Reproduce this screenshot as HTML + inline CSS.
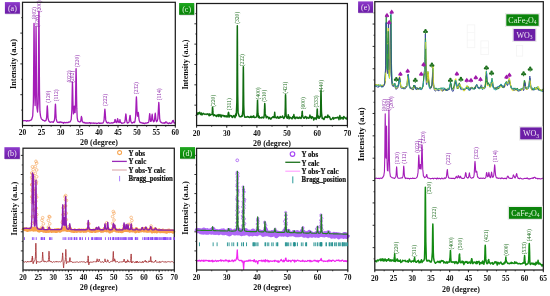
<!DOCTYPE html>
<html><head><meta charset="utf-8"><style>
html,body{margin:0;padding:0;background:#fff;width:550px;height:296px;overflow:hidden}
svg{display:block;filter:blur(0.3px)}
text{font-family:"Liberation Serif", serif}
</style></head><body>
<svg width="550" height="296" viewBox="0 0 550 296">
<defs>
<linearGradient id="gp" x1="0" y1="0" x2="0" y2="1"><stop offset="0" stop-color="#8e3ccc"/><stop offset="0.5" stop-color="#7a26b6"/><stop offset="1" stop-color="#6c1ea8"/></linearGradient>
<linearGradient id="gg" x1="0" y1="0" x2="0" y2="1"><stop offset="0" stop-color="#22a822"/><stop offset="0.5" stop-color="#0e920e"/><stop offset="1" stop-color="#0a820a"/></linearGradient>
</defs>
<rect width="550" height="296" fill="#fff"/>

<path d="M22.5 120.75 23.1 120.87 23.7 120.73 24.3 120.58 24.91 120.73 25.51 120.59 26.11 120.92 26.71 121.31 27.31 120.75 27.91 120.69 28.52 120.98 29.12 120.87 29.72 120.67 30.32 120.17 30.92 120.12 31.52 119.78 32.13 118.09 32.73 115.79 33.33 102.94 33.46 93.76 33.65 71.23 33.85 41.15 33.93 29.27 34.04 23.38 34.23 40.47 34.42 70.05 34.53 83.38 34.61 91.28 35.13 105.6 35.49 92.16 35.68 71.29 35.73 63.75 35.87 43.12 36.06 26.73 36.25 44.1 36.34 56.48 36.44 72.52 36.63 93.72 36.94 107.68 37.54 111.99 38.14 103.67 38.35 89.72 38.54 64.67 38.73 31.19 38.74 30.28 38.93 11.08 39.12 31.7 39.31 65.64 39.34 71.1 39.5 91.2 39.95 111.68 40.55 116.15 41.15 118.27 41.75 119.29 42.35 119.61 42.95 120.27 43.56 120.35 44.16 120.8 44.76 121.19 45.36 120.58 45.96 120.54 46.56 118.01 46.64 117.34 46.87 113.25 47.1 108.36 47.16 107.2 47.33 105.88 47.56 108.97 47.77 112.93 47.79 113.55 48.02 117.77 48.37 119.61 48.97 121.21 49.57 121.69 50.17 122.28 50.77 122.21 51.38 121.96 51.98 121.96 52.58 121.96 53.18 122.37 53.78 121.47 54.38 120.35 54.74 117.61 54.97 113.23 54.99 112.86 55.2 107.14 55.43 104.11 55.59 105.74 55.66 107.84 55.89 113.5 56.12 117.55 56.19 118.66 56.79 121.27 57.39 122.28 57.99 122.21 58.59 122.52 59.2 122.04 59.8 122.58 60.4 122.01 61 121.94 61.6 122.48 62.2 122.32 62.81 122.65 63.41 123.28 64.01 122.36 64.61 122.42 65.21 122.67 65.81 122.74 66.41 122.52 67.02 122.48 67.62 122.7 68.22 122.57 68.82 121.99 69.42 122.08 70.02 121.79 70.63 120.8 71.23 119.49 71.78 111.26 71.83 110.15 72.01 102.27 72.24 89.51 72.43 82.05 72.47 81.96 72.69 88.43 72.92 100.87 73.03 105.96 73.15 109.04 73.46 113.81 73.63 112.47 73.73 112.36 73.99 108.17 74.24 106.29 74.26 106.06 74.53 107.75 74.8 112.03 74.84 112.46 75.06 112.65 75.41 106.29 75.44 105.11 75.64 94.36 75.87 78.45 76.04 68.99 76.09 68.53 76.32 78.29 76.55 95.37 76.64 100.74 76.78 108.39 77.24 117.78 77.84 120.85 78.45 121.5 79.05 121.72 79.65 121.99 80.25 121.77 80.72 121 80.85 120.27 80.98 119.53 81.25 117.3 81.45 116.45 81.52 117.12 81.79 117.58 82.05 119.43 82.06 119.87 82.32 121.62 82.66 121.66 83.26 122.53 83.86 122.57 84.46 122.33 85.06 123.14 85.67 122.95 86.27 123.02 86.87 122.79 87.47 123.18 88.07 122.9 88.67 123.03 89.27 122.76 89.88 122.74 90.48 123.52 91.08 122.97 91.68 123.22 92.28 123.13 92.88 123.02 93.49 123 94.09 123.35 94.69 123.08 95.29 123.13 95.89 123.18 96.49 123.53 97.1 123.38 97.7 123.29 98.3 123 98.9 122.75 99.5 123.44 100.1 123.43 100.7 123.07 101.31 123.23 101.91 123.22 102.51 123.1 103.11 122.82 103.71 121.47 104.1 119.84 104.31 116.4 104.36 116.3 104.63 111.62 104.9 109.09 104.92 109.4 105.16 111.92 105.43 115.71 105.52 116.79 105.7 119.64 106.12 121.42 106.72 122.59 107.32 123.13 107.92 122.52 108.53 122.46 109.13 123.22 109.73 123.18 110.33 123.11 110.93 123.2 111.53 122.93 112.13 122.72 112.74 123.09 113.34 122.78 113.94 122.35 114.33 122.45 114.54 121.7 114.6 121.63 114.87 120.12 115.14 119.58 115.14 119.47 115.4 120.1 115.67 121.47 115.74 121.42 115.94 122.24 116.35 122.6 116.82 122.59 116.95 121.18 117.08 121.35 117.35 119.79 117.55 119.14 117.62 118.65 117.89 119.68 118.15 121.3 118.15 121.06 118.42 122 118.75 122.34 119.11 122.63 119.35 121.83 119.38 121.12 119.64 120.82 119.91 120 119.96 119.64 120.18 120.92 120.44 122.3 120.56 122.2 120.71 122.14 121.16 122.64 121.76 123.4 122.36 123.13 122.96 123.07 123.56 122.95 124.17 122.75 124.77 122.17 125.03 120.99 125.3 118.8 125.37 117.68 125.56 116.03 125.83 114.01 125.97 115.05 126.1 115.48 126.37 118.66 126.57 120.39 126.63 120.37 127.17 122.87 127.78 123.1 128.38 122.47 128.98 122.18 129.23 121.15 129.5 118.45 129.58 118.58 129.77 116.74 130.03 115.35 130.18 115.5 130.3 116.68 130.57 119.18 130.78 121.12 130.84 121.14 131.39 122.44 131.99 123.2 132.59 122.63 133.19 122.62 133.79 122 134.39 122.61 134.99 121.4 135.6 116.61 135.61 116.3 135.88 110.1 136.15 101.87 136.2 100.21 136.41 96.88 136.68 101.48 136.8 105.49 136.95 109.38 137.21 114.35 137.33 115.29 137.4 115.66 137.63 116.22 137.94 113.86 138 113.28 138.25 112.34 138.55 114.2 138.6 115.08 138.86 118.07 139.16 120.07 139.21 120.36 139.81 122.11 140.41 122.69 141.01 122.41 141.61 122.94 142.21 122.83 142.81 123.4 143.42 122.94 144.02 123.36 144.62 123.65 145.22 123.09 145.82 122.99 146.42 123.19 147.03 123.05 147.63 122.62 148.23 122.72 148.83 121.76 148.9 120.68 149.17 118.59 149.43 115.51 149.44 115.86 149.71 113.69 149.97 115.32 150.03 116.67 150.24 118.15 150.51 120.72 150.64 121.4 151.24 121.16 151.39 120.68 151.65 119.29 151.84 116.9 151.92 115.97 152.19 114.26 152.44 116.04 152.46 116.62 152.72 119.06 152.99 120.35 153.04 120.62 153.64 121.82 154.24 121.3 154.44 120.23 154.71 118.15 154.85 116.66 154.98 114.96 155.25 113.25 155.45 114.41 155.51 114.99 155.78 118.17 156.05 120.75 156.05 120.38 156.65 121.75 157.25 120.9 157.85 118.62 157.94 116.98 158.22 112.38 158.46 107.78 158.51 106.47 158.8 102.42 159.06 105.21 159.08 106.2 159.37 112.7 159.66 117.91 159.66 118.42 160.26 121.64 160.86 122.22 161.46 122.45 162.07 122.96 162.67 123.03 163.27 122.79 163.87 123.17 164.47 122.71 164.8 123.24 165.07 123.01 165.18 122.91 165.56 121.99 165.67 122.17 165.94 121.84 166.28 121.98 166.32 122.05 166.71 122.23 166.88 122.36 167.09 123.2 167.48 123.09 168.08 123.32 168.68 123.59 169.28 122.78 169.89 123.05 170.49 123.3 171.09 123.27 171.69 122.71 171.86 122.93 172.24 122.01 172.29 121.48 172.63 120.74 172.89 120.78 173.01 120.62 173.39 120.46 173.5 121.69 173.77 122.14 174.1 122.97 174.15 122.53 174.7 123.01 175.3 122.93" fill="none" stroke="#a41cb8" stroke-width="1.3" stroke-linejoin="round" />
<text transform="translate(34,13.2) rotate(-90)" font-size="5.6" fill="#8a22a8" font-weight="normal" text-anchor="middle" dominant-baseline="central" >(002)</text>
<text transform="translate(36.9,21.3) rotate(-90)" font-size="5.6" fill="#8a22a8" font-weight="normal" text-anchor="middle" dominant-baseline="central" >(020)</text>
<text transform="translate(39.1,6.4) rotate(-90)" font-size="5.6" fill="#8a22a8" font-weight="normal" text-anchor="middle" dominant-baseline="central" >(200)</text>
<text transform="translate(47.6,96.7) rotate(-90)" font-size="5.6" fill="#8a22a8" font-weight="normal" text-anchor="middle" dominant-baseline="central" >(120)</text>
<text transform="translate(56,95.3) rotate(-90)" font-size="5.6" fill="#8a22a8" font-weight="normal" text-anchor="middle" dominant-baseline="central" >(112)</text>
<text transform="translate(69.2,76.5) rotate(-90)" font-size="5.6" fill="#8a22a8" font-weight="normal" text-anchor="middle" dominant-baseline="central" >(022)</text>
<text transform="translate(72.4,76.8) rotate(-90)" font-size="5.6" fill="#8a22a8" font-weight="normal" text-anchor="middle" dominant-baseline="central" >(202)</text>
<text transform="translate(76.5,61) rotate(-90)" font-size="5.6" fill="#8a22a8" font-weight="normal" text-anchor="middle" dominant-baseline="central" >(220)</text>
<text transform="translate(104.9,99.9) rotate(-90)" font-size="5.6" fill="#8a22a8" font-weight="normal" text-anchor="middle" dominant-baseline="central" >(222)</text>
<text transform="translate(136.4,88.2) rotate(-90)" font-size="5.6" fill="#8a22a8" font-weight="normal" text-anchor="middle" dominant-baseline="central" >(232)</text>
<text transform="translate(158.8,94.3) rotate(-90)" font-size="5.6" fill="#8a22a8" font-weight="normal" text-anchor="middle" dominant-baseline="central" >(114)</text>
<rect x="22.5" y="2.3" width="152.8" height="123.2" fill="none" stroke="#1c1c1c" stroke-width="1.25"/>
<line x1="22.5" y1="125.5" x2="22.5" y2="127.7" stroke="#1a1a1a" stroke-width="1.0" />
<text x="22.5" y="135.3" font-size="7.5" fill="#111" font-weight="bold" text-anchor="middle" >20</text>
<line x1="32.05" y1="125.5" x2="32.05" y2="126.8" stroke="#1a1a1a" stroke-width="0.8" />
<line x1="41.6" y1="125.5" x2="41.6" y2="127.7" stroke="#1a1a1a" stroke-width="1.0" />
<text x="41.6" y="135.3" font-size="7.5" fill="#111" font-weight="bold" text-anchor="middle" >25</text>
<line x1="51.15" y1="125.5" x2="51.15" y2="126.8" stroke="#1a1a1a" stroke-width="0.8" />
<line x1="60.7" y1="125.5" x2="60.7" y2="127.7" stroke="#1a1a1a" stroke-width="1.0" />
<text x="60.7" y="135.3" font-size="7.5" fill="#111" font-weight="bold" text-anchor="middle" >30</text>
<line x1="70.25" y1="125.5" x2="70.25" y2="126.8" stroke="#1a1a1a" stroke-width="0.8" />
<line x1="79.8" y1="125.5" x2="79.8" y2="127.7" stroke="#1a1a1a" stroke-width="1.0" />
<text x="79.8" y="135.3" font-size="7.5" fill="#111" font-weight="bold" text-anchor="middle" >35</text>
<line x1="89.35" y1="125.5" x2="89.35" y2="126.8" stroke="#1a1a1a" stroke-width="0.8" />
<line x1="98.9" y1="125.5" x2="98.9" y2="127.7" stroke="#1a1a1a" stroke-width="1.0" />
<text x="98.9" y="135.3" font-size="7.5" fill="#111" font-weight="bold" text-anchor="middle" >40</text>
<line x1="108.45" y1="125.5" x2="108.45" y2="126.8" stroke="#1a1a1a" stroke-width="0.8" />
<line x1="118" y1="125.5" x2="118" y2="127.7" stroke="#1a1a1a" stroke-width="1.0" />
<text x="118" y="135.3" font-size="7.5" fill="#111" font-weight="bold" text-anchor="middle" >45</text>
<line x1="127.55" y1="125.5" x2="127.55" y2="126.8" stroke="#1a1a1a" stroke-width="0.8" />
<line x1="137.1" y1="125.5" x2="137.1" y2="127.7" stroke="#1a1a1a" stroke-width="1.0" />
<text x="137.1" y="135.3" font-size="7.5" fill="#111" font-weight="bold" text-anchor="middle" >50</text>
<line x1="146.65" y1="125.5" x2="146.65" y2="126.8" stroke="#1a1a1a" stroke-width="0.8" />
<line x1="156.2" y1="125.5" x2="156.2" y2="127.7" stroke="#1a1a1a" stroke-width="1.0" />
<text x="156.2" y="135.3" font-size="7.5" fill="#111" font-weight="bold" text-anchor="middle" >55</text>
<line x1="165.75" y1="125.5" x2="165.75" y2="126.8" stroke="#1a1a1a" stroke-width="0.8" />
<line x1="175.3" y1="125.5" x2="175.3" y2="127.7" stroke="#1a1a1a" stroke-width="1.0" />
<text x="175.3" y="135.3" font-size="7.5" fill="#111" font-weight="bold" text-anchor="middle" >60</text>
<line x1="21.2" y1="110.1" x2="22.5" y2="110.1" stroke="#1a1a1a" stroke-width="0.8" />
<line x1="20.3" y1="94.7" x2="22.5" y2="94.7" stroke="#1a1a1a" stroke-width="0.9" />
<line x1="21.2" y1="79.3" x2="22.5" y2="79.3" stroke="#1a1a1a" stroke-width="0.8" />
<line x1="20.3" y1="63.9" x2="22.5" y2="63.9" stroke="#1a1a1a" stroke-width="0.9" />
<line x1="21.2" y1="48.5" x2="22.5" y2="48.5" stroke="#1a1a1a" stroke-width="0.8" />
<line x1="20.3" y1="33.1" x2="22.5" y2="33.1" stroke="#1a1a1a" stroke-width="0.9" />
<line x1="21.2" y1="17.7" x2="22.5" y2="17.7" stroke="#1a1a1a" stroke-width="0.8" />
<text x="98.9" y="145.4" font-size="8" fill="#111" font-weight="bold" text-anchor="middle" >2&#952; (degree)</text>
<text transform="translate(13.3,64) rotate(-90)" font-size="8.35" fill="#111" font-weight="bold" text-anchor="middle" dominant-baseline="central" >Intensity (a.u)</text>
<rect x="5.5" y="2.9" width="15" height="11.6" fill="#c8c0cc" opacity="0.55"/>
<rect x="4.9" y="2.1" width="15" height="11.6" fill="url(#gp)"/>
<text x="12.4" y="10.6" font-size="8" fill="#f0e8f4" text-anchor="middle">(a)</text>
<path d="M196.6 115.03 197.2 112.98 197.8 114.51 198.4 112.84 199 113.6 199.6 112.24 200.2 113.38 200.81 114.58 201.41 112.9 202.01 114.86 202.61 114.37 203.21 113.36 203.81 113.88 204.41 114.01 205.01 114.42 205.61 114.12 206.21 113.97 206.81 114.47 207.41 113.97 208.02 113.84 208.62 114.9 209.22 115.72 209.82 113.85 210.42 115.13 211.02 114.64 211.62 114.31 212.18 113.98 212.22 112.31 212.31 112.34 212.45 107.76 212.58 107.23 212.72 108.23 212.82 109.89 212.86 111.67 212.99 113.26 213.42 115.7 214.02 115.42 214.62 114.7 215.22 115.57 215.83 115.76 216.43 116.55 217.03 115.11 217.63 115.86 218.23 114.57 218.83 116.52 219.43 115.18 220.03 114.65 220.63 116.09 221.23 117.07 221.83 115.01 222.43 115.4 223.04 115.71 223.64 115.44 224.24 116.69 224.84 115.77 225.44 115.87 226.04 116.95 226.64 115.89 227.24 116.84 227.84 115.54 228.12 114.55 228.27 112.92 228.42 114.43 228.44 112.48 228.57 112.37 228.72 112.93 228.87 114.55 229.02 115.61 229.04 117.21 229.64 115.74 230.24 115.41 230.85 115.9 231.45 115.67 232.05 117.35 232.65 117.42 233.25 115.99 233.85 115.63 234.45 116.4 235.05 117.68 235.65 114 236.25 115.7 236.85 102.64 236.93 95.87 237.06 71.18 237.19 42.44 237.32 25.87 237.44 41.9 237.45 45.94 237.57 72.72 237.7 94.74 238.05 112.79 238.66 114.44 239.26 116.22 239.86 116.73 240.46 116.77 241.06 116.77 241.66 115.82 242.26 116.18 242.86 110.69 242.96 106.03 243.09 93.73 243.22 75.82 243.35 66.67 243.46 74.29 243.48 75.46 243.6 91.66 243.73 104.99 244.06 114.28 244.66 117.12 245.26 116.91 245.87 117.34 246.47 117.07 247.07 116.69 247.67 116.55 248.27 117.15 248.87 116.93 249.47 117.57 250.07 117.4 250.67 116.33 251.27 117.49 251.87 116.38 252.47 116.97 253.07 117.24 253.68 115.82 254.28 117.55 254.88 117.59 255.48 117.32 256.08 117.02 256.68 116.71 257.12 112.76 257.25 109.12 257.28 107.77 257.39 104.03 257.52 100.14 257.66 104.15 257.79 109.46 257.88 112.16 257.93 113.21 258.48 117.61 259.08 116.1 259.68 117.89 260.28 117.75 260.89 117.81 261.49 117.89 262.09 117.06 262.69 117.36 263.29 118 263.89 117.55 264.35 114.18 264.49 108.98 264.49 110.62 264.63 106.23 264.76 103.51 264.9 105.49 265.03 108.95 265.09 112.81 265.17 113.91 265.69 115.26 266.29 117.85 266.89 116.44 267.49 116.63 268.09 117.18 268.7 118.73 269.3 117.42 269.9 117.95 270.5 119.13 271.1 119.02 271.7 117.66 272.3 117.55 272.9 116.72 273.5 117.12 274.1 117.6 274.26 116.88 274.41 115.38 274.56 114.46 274.7 112.19 274.71 112.76 274.87 114.25 275.02 115.77 275.17 117.43 275.3 117.52 275.91 117.45 276.51 118.04 277.11 116.98 277.71 116.48 278.31 118.26 278.91 117.76 279.51 118.05 280.11 116.45 280.71 117.52 281.31 117.33 281.91 117.11 282.51 115.98 283.11 117.48 283.72 118.4 284.32 117.79 284.92 115.9 285.16 112.11 285.3 106.72 285.44 96.24 285.52 95 285.57 94.81 285.71 98.99 285.84 107.47 285.98 113.02 286.12 115.56 286.72 117.64 287.32 118.22 287.83 116.62 287.92 116.64 287.98 117.05 288.14 116.95 288.29 114.76 288.44 115.36 288.52 116.1 288.59 117.43 288.74 117.09 289.12 118.88 289.72 117.03 290.32 117.69 290.93 117.69 291.53 118.49 292.13 118.69 292.73 116.63 293.33 116.97 293.56 117.55 293.72 116.12 293.87 114.62 293.93 116.4 294.02 115.81 294.17 116.24 294.32 116.27 294.47 118.11 294.53 117.26 295.13 118.72 295.73 117.15 296.33 117.2 296.93 118.06 297.53 117.34 298.13 118.44 298.74 118.1 299.34 117.15 299.94 117.94 300.54 117.56 301.14 118.47 301.74 115.61 301.75 115.62 301.89 114.9 302.02 113.11 302.16 111.54 302.3 111.37 302.34 112.34 302.43 115.16 302.57 115.87 302.94 116.83 303.54 117.92 304.14 118.24 304.74 117.24 305.34 116.59 305.95 116.76 306.55 118.45 307.15 117.31 307.75 117.79 308.35 118.06 308.95 118.29 309.32 117.18 309.55 117.34 309.55 116.23 309.78 116.01 310 115.13 310.15 117.02 310.23 116.28 310.45 116.35 310.68 117.17 310.75 117.38 311.35 118.42 311.95 116.62 312.55 117.08 313.15 117.61 313.76 119.94 314.36 118.67 314.96 117.8 315.56 118.42 316.16 119.38 316.76 116.23 316.83 115.32 316.97 114.16 317.1 110.5 317.24 109 317.36 109.38 317.38 111.64 317.51 114.55 317.65 116.04 317.96 117.98 318.56 116.09 319.16 118.21 319.76 117.34 320.36 116.52 320.6 111.9 320.74 104.18 320.87 94.3 320.96 91.85 321.01 90.38 321.15 95.39 321.28 103.98 321.42 111.09 321.57 113.33 322.17 118.44 322.77 117.94 323.37 118.72 323.97 119.46 324.57 117.92 325.17 116.47 325.77 117.2 326.37 116.94 326.97 117.44 327.42 117.54 327.57 115.55 327.65 117.24 327.87 115.11 328.1 116.22 328.17 115.94 328.32 116.07 328.55 116.91 328.78 117.05 328.78 116.99 329.38 116.54 329.98 117.91 330.58 119.42 331.18 119.54 331.78 119.02 332.38 118.53 332.98 117.43 333.58 119.12 334.18 117.93 334.78 117.92 335.38 117.74 335.98 118.04 336.59 117.62 337.19 117.9 337.79 117.09 338.39 117.64 338.99 119.62 339.18 117.56 339.41 117.04 339.59 117.26 339.63 117.31 339.86 115.6 340.09 116.58 340.19 117.7 340.31 117.45 340.54 117.72 340.79 119.07 341.39 117.4 341.99 118.03 342.59 117.55 343.19 119.17 343.8 116.42 344.4 117.44 345 117.56 345.6 118.51 346.2 118.47 346.8 119.1 347.4 116.73" fill="none" stroke="#0f6c0f" stroke-width="1.5" stroke-linejoin="round" />
<text transform="translate(212.6,100.8) rotate(-90)" font-size="5.6" fill="#1a6a1a" font-weight="normal" text-anchor="middle" dominant-baseline="central" >(220)</text>
<text transform="translate(228.7,104.2) rotate(-90)" font-size="5.6" fill="#1a6a1a" font-weight="normal" text-anchor="middle" dominant-baseline="central" >(311)</text>
<text transform="translate(236.6,17.8) rotate(-90)" font-size="5.6" fill="#1a6a1a" font-weight="normal" text-anchor="middle" dominant-baseline="central" >(320)</text>
<text transform="translate(242.4,60.2) rotate(-90)" font-size="5.6" fill="#1a6a1a" font-weight="normal" text-anchor="middle" dominant-baseline="central" >(222)</text>
<text transform="translate(257.5,93.4) rotate(-90)" font-size="5.6" fill="#1a6a1a" font-weight="normal" text-anchor="middle" dominant-baseline="central" >(400)</text>
<text transform="translate(263.8,95.8) rotate(-90)" font-size="5.6" fill="#1a6a1a" font-weight="normal" text-anchor="middle" dominant-baseline="central" >(510)</text>
<text transform="translate(285.3,87.6) rotate(-90)" font-size="5.6" fill="#1a6a1a" font-weight="normal" text-anchor="middle" dominant-baseline="central" >(421)</text>
<text transform="translate(302.6,103.3) rotate(-90)" font-size="5.6" fill="#1a6a1a" font-weight="normal" text-anchor="middle" dominant-baseline="central" >(600)</text>
<text transform="translate(316.3,101.5) rotate(-90)" font-size="5.6" fill="#1a6a1a" font-weight="normal" text-anchor="middle" dominant-baseline="central" >(533)</text>
<text transform="translate(321.3,86) rotate(-90)" font-size="5.6" fill="#1a6a1a" font-weight="normal" text-anchor="middle" dominant-baseline="central" >(440)</text>
<rect x="196.6" y="3.5" width="150.8" height="122" fill="none" stroke="#1c1c1c" stroke-width="1.25"/>
<line x1="196.6" y1="125.5" x2="196.6" y2="127.7" stroke="#1a1a1a" stroke-width="1.0" />
<text x="196.6" y="135.5" font-size="7.5" fill="#111" font-weight="bold" text-anchor="middle" >20</text>
<line x1="211.68" y1="125.5" x2="211.68" y2="126.8" stroke="#1a1a1a" stroke-width="0.8" />
<line x1="226.76" y1="125.5" x2="226.76" y2="127.7" stroke="#1a1a1a" stroke-width="1.0" />
<text x="226.76" y="135.5" font-size="7.5" fill="#111" font-weight="bold" text-anchor="middle" >30</text>
<line x1="241.84" y1="125.5" x2="241.84" y2="126.8" stroke="#1a1a1a" stroke-width="0.8" />
<line x1="256.92" y1="125.5" x2="256.92" y2="127.7" stroke="#1a1a1a" stroke-width="1.0" />
<text x="256.92" y="135.5" font-size="7.5" fill="#111" font-weight="bold" text-anchor="middle" >40</text>
<line x1="272" y1="125.5" x2="272" y2="126.8" stroke="#1a1a1a" stroke-width="0.8" />
<line x1="287.08" y1="125.5" x2="287.08" y2="127.7" stroke="#1a1a1a" stroke-width="1.0" />
<text x="287.08" y="135.5" font-size="7.5" fill="#111" font-weight="bold" text-anchor="middle" >50</text>
<line x1="302.16" y1="125.5" x2="302.16" y2="126.8" stroke="#1a1a1a" stroke-width="0.8" />
<line x1="317.24" y1="125.5" x2="317.24" y2="127.7" stroke="#1a1a1a" stroke-width="1.0" />
<text x="317.24" y="135.5" font-size="7.5" fill="#111" font-weight="bold" text-anchor="middle" >60</text>
<line x1="332.32" y1="125.5" x2="332.32" y2="126.8" stroke="#1a1a1a" stroke-width="0.8" />
<line x1="347.4" y1="125.5" x2="347.4" y2="127.7" stroke="#1a1a1a" stroke-width="1.0" />
<text x="347.4" y="135.5" font-size="7.5" fill="#111" font-weight="bold" text-anchor="middle" >70</text>
<line x1="195.3" y1="115.33" x2="196.6" y2="115.33" stroke="#1a1a1a" stroke-width="0.8" />
<line x1="194.4" y1="105.16" x2="196.6" y2="105.16" stroke="#1a1a1a" stroke-width="0.9" />
<line x1="195.3" y1="94.99" x2="196.6" y2="94.99" stroke="#1a1a1a" stroke-width="0.8" />
<line x1="194.4" y1="84.82" x2="196.6" y2="84.82" stroke="#1a1a1a" stroke-width="0.9" />
<line x1="195.3" y1="74.65" x2="196.6" y2="74.65" stroke="#1a1a1a" stroke-width="0.8" />
<line x1="194.4" y1="64.48" x2="196.6" y2="64.48" stroke="#1a1a1a" stroke-width="0.9" />
<line x1="195.3" y1="54.31" x2="196.6" y2="54.31" stroke="#1a1a1a" stroke-width="0.8" />
<line x1="194.4" y1="44.14" x2="196.6" y2="44.14" stroke="#1a1a1a" stroke-width="0.9" />
<line x1="195.3" y1="33.97" x2="196.6" y2="33.97" stroke="#1a1a1a" stroke-width="0.8" />
<line x1="194.4" y1="23.8" x2="196.6" y2="23.8" stroke="#1a1a1a" stroke-width="0.9" />
<line x1="195.3" y1="13.63" x2="196.6" y2="13.63" stroke="#1a1a1a" stroke-width="0.8" />
<text x="272" y="145.9" font-size="8" fill="#111" font-weight="bold" text-anchor="middle" >2&#952; (degree)</text>
<text transform="translate(185,64.5) rotate(-90)" font-size="8" fill="#111" font-weight="bold" text-anchor="middle" dominant-baseline="central" >Intensity (a.u.)</text>
<rect x="179.7" y="3.8" width="15.1" height="11.8" fill="#c8c0cc" opacity="0.55"/>
<rect x="179.1" y="3" width="15.1" height="11.8" fill="url(#gg)"/>
<text x="186.65" y="11.6" font-size="8" fill="#e4f4e0" text-anchor="middle">(c)</text>
<path d="M23 230.49 23.6 229.19 24.21 229.14 24.81 229.35 25.41 229.16 26.01 229.66 26.62 229.26 27.22 230.11 27.82 230.08 28.43 229.84 29.03 229.42 29.63 229.81 30.23 229.76 30.84 228.59 31.44 228.98 31.9 229.19 31.94 229 32.04 229.55 32.08 229.41 32.11 228.6 32.26 229 32.27 228.62 32.44 229.2 32.61 228.64 32.62 229.36 32.64 229.14 32.77 229.39 32.8 228.95 32.94 228.43 32.99 229.73 33.11 228.96 33.25 229.59 33.27 229.21 33.44 229.32 33.61 229.79 33.77 229.21 33.85 229.63 33.94 228.48 34.45 229.45 35.06 229.02 35.41 229.07 35.45 229.13 35.59 229.27 35.62 229.79 35.66 228.39 35.77 229.15 35.78 228.84 35.95 229.6 36.12 228.97 36.13 229.32 36.26 228.98 36.28 229.4 36.31 229.54 36.45 228.98 36.5 229.16 36.86 228.57 37.47 229.72 38.07 230.42 38.67 230.08 39.28 230.87 39.88 229.66 40.48 229.79 41.08 229.99 41.69 230.31 42.03 230.24 42.12 230.01 42.25 229.65 42.29 229.81 42.31 229.26 42.46 228.66 42.49 228.67 42.67 230.01 42.85 228.22 42.88 229.1 42.89 229.75 43.03 229.66 43.09 229.37 43.21 230.07 43.3 230.61 43.49 230.96 44.1 230.27 44.7 230.97 45.3 230.78 45.91 231.13 46.51 231.25 47.11 230.55 47.71 230.08 48.32 230.64 48.45 231.03 48.54 230.4 48.66 229.84 48.72 230.47 48.87 228.77 48.9 229.55 48.92 228.96 49.08 229.21 49.27 229.22 49.3 229.79 49.45 229.14 49.51 229.54 49.52 229.17 49.63 230.32 49.72 230.14 50.13 230.8 50.73 230.27 51.33 230.58 51.93 231.15 52.54 230.67 53.14 230.99 53.74 230.96 54.35 230.6 54.95 230.12 55.55 231.14 56.15 230.81 56.76 231.13 57.36 229.92 57.96 230.05 58.56 229.84 59.17 230.31 59.77 231.03 60.37 230.76 60.98 230.36 61.58 230 62.18 229.53 62.29 229.11 62.46 229.39 62.63 229.29 62.78 228.36 62.79 229.08 62.96 229.78 63.12 229.07 63.29 229.18 63.39 228.99 63.61 229.04 63.79 229.68 63.97 229.13 63.99 228.83 64.15 227.99 64.34 229.01 64.52 228.45 64.59 228.51 64.7 229.56 64.94 229.52 65.17 228.47 65.18 229.58 65.2 229.42 65.33 228.93 65.42 229.53 65.5 228.59 65.67 228.76 65.8 228.67 65.83 228.8 65.91 229.59 66 228.71 66.15 228.78 66.17 228.86 66.39 229.32 66.4 229.11 67 230.25 67.61 230.02 68.21 229.91 68.81 230.1 69.21 229.27 69.39 228.88 69.41 229.36 69.57 229.98 69.75 229.02 69.93 229.27 70.02 229.79 70.11 228.99 70.3 228.94 70.62 229.9 71.22 230.8 71.83 230.92 72.43 230.69 73.03 230.79 73.63 231.3 74.24 231.15 74.84 230.25 75.44 230.82 76.05 230.87 76.65 231.12 77.25 230.74 77.85 230.58 78.46 230.66 79.06 230.13 79.66 230.84 80.26 230.61 80.87 231.04 81.47 230.44 82.07 230.68 82.68 230.46 83.28 230.42 83.88 231.12 84.48 230.65 85.09 231 85.69 230.35 86.29 230.79 86.9 229.96 87.5 229.76 87.73 229.1 87.91 229.53 88.09 229.37 88.1 229.23 88.27 229.63 88.45 229.38 88.63 229.52 88.7 229.61 88.82 229.27 89.31 230.33 89.91 230.84 90.51 230.62 91.12 230.98 91.72 231.29 92.32 231.19 92.92 230.7 93.53 230.34 94.13 230.83 94.73 230.78 95.33 231.2 95.9 230.11 95.94 230.09 96.11 229.95 96.32 229.13 96.53 229.26 96.54 230.01 96.74 229.92 96.96 229.87 97.14 230.26 97.17 229.82 97.75 230.73 98.01 230.12 98.23 229.47 98.35 229.12 98.44 229.33 98.65 229.26 98.86 229.46 98.95 229.9 99.07 229.55 99.29 229.49 99.55 230.21 100.16 230.17 100.76 230.53 101.36 231.08 101.97 231.02 102.57 230.61 103.17 230.91 103.77 230.4 104.38 229.28 104.46 228.85 104.64 229.01 104.82 229.92 104.98 228.82 105 229.85 105.19 229.88 105.37 229.28 105.55 229.35 105.58 229.31 106.18 230.56 106.79 230.67 107.18 229.36 107.36 229.76 107.39 229.83 107.55 229.5 107.73 229.49 107.91 229.34 107.99 229.5 108.09 228.92 108.27 229.52 108.6 230.45 109.2 230.39 109.8 231.67 110.4 230.44 111.01 230.47 111.61 230.88 112.21 229.81 112.51 229.89 112.74 228.77 112.78 228.99 112.82 229.32 112.93 229.5 113.05 229.82 113.13 229.7 113.33 229.85 113.42 229.61 113.52 229.19 113.6 229.82 113.72 229.18 113.87 229.13 113.92 229.99 114.02 229.69 114.05 229.47 114.14 229.68 114.26 229.73 114.48 228.84 114.62 229.34 114.69 228.91 114.9 229.43 115.11 229.11 115.23 229.93 115.32 229.88 115.83 230.32 116.43 230.81 117.04 230.39 117.64 230.92 118.24 231.14 118.84 231.03 119.45 230.16 120.05 230.8 120.65 231.13 121.25 231.03 121.86 231.35 122.46 230.3 123.06 230.81 123.52 229.15 123.67 229.49 123.71 229.57 123.89 229.69 124.07 229.18 124.25 229.49 124.27 228.94 124.43 228.85 124.61 229.63 124.87 230.18 125.47 229.47 125.64 229.14 125.82 229.42 126.01 230.04 126.08 229.84 126.19 229.74 126.37 228.7 126.55 229.38 126.68 229.61 126.73 229.61 127.28 230.25 127.46 229.36 127.64 230.13 127.82 230.01 127.89 229.39 128 229.03 128.18 230.25 128.37 229.2 128.49 229.9 128.55 230.32 129.09 230.29 129.69 230.84 130.3 230.3 130.41 230.41 130.59 229.6 130.67 230.21 130.79 229.67 130.9 229.43 130.92 229.88 130.98 229.32 131.18 229.29 131.38 230.33 131.44 229.11 131.5 229.24 131.57 229.45 131.69 229.01 131.77 228.66 131.95 230.67 132.1 230.23 132.71 230.62 133.31 230.76 133.91 230.54 134.52 230.5 135.12 230.93 135.57 231.6 135.72 230.77 135.87 230.57 136.17 229.2 136.32 229.61 136.47 229.08 136.78 230.12 136.93 229.95 137.08 230.3 137.38 230.61 137.53 230.52 138.13 230.33 138.74 231.19 139.34 230.41 139.94 230.48 140.54 230.78 141.15 230.34 141.32 230.52 141.62 230.2 141.75 229.57 141.92 229.55 142.22 229.48 142.35 229.81 142.53 228.73 142.83 229.93 142.95 229.69 143.13 229.89 143.56 230.76 144.16 230.67 144.76 230.77 144.95 230.71 145.25 228.61 145.37 229.45 145.55 230.26 145.86 229.83 145.97 230.06 146.16 229.52 146.46 228.98 146.57 229.42 146.76 230.58 147.17 231.13 147.78 230.61 148.38 230.81 148.98 230.97 149.59 229.83 149.79 230.05 150.09 230.14 150.19 230.37 150.39 229.45 150.7 230.23 150.79 229.29 151 229.18 151.3 228.61 151.39 230.02 151.61 230.05 152 231.66 152.6 231.06 153.2 231.04 153.81 230.23 154.41 231.38 154.63 230.43 154.93 230.02 155.01 229.05 155.24 229.88 155.54 229.91 155.61 229.27 155.84 229.55 156.14 230.26 156.22 230.63 156.45 230.64 156.82 231.59 157.42 230.93 158.02 230.82 158.63 230.89 159.23 230.08 159.83 230.78 160.44 231.51 161.04 231.22 161.64 230.79 162.24 231.26 162.85 230.32 163.45 231.02 164.05 231.34 164.66 231.41 165.26 230.83 165.86 231.51 166.46 231.89 167.07 230.98 167.67 231.45 168.27 230.53 168.87 230.37 169.48 231.4 170.08 231.18 170.68 231.24 171.29 230.93 171.89 231.05 172.49 231.49 173.09 231.86 173.7 231.09 174.3 230.51" fill="none" stroke="#f7a24c" stroke-width="3.6" stroke-linejoin="round" />
<circle cx="31.74" cy="172.97" r="1.35" fill="none" stroke="#f5a050" stroke-width="0.6"/>
<circle cx="33.14" cy="169.57" r="1.35" fill="none" stroke="#f5a050" stroke-width="0.6"/>
<circle cx="32.44" cy="166.79" r="1.35" fill="none" stroke="#f5a050" stroke-width="0.6"/>
<circle cx="35.25" cy="180.13" r="1.35" fill="none" stroke="#f5a050" stroke-width="0.6"/>
<circle cx="36.65" cy="176.73" r="1.35" fill="none" stroke="#f5a050" stroke-width="0.6"/>
<circle cx="35.25" cy="173.33" r="1.35" fill="none" stroke="#f5a050" stroke-width="0.6"/>
<circle cx="36.65" cy="169.93" r="1.35" fill="none" stroke="#f5a050" stroke-width="0.6"/>
<circle cx="35.25" cy="166.53" r="1.35" fill="none" stroke="#f5a050" stroke-width="0.6"/>
<circle cx="36.65" cy="163.13" r="1.35" fill="none" stroke="#f5a050" stroke-width="0.6"/>
<circle cx="35.95" cy="161.36" r="1.35" fill="none" stroke="#f5a050" stroke-width="0.6"/>
<circle cx="41.97" cy="227.16" r="1.35" fill="none" stroke="#f5a050" stroke-width="0.6"/>
<circle cx="43.37" cy="223.76" r="1.35" fill="none" stroke="#f5a050" stroke-width="0.6"/>
<circle cx="41.97" cy="220.36" r="1.35" fill="none" stroke="#f5a050" stroke-width="0.6"/>
<circle cx="42.67" cy="217.71" r="1.35" fill="none" stroke="#f5a050" stroke-width="0.6"/>
<circle cx="48.38" cy="227.19" r="1.35" fill="none" stroke="#f5a050" stroke-width="0.6"/>
<circle cx="49.78" cy="223.79" r="1.35" fill="none" stroke="#f5a050" stroke-width="0.6"/>
<circle cx="48.38" cy="220.39" r="1.35" fill="none" stroke="#f5a050" stroke-width="0.6"/>
<circle cx="49.78" cy="216.99" r="1.35" fill="none" stroke="#f5a050" stroke-width="0.6"/>
<circle cx="49.08" cy="216.5" r="1.35" fill="none" stroke="#f5a050" stroke-width="0.6"/>
<circle cx="112.63" cy="223.4" r="1.35" fill="none" stroke="#f5a050" stroke-width="0.6"/>
<circle cx="114.03" cy="220" r="1.35" fill="none" stroke="#f5a050" stroke-width="0.6"/>
<circle cx="112.63" cy="216.6" r="1.35" fill="none" stroke="#f5a050" stroke-width="0.6"/>
<circle cx="114.03" cy="213.2" r="1.35" fill="none" stroke="#f5a050" stroke-width="0.6"/>
<circle cx="113.33" cy="211.53" r="1.35" fill="none" stroke="#f5a050" stroke-width="0.6"/>
<circle cx="130.48" cy="223.96" r="1.35" fill="none" stroke="#f5a050" stroke-width="0.6"/>
<circle cx="131.88" cy="220.56" r="1.35" fill="none" stroke="#f5a050" stroke-width="0.6"/>
<circle cx="131.18" cy="217.43" r="1.35" fill="none" stroke="#f5a050" stroke-width="0.6"/>
<circle cx="64.97" cy="196.74" r="1.35" fill="none" stroke="#f5a050" stroke-width="0.6"/>
<circle cx="65.67" cy="195.53" r="1.35" fill="none" stroke="#f5a050" stroke-width="0.6"/>
<circle cx="32.34" cy="223.35" r="1.3" fill="none" stroke="#f5a050" stroke-width="0.6"/>
<circle cx="32.29" cy="216.65" r="1.3" fill="none" stroke="#f5a050" stroke-width="0.6"/>
<circle cx="33.37" cy="210.09" r="1.3" fill="none" stroke="#f5a050" stroke-width="0.6"/>
<circle cx="32.36" cy="202.63" r="1.3" fill="none" stroke="#f5a050" stroke-width="0.6"/>
<circle cx="31.77" cy="196.71" r="1.3" fill="none" stroke="#f5a050" stroke-width="0.6"/>
<circle cx="32.16" cy="190.73" r="1.3" fill="none" stroke="#f5a050" stroke-width="0.6"/>
<circle cx="31.78" cy="184.92" r="1.3" fill="none" stroke="#f5a050" stroke-width="0.6"/>
<circle cx="31.69" cy="177.33" r="1.3" fill="none" stroke="#f5a050" stroke-width="0.6"/>
<circle cx="32.59" cy="174.2" r="1.3" fill="none" stroke="#f5a050" stroke-width="0.6"/>
<circle cx="32.92" cy="181.64" r="1.3" fill="none" stroke="#f5a050" stroke-width="0.6"/>
<circle cx="32.47" cy="188.78" r="1.3" fill="none" stroke="#f5a050" stroke-width="0.6"/>
<circle cx="32.77" cy="194.46" r="1.3" fill="none" stroke="#f5a050" stroke-width="0.6"/>
<circle cx="32.28" cy="199.98" r="1.3" fill="none" stroke="#f5a050" stroke-width="0.6"/>
<circle cx="32.67" cy="197.88" r="1.3" fill="none" stroke="#f5a050" stroke-width="0.6"/>
<circle cx="32.86" cy="191.93" r="1.3" fill="none" stroke="#f5a050" stroke-width="0.6"/>
<circle cx="31.78" cy="184.48" r="1.3" fill="none" stroke="#f5a050" stroke-width="0.6"/>
<circle cx="32.23" cy="179.22" r="1.3" fill="none" stroke="#f5a050" stroke-width="0.6"/>
<circle cx="33.11" cy="176.75" r="1.3" fill="none" stroke="#f5a050" stroke-width="0.6"/>
<circle cx="32.9" cy="183.95" r="1.3" fill="none" stroke="#f5a050" stroke-width="0.6"/>
<circle cx="33.38" cy="190.12" r="1.3" fill="none" stroke="#f5a050" stroke-width="0.6"/>
<circle cx="32.47" cy="197.09" r="1.3" fill="none" stroke="#f5a050" stroke-width="0.6"/>
<circle cx="33.99" cy="203.28" r="1.3" fill="none" stroke="#f5a050" stroke-width="0.6"/>
<circle cx="34.57" cy="209.41" r="1.3" fill="none" stroke="#f5a050" stroke-width="0.6"/>
<circle cx="33.86" cy="216.36" r="1.3" fill="none" stroke="#f5a050" stroke-width="0.6"/>
<circle cx="34.52" cy="222.37" r="1.3" fill="none" stroke="#f5a050" stroke-width="0.6"/>
<circle cx="35.17" cy="223.17" r="1.3" fill="none" stroke="#f5a050" stroke-width="0.6"/>
<circle cx="35.84" cy="217.4" r="1.3" fill="none" stroke="#f5a050" stroke-width="0.6"/>
<circle cx="35.51" cy="211.37" r="1.3" fill="none" stroke="#f5a050" stroke-width="0.6"/>
<circle cx="34.67" cy="203.82" r="1.3" fill="none" stroke="#f5a050" stroke-width="0.6"/>
<circle cx="36.69" cy="197.22" r="1.3" fill="none" stroke="#f5a050" stroke-width="0.6"/>
<circle cx="34.77" cy="191.63" r="1.3" fill="none" stroke="#f5a050" stroke-width="0.6"/>
<circle cx="36.17" cy="183.84" r="1.3" fill="none" stroke="#f5a050" stroke-width="0.6"/>
<circle cx="36.43" cy="181.77" r="1.3" fill="none" stroke="#f5a050" stroke-width="0.6"/>
<circle cx="35.28" cy="188.7" r="1.3" fill="none" stroke="#f5a050" stroke-width="0.6"/>
<circle cx="35.87" cy="194.73" r="1.3" fill="none" stroke="#f5a050" stroke-width="0.6"/>
<circle cx="36" cy="201.27" r="1.3" fill="none" stroke="#f5a050" stroke-width="0.6"/>
<circle cx="36.33" cy="208.27" r="1.3" fill="none" stroke="#f5a050" stroke-width="0.6"/>
<circle cx="36.84" cy="214.55" r="1.3" fill="none" stroke="#f5a050" stroke-width="0.6"/>
<circle cx="35.76" cy="220.61" r="1.3" fill="none" stroke="#f5a050" stroke-width="0.6"/>
<circle cx="62.16" cy="222.31" r="1.3" fill="none" stroke="#f5a050" stroke-width="0.6"/>
<circle cx="62.98" cy="214.72" r="1.3" fill="none" stroke="#f5a050" stroke-width="0.6"/>
<circle cx="63.18" cy="207.96" r="1.3" fill="none" stroke="#f5a050" stroke-width="0.6"/>
<circle cx="63.48" cy="207.17" r="1.3" fill="none" stroke="#f5a050" stroke-width="0.6"/>
<circle cx="63.5" cy="214.17" r="1.3" fill="none" stroke="#f5a050" stroke-width="0.6"/>
<circle cx="63.03" cy="220.52" r="1.3" fill="none" stroke="#f5a050" stroke-width="0.6"/>
<circle cx="63.09" cy="223.23" r="1.3" fill="none" stroke="#f5a050" stroke-width="0.6"/>
<circle cx="64.87" cy="220.7" r="1.3" fill="none" stroke="#f5a050" stroke-width="0.6"/>
<circle cx="65.08" cy="225.17" r="1.3" fill="none" stroke="#f5a050" stroke-width="0.6"/>
<circle cx="64.57" cy="219.96" r="1.3" fill="none" stroke="#f5a050" stroke-width="0.6"/>
<circle cx="64.31" cy="212.52" r="1.3" fill="none" stroke="#f5a050" stroke-width="0.6"/>
<circle cx="65.62" cy="205.82" r="1.3" fill="none" stroke="#f5a050" stroke-width="0.6"/>
<circle cx="66.47" cy="200.48" r="1.3" fill="none" stroke="#f5a050" stroke-width="0.6"/>
<circle cx="65.41" cy="199.73" r="1.3" fill="none" stroke="#f5a050" stroke-width="0.6"/>
<circle cx="65.07" cy="205.8" r="1.3" fill="none" stroke="#f5a050" stroke-width="0.6"/>
<circle cx="66.24" cy="213.31" r="1.3" fill="none" stroke="#f5a050" stroke-width="0.6"/>
<circle cx="66.31" cy="219.63" r="1.3" fill="none" stroke="#f5a050" stroke-width="0.6"/>
<circle cx="66.01" cy="226.18" r="1.3" fill="none" stroke="#f5a050" stroke-width="0.6"/>
<circle cx="69.17" cy="226.34" r="1.3" fill="none" stroke="#f5a050" stroke-width="0.6"/>
<circle cx="88.88" cy="223.76" r="1.3" fill="none" stroke="#f5a050" stroke-width="0.6"/>
<circle cx="88.26" cy="223.8" r="1.3" fill="none" stroke="#f5a050" stroke-width="0.6"/>
<circle cx="105.77" cy="224.87" r="1.3" fill="none" stroke="#f5a050" stroke-width="0.6"/>
<circle cx="106.71" cy="222.75" r="1.3" fill="none" stroke="#f5a050" stroke-width="0.6"/>
<circle cx="113.72" cy="225.84" r="1.3" fill="none" stroke="#f5a050" stroke-width="0.6"/>
<circle cx="114.37" cy="226.14" r="1.3" fill="none" stroke="#f5a050" stroke-width="0.6"/>
<circle cx="124.08" cy="225.71" r="1.3" fill="none" stroke="#f5a050" stroke-width="0.6"/>
<circle cx="128.26" cy="224.51" r="1.3" fill="none" stroke="#f5a050" stroke-width="0.6"/>
<circle cx="131.15" cy="225.53" r="1.3" fill="none" stroke="#f5a050" stroke-width="0.6"/>
<circle cx="151.07" cy="225.96" r="1.3" fill="none" stroke="#f5a050" stroke-width="0.6"/>
<path d="M23 228.77 23.6 228.63 24.21 228.5 24.81 228.4 25.41 228.32 26.01 228.28 26.62 228.28 27.22 228.31 27.82 228.37 28.43 228.43 29.03 228.47 29.63 228.47 30.23 228.34 30.84 227.92 31.44 226.45 31.9 217.36 31.94 214.78 32.04 207.28 32.08 203.96 32.11 200.96 32.26 184.6 32.27 183.04 32.44 172.97 32.61 181.32 32.62 182.68 32.64 184.7 32.77 196.04 32.8 198.11 32.94 202.71 32.99 202.29 33.11 196.68 33.25 184.84 33.27 182.59 33.44 174.55 33.61 184.3 33.77 201.63 33.85 208.66 33.94 214.96 34.45 226 35.06 225.84 35.41 218.85 35.45 216.6 35.59 207.08 35.62 204.44 35.66 200.71 35.77 190.01 35.78 188.64 35.95 180.13 36.12 188.78 36.13 190.16 36.26 202.6 36.28 204.71 36.31 207.38 36.45 217.03 36.5 219.33 36.86 226.86 37.47 228.5 38.07 228.98 38.67 229.2 39.28 229.32 39.88 229.39 40.48 229.43 41.08 229.45 41.69 229.4 42.03 229.13 42.12 228.94 42.25 228.58 42.29 228.42 42.31 228.35 42.46 227.7 42.49 227.58 42.67 227.16 42.85 227.59 42.88 227.71 42.89 227.76 43.03 228.37 43.09 228.6 43.21 228.97 43.3 229.16 43.49 229.38 44.1 229.53 44.7 229.56 45.3 229.58 45.91 229.59 46.51 229.59 47.11 229.59 47.71 229.56 48.32 229.39 48.45 229.22 48.54 229.02 48.66 228.65 48.72 228.41 48.87 227.74 48.9 227.61 48.92 227.55 49.08 227.19 49.27 227.62 49.3 227.75 49.45 228.41 49.51 228.65 49.52 228.71 49.63 229.03 49.72 229.22 50.13 229.53 50.73 229.6 51.33 229.62 51.93 229.63 52.54 229.64 53.14 229.64 53.74 229.65 54.35 229.65 54.95 229.65 55.55 229.64 56.15 229.64 56.76 229.63 57.36 229.62 57.96 229.61 58.56 229.59 59.17 229.56 59.77 229.52 60.37 229.43 60.98 229.27 61.58 228.85 62.18 225.78 62.29 223.32 62.46 217.12 62.63 209.11 62.78 204.75 62.79 204.73 62.96 208.93 63.12 216.73 63.29 222.57 63.39 224.41 63.61 225.06 63.79 222.89 63.97 219.58 63.99 219.28 64.15 217.74 64.34 219.59 64.52 222.94 64.59 224.11 64.7 225.29 64.94 225.49 65.17 220.88 65.18 220.32 65.2 219.83 65.33 212.87 65.42 207.14 65.5 202.39 65.67 196.74 65.8 200.55 65.83 202.52 65.91 207.33 66 213.14 66.15 220.77 66.17 221.35 66.39 226.53 66.4 226.62 67 228.8 67.61 229.21 68.21 229.33 68.81 229.2 69.21 228.12 69.39 226.66 69.41 226.4 69.57 224.77 69.75 223.75 69.93 224.79 70.02 225.68 70.11 226.71 70.3 228.18 70.62 229.24 71.22 229.54 71.83 229.62 72.43 229.66 73.03 229.68 73.63 229.7 74.24 229.71 74.84 229.72 75.44 229.73 76.05 229.73 76.65 229.74 77.25 229.74 77.85 229.75 78.46 229.75 79.06 229.75 79.66 229.76 80.26 229.76 80.87 229.76 81.47 229.76 82.07 229.76 82.68 229.76 83.28 229.76 83.88 229.76 84.48 229.75 85.09 229.74 85.69 229.72 86.29 229.67 86.9 229.55 87.5 228.86 87.73 227.43 87.91 225.06 88.09 221.98 88.1 221.79 88.27 220.32 88.45 221.98 88.63 225.06 88.7 226.11 88.82 227.44 89.31 229.36 89.91 229.62 90.51 229.7 91.12 229.74 91.72 229.76 92.32 229.77 92.92 229.77 93.53 229.77 94.13 229.77 94.73 229.75 95.33 229.68 95.9 229.18 95.94 229.09 96.11 228.57 96.32 227.78 96.53 227.34 96.54 227.34 96.74 227.76 96.96 228.54 97.14 229.07 97.17 229.13 97.75 229.42 98.01 229.02 98.23 228.3 98.35 227.75 98.44 227.36 98.65 226.85 98.86 227.37 98.95 227.77 99.07 228.33 99.29 229.07 99.55 229.52 100.16 229.72 100.76 229.76 101.36 229.78 101.97 229.78 102.57 229.76 103.17 229.73 103.77 229.62 104.38 228.77 104.46 228.33 104.64 226.84 104.82 224.92 104.98 223.9 105 223.87 105.19 224.9 105.37 226.82 105.55 228.29 105.58 228.48 106.18 229.48 106.79 229.33 107.18 227.93 107.36 226.08 107.39 225.75 107.55 223.68 107.73 222.38 107.91 223.69 107.99 224.8 108.09 226.1 108.27 227.97 108.6 229.29 109.2 229.65 109.8 229.73 110.4 229.75 111.01 229.74 111.61 229.69 112.21 229.51 112.51 229.13 112.74 228.21 112.78 227.91 112.82 227.66 112.93 226.61 113.05 225.33 113.13 224.54 113.33 223.4 113.42 223.65 113.52 224.44 113.6 225.18 113.72 226.34 113.87 227.38 113.92 227.57 114.02 227.76 114.05 227.75 114.14 227.58 114.26 227.03 114.48 225.66 114.62 224.97 114.69 224.9 114.9 225.79 115.11 227.37 115.23 228.11 115.32 228.59 115.83 229.57 116.43 229.74 117.04 229.79 117.64 229.82 118.24 229.84 118.84 229.85 119.45 229.85 120.05 229.85 120.65 229.85 121.25 229.83 121.86 229.81 122.46 229.74 123.06 229.53 123.52 228.14 123.67 226.85 123.71 226.4 123.89 224.15 124.07 222.93 124.25 224.13 124.27 224.35 124.43 226.35 124.61 228.06 124.87 229.12 125.47 229.04 125.64 228.4 125.82 227.09 126.01 225.37 126.08 224.81 126.19 224.44 126.37 225.37 126.55 227.07 126.68 228.07 126.73 228.37 127.28 229.01 127.46 228.38 127.64 227.08 127.82 225.37 127.89 224.86 128 224.45 128.18 225.4 128.37 227.14 128.49 228.12 128.55 228.48 129.09 229.59 129.69 229.65 130.3 229.36 130.41 229.13 130.59 228.39 130.67 227.91 130.79 226.91 130.9 225.81 130.92 225.57 130.98 224.99 131.18 223.96 131.38 225 131.44 225.59 131.5 226.24 131.57 226.93 131.69 227.94 131.77 228.42 131.95 229.17 132.1 229.47 132.71 229.76 133.31 229.83 133.91 229.86 134.52 229.85 135.12 229.79 135.57 229.56 135.72 229.4 135.87 229.2 136.17 228.73 136.32 228.54 136.47 228.47 136.78 228.73 136.93 228.97 137.08 229.2 137.38 229.57 137.53 229.68 138.13 229.86 138.74 229.89 139.34 229.89 139.94 229.87 140.54 229.82 141.15 229.55 141.32 229.33 141.62 228.72 141.75 228.38 141.92 227.93 142.22 227.49 142.35 227.58 142.53 227.92 142.83 228.7 142.95 228.99 143.13 229.31 143.56 229.68 144.16 229.75 144.76 229.46 144.95 229.2 145.25 228.47 145.37 228.11 145.55 227.52 145.86 227.01 145.97 227.09 146.16 227.52 146.46 228.48 146.57 228.79 146.76 229.22 147.17 229.67 147.78 229.82 148.38 229.84 148.98 229.79 149.59 229.45 149.79 229.11 150.09 228.25 150.19 227.89 150.39 227.13 150.7 226.52 150.79 226.59 151 227.13 151.3 228.25 151.39 228.56 151.61 229.12 152 229.65 152.6 229.85 153.2 229.89 153.81 229.88 154.41 229.71 154.63 229.5 154.93 229.01 155.01 228.85 155.24 228.38 155.54 228.04 155.61 228.06 155.84 228.39 156.14 229.03 156.22 229.17 156.45 229.53 156.82 229.82 157.42 229.95 158.02 229.98 158.63 230 159.23 230.02 159.83 230.02 160.44 230.03 161.04 230.04 161.64 230.04 162.24 230.04 162.85 230.05 163.45 230.05 164.05 230.05 164.66 230.06 165.26 230.06 165.86 230.06 166.46 230.07 167.07 230.07 167.67 230.07 168.27 230.07 168.87 230.08 169.48 230.08 170.08 230.08 170.68 230.08 171.29 230.08 171.89 230.09 172.49 230.09 173.09 230.09 173.7 230.09 174.3 230.1" fill="none" stroke="#8e1fb0" stroke-width="1.35" stroke-linejoin="round" />
<path d="M23 262.02 23.6 261.62 24.21 261.87 24.81 262.3 25.41 261.46 26.01 262.24 26.62 262.12 27.22 262.08 27.82 261.08 28.43 261.92 29.03 262.21 29.63 261.63 30.23 261.94 30.84 260.89 31.44 261.9 31.9 260.3 31.94 260.62 32.04 258.65 32.08 259.27 32.11 258.55 32.26 257.09 32.27 256.24 32.44 256.03 32.61 259.17 32.62 258.16 32.64 258.52 32.77 260.36 32.8 260.41 32.94 262.66 32.99 263.25 33.11 262.98 33.25 262.5 33.27 263.56 33.44 262.87 33.61 262.32 33.77 262.26 33.85 261.41 33.94 261.64 34.45 260.9 35.06 259.87 35.41 256.88 35.45 255.04 35.59 251.37 35.62 249.18 35.66 247.1 35.77 243.21 35.78 243.18 35.95 243.45 36.12 250.68 36.13 252.09 36.26 258.4 36.28 258.55 36.31 259.53 36.45 263.64 36.5 263.75 36.86 261.74 37.47 261.57 38.07 261.5 38.67 261.97 39.28 261.92 39.88 262.33 40.48 262.13 41.08 261.14 41.69 261.65 42.03 261.15 42.12 260.49 42.25 259.62 42.29 258.43 42.31 258.04 42.46 256.14 42.49 254.76 42.67 252.1 42.85 255.59 42.88 255.48 42.89 255.87 43.03 257.86 43.09 258.68 43.21 259.84 43.3 260.65 43.49 261.45 44.1 260.81 44.7 262.13 45.3 261.4 45.91 261.45 46.51 262.13 47.11 261.76 47.71 261 48.32 261.54 48.45 259.76 48.54 259.36 48.66 257.53 48.72 256.79 48.87 252.41 48.9 252.31 48.92 251.26 49.08 251.32 49.27 254.51 49.3 255.4 49.45 259.22 49.51 259.39 49.52 259.47 49.63 261.21 49.72 260.91 50.13 261.17 50.73 262.07 51.33 261.39 51.93 262.36 52.54 262.42 53.14 261.72 53.74 261.7 54.35 262.03 54.95 261.97 55.55 261.58 56.15 262.19 56.76 261.15 57.36 261.79 57.96 261.8 58.56 261.85 59.17 262.07 59.77 261.44 60.37 262.14 60.98 261.76 61.58 261.36 62.18 259.18 62.29 257.88 62.46 255.53 62.63 252.87 62.78 254.9 62.79 255.45 62.96 258.86 63.12 262 63.29 264.08 63.39 265.48 63.61 267.92 63.79 265.24 63.97 263.6 63.99 263.03 64.15 262.77 64.34 262.3 64.52 262.06 64.59 261.91 64.7 261.76 64.94 261.36 65.17 260.62 65.18 260.84 65.2 260.16 65.33 259.78 65.42 257.64 65.5 256.5 65.67 251.7 65.8 249.4 65.83 250.32 65.91 250.37 66 252.35 66.15 257.01 66.17 257.57 66.39 263.59 66.4 262.95 67 262.84 67.61 261.49 68.21 261.99 68.81 262.02 69.21 262.2 69.39 260.74 69.41 261.16 69.57 260.08 69.75 257.88 69.93 257.5 70.02 257.87 70.11 257.94 70.3 260.65 70.62 261.74 71.22 261.67 71.83 261.38 72.43 262.54 73.03 262.07 73.63 262.37 74.24 262.54 74.84 261.77 75.44 262.31 76.05 261.89 76.65 261.96 77.25 261.95 77.85 261.99 78.46 262.43 79.06 262.04 79.66 261.93 80.26 261.88 80.87 262.12 81.47 261.63 82.07 261.78 82.68 261.96 83.28 261.75 83.88 261.93 84.48 261.73 85.09 262.76 85.69 262.48 86.29 262.09 86.9 261.79 87.5 262.23 87.73 260.53 87.91 258.49 88.09 256.01 88.1 255.86 88.27 256.04 88.45 258.67 88.63 263.22 88.7 263.2 88.82 264.91 89.31 261.96 89.91 262.71 90.51 261.84 91.12 261.95 91.72 262.34 92.32 262.48 92.92 261.53 93.53 261.83 94.13 261.41 94.73 262.01 95.33 261.89 95.9 261.73 95.94 261.59 96.11 261.67 96.32 261.45 96.53 261.74 96.54 262.12 96.74 260.15 96.96 259.65 97.14 258.79 97.17 259.17 97.75 261.11 98.01 261.63 98.23 261.3 98.35 261.98 98.44 261.71 98.65 261.42 98.86 261.04 98.95 260.35 99.07 259.06 99.29 259.22 99.55 260.55 100.16 261.72 100.76 262.29 101.36 262.42 101.97 261.51 102.57 261.63 103.17 262.55 103.77 262.45 104.38 261.34 104.46 261.03 104.64 260.73 104.82 259.88 104.98 258.84 105 259.47 105.19 259.56 105.37 260.49 105.55 261.86 105.58 261.27 106.18 261.8 106.79 262.04 107.18 261.81 107.36 260.83 107.39 260.88 107.55 259.74 107.73 260.15 107.91 260.33 107.99 260.08 108.09 260.97 108.27 261.78 108.6 261.98 109.2 262.62 109.8 262.46 110.4 261.68 111.01 261.83 111.61 261.27 112.21 261.65 112.51 261.25 112.74 261.44 112.78 260.07 112.82 258.9 112.93 258.02 113.05 256.07 113.13 253.85 113.33 251.43 113.42 252.86 113.52 255.85 113.6 257.61 113.72 259.47 113.87 261.19 113.92 260.77 114.02 260.85 114.05 260.49 114.14 260.63 114.26 260.91 114.48 258.97 114.62 258.82 114.69 259.04 114.9 259.59 115.11 261.02 115.23 260.85 115.32 262.01 115.83 262.23 116.43 261.98 117.04 261.22 117.64 261.52 118.24 262.34 118.84 262.65 119.45 262.08 120.05 262.46 120.65 261.72 121.25 261.88 121.86 261.95 122.46 262.1 123.06 261.24 123.52 261.89 123.67 261.67 123.71 260.53 123.89 259.55 124.07 259.61 124.25 259.83 124.27 259.24 124.43 261.31 124.61 261.57 124.87 261.58 125.47 262.73 125.64 261.95 125.82 261.6 126.01 261.94 126.08 261.48 126.19 261.58 126.37 262.03 126.55 261.63 126.68 261.65 126.73 262.49 127.28 261.51 127.46 260.72 127.64 259.75 127.82 259.95 127.89 260.67 128 260.69 128.18 262.09 128.37 261.26 128.49 261.63 128.55 261.2 129.09 261.69 129.69 261.98 130.3 262.05 130.41 261.05 130.59 260.75 130.67 260.15 130.79 258.85 130.9 257.03 130.92 257.14 130.98 255.36 131.18 253.96 131.38 256.93 131.44 258.04 131.5 259.3 131.57 260.4 131.69 262.88 131.77 261.77 131.95 262.71 132.1 262.13 132.71 261.72 133.31 261.46 133.91 262.36 134.52 262.65 135.12 261.6 135.57 261.85 135.72 262.39 135.87 262.11 136.17 262.78 136.32 261.75 136.47 262.2 136.78 261.48 136.93 262.82 137.08 261.69 137.38 261.1 137.53 261.93 138.13 261.93 138.74 262.75 139.34 261.85 139.94 261.98 140.54 262.22 141.15 262.62 141.32 261.96 141.62 262.4 141.75 262.19 141.92 261.86 142.22 262.01 142.35 261.99 142.53 261.61 142.83 262.46 142.95 261.41 143.13 262.43 143.56 262.33 144.16 261.86 144.76 261.21 144.95 260.9 145.25 260.17 145.37 260.51 145.55 261.1 145.86 262.09 145.97 261.56 146.16 261.95 146.46 261.28 146.57 262.22 146.76 261.99 147.17 261.78 147.78 262.41 148.38 262.21 148.98 260.76 149.59 261.78 149.79 261.07 150.09 261.62 150.19 261.81 150.39 259.03 150.7 256.52 150.79 256.82 151 259.38 151.3 261.45 151.39 261.93 151.61 261.26 152 262.45 152.6 261.53 153.2 262.04 153.81 262.4 154.41 262.2 154.63 261.51 154.93 261.48 155.01 261.5 155.24 261.21 155.54 260.94 155.61 260.04 155.84 261.42 156.14 262.01 156.22 262.04 156.45 262.08 156.82 262.55 157.42 262.16 158.02 262.32 158.63 262.21 159.23 262.7 159.83 261.23 160.44 262.5 161.04 261.89 161.64 261.88 162.24 261.61 162.85 261.25 163.45 261.84 164.05 261.72 164.66 262.19 165.26 261.41 165.86 262.57 166.46 262.11 167.07 261.9 167.67 261.71 168.27 261.68 168.87 261.55 169.48 261.78 170.08 262 170.68 261.93 171.29 261.43 171.89 261.89 172.49 261.64 173.09 262.06 173.7 262.74 174.3 262.25" fill="none" stroke="#a8383a" stroke-width="0.9" stroke-linejoin="round" />
<rect x="23" y="148.2" width="151.3" height="121.8" fill="none" stroke="#1c1c1c" stroke-width="1.25"/>
<line x1="23" y1="270" x2="23" y2="272.2" stroke="#1a1a1a" stroke-width="1.0" />
<text x="23" y="280" font-size="7.5" fill="#111" font-weight="bold" text-anchor="middle" >20</text>
<line x1="26.03" y1="270" x2="26.03" y2="271.3" stroke="#1a1a1a" stroke-width="0.8" />
<line x1="29.05" y1="270" x2="29.05" y2="271.3" stroke="#1a1a1a" stroke-width="0.8" />
<line x1="32.08" y1="270" x2="32.08" y2="271.3" stroke="#1a1a1a" stroke-width="0.8" />
<line x1="35.1" y1="270" x2="35.1" y2="271.3" stroke="#1a1a1a" stroke-width="0.8" />
<line x1="38.13" y1="270" x2="38.13" y2="272.2" stroke="#1a1a1a" stroke-width="1.0" />
<text x="38.13" y="280" font-size="7.5" fill="#111" font-weight="bold" text-anchor="middle" >25</text>
<line x1="41.16" y1="270" x2="41.16" y2="271.3" stroke="#1a1a1a" stroke-width="0.8" />
<line x1="44.18" y1="270" x2="44.18" y2="271.3" stroke="#1a1a1a" stroke-width="0.8" />
<line x1="47.21" y1="270" x2="47.21" y2="271.3" stroke="#1a1a1a" stroke-width="0.8" />
<line x1="50.23" y1="270" x2="50.23" y2="271.3" stroke="#1a1a1a" stroke-width="0.8" />
<line x1="53.26" y1="270" x2="53.26" y2="272.2" stroke="#1a1a1a" stroke-width="1.0" />
<text x="53.26" y="280" font-size="7.5" fill="#111" font-weight="bold" text-anchor="middle" >30</text>
<line x1="56.29" y1="270" x2="56.29" y2="271.3" stroke="#1a1a1a" stroke-width="0.8" />
<line x1="59.31" y1="270" x2="59.31" y2="271.3" stroke="#1a1a1a" stroke-width="0.8" />
<line x1="62.34" y1="270" x2="62.34" y2="271.3" stroke="#1a1a1a" stroke-width="0.8" />
<line x1="65.36" y1="270" x2="65.36" y2="271.3" stroke="#1a1a1a" stroke-width="0.8" />
<line x1="68.39" y1="270" x2="68.39" y2="272.2" stroke="#1a1a1a" stroke-width="1.0" />
<text x="68.39" y="280" font-size="7.5" fill="#111" font-weight="bold" text-anchor="middle" >35</text>
<line x1="71.42" y1="270" x2="71.42" y2="271.3" stroke="#1a1a1a" stroke-width="0.8" />
<line x1="74.44" y1="270" x2="74.44" y2="271.3" stroke="#1a1a1a" stroke-width="0.8" />
<line x1="77.47" y1="270" x2="77.47" y2="271.3" stroke="#1a1a1a" stroke-width="0.8" />
<line x1="80.49" y1="270" x2="80.49" y2="271.3" stroke="#1a1a1a" stroke-width="0.8" />
<line x1="83.52" y1="270" x2="83.52" y2="272.2" stroke="#1a1a1a" stroke-width="1.0" />
<text x="83.52" y="280" font-size="7.5" fill="#111" font-weight="bold" text-anchor="middle" >40</text>
<line x1="86.55" y1="270" x2="86.55" y2="271.3" stroke="#1a1a1a" stroke-width="0.8" />
<line x1="89.57" y1="270" x2="89.57" y2="271.3" stroke="#1a1a1a" stroke-width="0.8" />
<line x1="92.6" y1="270" x2="92.6" y2="271.3" stroke="#1a1a1a" stroke-width="0.8" />
<line x1="95.62" y1="270" x2="95.62" y2="271.3" stroke="#1a1a1a" stroke-width="0.8" />
<line x1="98.65" y1="270" x2="98.65" y2="272.2" stroke="#1a1a1a" stroke-width="1.0" />
<text x="98.65" y="280" font-size="7.5" fill="#111" font-weight="bold" text-anchor="middle" >45</text>
<line x1="101.68" y1="270" x2="101.68" y2="271.3" stroke="#1a1a1a" stroke-width="0.8" />
<line x1="104.7" y1="270" x2="104.7" y2="271.3" stroke="#1a1a1a" stroke-width="0.8" />
<line x1="107.73" y1="270" x2="107.73" y2="271.3" stroke="#1a1a1a" stroke-width="0.8" />
<line x1="110.75" y1="270" x2="110.75" y2="271.3" stroke="#1a1a1a" stroke-width="0.8" />
<line x1="113.78" y1="270" x2="113.78" y2="272.2" stroke="#1a1a1a" stroke-width="1.0" />
<text x="113.78" y="280" font-size="7.5" fill="#111" font-weight="bold" text-anchor="middle" >50</text>
<line x1="116.81" y1="270" x2="116.81" y2="271.3" stroke="#1a1a1a" stroke-width="0.8" />
<line x1="119.83" y1="270" x2="119.83" y2="271.3" stroke="#1a1a1a" stroke-width="0.8" />
<line x1="122.86" y1="270" x2="122.86" y2="271.3" stroke="#1a1a1a" stroke-width="0.8" />
<line x1="125.88" y1="270" x2="125.88" y2="271.3" stroke="#1a1a1a" stroke-width="0.8" />
<line x1="128.91" y1="270" x2="128.91" y2="272.2" stroke="#1a1a1a" stroke-width="1.0" />
<text x="128.91" y="280" font-size="7.5" fill="#111" font-weight="bold" text-anchor="middle" >55</text>
<line x1="131.94" y1="270" x2="131.94" y2="271.3" stroke="#1a1a1a" stroke-width="0.8" />
<line x1="134.96" y1="270" x2="134.96" y2="271.3" stroke="#1a1a1a" stroke-width="0.8" />
<line x1="137.99" y1="270" x2="137.99" y2="271.3" stroke="#1a1a1a" stroke-width="0.8" />
<line x1="141.01" y1="270" x2="141.01" y2="271.3" stroke="#1a1a1a" stroke-width="0.8" />
<line x1="144.04" y1="270" x2="144.04" y2="272.2" stroke="#1a1a1a" stroke-width="1.0" />
<text x="144.04" y="280" font-size="7.5" fill="#111" font-weight="bold" text-anchor="middle" >60</text>
<line x1="147.07" y1="270" x2="147.07" y2="271.3" stroke="#1a1a1a" stroke-width="0.8" />
<line x1="150.09" y1="270" x2="150.09" y2="271.3" stroke="#1a1a1a" stroke-width="0.8" />
<line x1="153.12" y1="270" x2="153.12" y2="271.3" stroke="#1a1a1a" stroke-width="0.8" />
<line x1="156.14" y1="270" x2="156.14" y2="271.3" stroke="#1a1a1a" stroke-width="0.8" />
<line x1="159.17" y1="270" x2="159.17" y2="272.2" stroke="#1a1a1a" stroke-width="1.0" />
<text x="159.17" y="280" font-size="7.5" fill="#111" font-weight="bold" text-anchor="middle" >65</text>
<line x1="162.2" y1="270" x2="162.2" y2="271.3" stroke="#1a1a1a" stroke-width="0.8" />
<line x1="165.22" y1="270" x2="165.22" y2="271.3" stroke="#1a1a1a" stroke-width="0.8" />
<line x1="168.25" y1="270" x2="168.25" y2="271.3" stroke="#1a1a1a" stroke-width="0.8" />
<line x1="171.27" y1="270" x2="171.27" y2="271.3" stroke="#1a1a1a" stroke-width="0.8" />
<line x1="174.3" y1="270" x2="174.3" y2="272.2" stroke="#1a1a1a" stroke-width="1.0" />
<text x="174.3" y="280" font-size="7.5" fill="#111" font-weight="bold" text-anchor="middle" >70</text>
<line x1="21.7" y1="260.45" x2="23" y2="260.45" stroke="#1a1a1a" stroke-width="0.8" />
<line x1="20.8" y1="250.9" x2="23" y2="250.9" stroke="#1a1a1a" stroke-width="0.9" />
<line x1="21.7" y1="241.35" x2="23" y2="241.35" stroke="#1a1a1a" stroke-width="0.8" />
<line x1="20.8" y1="231.8" x2="23" y2="231.8" stroke="#1a1a1a" stroke-width="0.9" />
<line x1="21.7" y1="222.25" x2="23" y2="222.25" stroke="#1a1a1a" stroke-width="0.8" />
<line x1="20.8" y1="212.7" x2="23" y2="212.7" stroke="#1a1a1a" stroke-width="0.9" />
<line x1="21.7" y1="203.15" x2="23" y2="203.15" stroke="#1a1a1a" stroke-width="0.8" />
<line x1="20.8" y1="193.6" x2="23" y2="193.6" stroke="#1a1a1a" stroke-width="0.9" />
<line x1="21.7" y1="184.05" x2="23" y2="184.05" stroke="#1a1a1a" stroke-width="0.8" />
<line x1="20.8" y1="174.5" x2="23" y2="174.5" stroke="#1a1a1a" stroke-width="0.9" />
<line x1="21.7" y1="164.95" x2="23" y2="164.95" stroke="#1a1a1a" stroke-width="0.8" />
<line x1="20.8" y1="155.4" x2="23" y2="155.4" stroke="#1a1a1a" stroke-width="0.9" />
<text x="98.65" y="289.7" font-size="8" fill="#111" font-weight="bold" text-anchor="middle" >2&#952; (degree)</text>
<text transform="translate(13.6,208.6) rotate(-90)" font-size="8.6" fill="#111" font-weight="bold" text-anchor="middle" dominant-baseline="central" >Intensity (a.u.)</text>
<rect x="5" y="148" width="15.4" height="11.7" fill="#c8c0cc" opacity="0.55"/>
<rect x="4.4" y="147.2" width="15.4" height="11.7" fill="url(#gp)"/>
<text x="12.1" y="155.75" font-size="8" fill="#f0e8f4" text-anchor="middle">(b)</text>
<path d="M196.6 231.54 197.2 230.3 197.8 230.79 198.4 230.37 199 230.36 199.6 230.89 200.2 230.67 200.8 231.9 201.4 232.13 202 231.31 202.6 230.62 203.2 232.18 203.8 229.92 204.4 230.01 205 232.17 205.6 232.12 206.2 232.4 206.8 231.45 207.4 230.63 208 231.25 208.6 232.13 209.2 231.07 209.8 231.13 210.4 230.58 211 230.77 211.6 232.34 212.2 231.26 212.22 229.86 212.36 229.91 212.49 230.33 212.63 231.23 212.76 229.85 212.8 230.66 212.9 229.07 213.04 229.81 213.4 231.98 214 232.49 214.6 230.88 215.2 231.21 215.8 232.5 216.4 231.56 217 231.46 217.6 232.33 218.2 232.08 218.8 232.83 219.4 232.6 220 231.51 220.6 231.89 221.2 231.96 221.8 230.93 222.4 231.25 223 232.83 223.6 230.79 224.2 232.88 224.8 232.32 225.4 231.99 226 232.55 226.6 232.5 227.2 233.09 227.8 231.74 228.2 231.39 228.35 231.01 228.4 232.72 228.5 231.97 228.65 230.47 228.81 230.95 228.96 230.66 229 231.23 229.11 231.76 229.6 233.97 230.2 230.72 230.8 233.04 231.4 232.58 232 231.67 232.6 232.12 233.2 231.84 233.8 232.26 234.4 232.99 235 230.88 235.6 232.98 236.2 231.12 236.8 232.64 237.02 231.77 237.15 232.43 237.29 231.9 237.4 232.32 237.42 231.5 237.56 230.79 237.7 232 237.83 232.03 238 233.15 238.6 229.88 239.2 231.79 239.8 233.01 240.4 231.23 241 232.05 241.6 233.84 242.2 232.96 242.8 230.89 243.06 232.75 243.2 232.56 243.34 232.23 243.4 231.92 243.47 231.81 243.61 230.92 243.74 231.21 243.88 232.21 244 231.74 244.6 233.23 245.2 231.98 245.8 230.51 246.4 232.27 247 232.82 247.6 232.94 248.2 232.72 248.8 232.04 249.4 233.92 250 232.21 250.6 233.33 251.2 232.55 251.8 231.84 252.4 233.95 253 230.82 253.6 232.16 254.2 233.2 254.8 232.57 255.4 233.45 256 232.72 256.6 232.28 257.2 233.71 257.28 231.81 257.41 231.86 257.55 231.13 257.68 231.4 257.8 232.52 257.82 232.45 257.96 232.01 258.09 231.45 258.4 232.81 259 231.44 259.6 232.65 260.2 232.78 260.8 232.34 261.4 233.16 262 232.52 262.6 232.42 263.2 234.48 263.8 233.54 264.4 233.14 264.53 232.23 264.67 232.96 264.81 232.82 264.94 233.17 265 234.09 265.08 232.02 265.21 232.41 265.35 232.17 265.6 229.73 266.2 231.94 266.8 233.17 267.4 233.72 268 232.78 268.6 234.17 269.2 234.31 269.8 232.98 270.4 234.46 271 234.74 271.6 233.73 272.2 232.58 272.8 234.55 273.4 233.23 274 232.99 274.47 232.56 274.6 232.03 274.62 233.32 274.77 233.09 274.92 233.45 275.07 232.94 275.2 231.84 275.22 232.35 275.38 233.2 275.8 233 276.4 235.78 277 233.29 277.6 233.04 278.2 234.45 278.8 234.15 279.4 233.54 280 233.4 280.6 233.93 281.2 234.27 281.8 234.22 282.4 233.38 283 233.96 283.6 234.26 284.2 234.12 284.8 230.78 285.4 232.04 285.4 232.13 285.54 232.57 285.67 232.9 285.81 233.5 285.94 233.26 286 232.66 286.08 232.79 286.22 234.18 286.6 232.49 287.2 233.74 287.8 234.78 288.08 233.4 288.23 231.19 288.38 233.13 288.4 232.52 288.53 232.74 288.68 233.68 288.83 233.22 288.98 232.98 289 233.96 289.6 234.1 290.2 233.9 290.8 234.09 291.4 234.07 292 233.62 292.6 233.53 293.2 233.91 293.8 232.76 293.82 232.46 293.97 234.02 294.12 232.79 294.28 232.96 294.4 232.88 294.43 233.01 294.58 233.01 294.73 233.55 295 233.22 295.6 234.72 296.2 233.45 296.8 234.85 297.4 232.51 298 233.21 298.6 234.87 299.2 233.97 299.8 233.56 300.4 234.4 301 233.24 301.6 234.03 302.03 231.42 302.17 232.83 302.2 232.67 302.3 233.63 302.44 233.9 302.58 232.52 302.71 234.49 302.8 232.74 302.85 231.57 303.4 232.16 304 235.4 304.6 234.14 305.2 233.72 305.8 233.66 306.4 233.41 307 235.38 307.6 234.24 308.2 235.75 308.8 234.15 309.4 232.32 309.62 234.69 309.85 233.35 310 233.21 310.08 234.66 310.3 233.2 310.53 234.34 310.6 233.41 310.76 233.06 310.98 234.45 311.2 233.77 311.8 235.37 312.4 235.19 313 234.5 313.6 234.95 314.2 234.93 314.8 234.26 315.4 235.2 316 234.28 316.6 234.86 317.15 232.83 317.2 233.67 317.29 233.93 317.42 232.97 317.56 233.27 317.7 233.18 317.8 234.19 317.83 233.03 317.97 233.96 318.4 235.55 319 234.75 319.6 233.16 320.2 234.39 320.8 234.52 320.93 233.47 321.07 234.59 321.2 234.2 321.34 234.04 321.4 233.5 321.48 233.3 321.61 233.51 321.75 233.77 322 234.14 322.6 234.77 323.2 234.36 323.8 234.73 324.4 235.03 325 233.45 325.6 234.16 326.2 234.15 326.8 234.62 327.4 234.49 327.77 234.17 327.99 233.19 328 234.42 328.22 234.12 328.45 232.58 328.6 233.91 328.67 233 328.9 235.27 329.13 234.06 329.2 234.22 329.8 234.92 330.4 234.75 331 234.89 331.6 236.2 332.2 235.16 332.8 235.67 333.4 235.92 334 234.26 334.6 236.41 335.2 235.62 335.8 235.86 336.4 234.42 337 235.78 337.6 235.47 338.2 234.73 338.8 237 339.4 235.64 340 235.01 340.6 235.38 341.2 235.97 341.8 236.16 342.4 235.73 343 236.26 343.6 236.48 344.2 234.33 344.8 234.95 345.4 234.6 346 235.44 346.6 236.54 347.2 235.92 347.8 234.58" fill="none" stroke="#9a40f4" stroke-width="4.8" stroke-linejoin="round" opacity="0.8"/>
<circle cx="236.68" cy="226.46" r="1.05" fill="none" stroke="#9636f0" stroke-width="0.6"/>
<circle cx="236.63" cy="222.78" r="1.05" fill="none" stroke="#9636f0" stroke-width="0.6"/>
<circle cx="237.11" cy="218.75" r="1.05" fill="none" stroke="#9636f0" stroke-width="0.6"/>
<circle cx="237.41" cy="217.05" r="1.05" fill="none" stroke="#9636f0" stroke-width="0.6"/>
<circle cx="237.33" cy="213.26" r="1.05" fill="none" stroke="#9636f0" stroke-width="0.6"/>
<circle cx="236.69" cy="210.49" r="1.05" fill="none" stroke="#9636f0" stroke-width="0.6"/>
<circle cx="237.23" cy="207.89" r="1.05" fill="none" stroke="#9636f0" stroke-width="0.6"/>
<circle cx="237.19" cy="205.92" r="1.05" fill="none" stroke="#9636f0" stroke-width="0.6"/>
<circle cx="237.81" cy="201.41" r="1.05" fill="none" stroke="#9636f0" stroke-width="0.6"/>
<circle cx="236.85" cy="199.87" r="1.05" fill="none" stroke="#9636f0" stroke-width="0.6"/>
<circle cx="237.04" cy="196.67" r="1.05" fill="none" stroke="#9636f0" stroke-width="0.6"/>
<circle cx="238.02" cy="192.52" r="1.05" fill="none" stroke="#9636f0" stroke-width="0.6"/>
<circle cx="237.11" cy="189.89" r="1.05" fill="none" stroke="#9636f0" stroke-width="0.6"/>
<circle cx="236.83" cy="186.26" r="1.05" fill="none" stroke="#9636f0" stroke-width="0.6"/>
<circle cx="237.08" cy="184.36" r="1.05" fill="none" stroke="#9636f0" stroke-width="0.6"/>
<circle cx="237.08" cy="180.72" r="1.05" fill="none" stroke="#9636f0" stroke-width="0.6"/>
<circle cx="237.11" cy="177.03" r="1.05" fill="none" stroke="#9636f0" stroke-width="0.6"/>
<circle cx="238.12" cy="173.44" r="1.05" fill="none" stroke="#9636f0" stroke-width="0.6"/>
<circle cx="237.08" cy="172.18" r="1.05" fill="none" stroke="#9636f0" stroke-width="0.6"/>
<circle cx="236.77" cy="174.1" r="1.05" fill="none" stroke="#9636f0" stroke-width="0.6"/>
<circle cx="238.13" cy="176.22" r="1.05" fill="none" stroke="#9636f0" stroke-width="0.6"/>
<circle cx="237.65" cy="179.07" r="1.05" fill="none" stroke="#9636f0" stroke-width="0.6"/>
<circle cx="237.83" cy="182.79" r="1.05" fill="none" stroke="#9636f0" stroke-width="0.6"/>
<circle cx="237.71" cy="186.56" r="1.05" fill="none" stroke="#9636f0" stroke-width="0.6"/>
<circle cx="237.85" cy="189.54" r="1.05" fill="none" stroke="#9636f0" stroke-width="0.6"/>
<circle cx="237.96" cy="191.02" r="1.05" fill="none" stroke="#9636f0" stroke-width="0.6"/>
<circle cx="237.79" cy="195.03" r="1.05" fill="none" stroke="#9636f0" stroke-width="0.6"/>
<circle cx="236.96" cy="198.54" r="1.05" fill="none" stroke="#9636f0" stroke-width="0.6"/>
<circle cx="237.74" cy="200.96" r="1.05" fill="none" stroke="#9636f0" stroke-width="0.6"/>
<circle cx="237.28" cy="203.78" r="1.05" fill="none" stroke="#9636f0" stroke-width="0.6"/>
<circle cx="237.9" cy="206.54" r="1.05" fill="none" stroke="#9636f0" stroke-width="0.6"/>
<circle cx="237.82" cy="208.46" r="1.05" fill="none" stroke="#9636f0" stroke-width="0.6"/>
<circle cx="238.49" cy="212.07" r="1.05" fill="none" stroke="#9636f0" stroke-width="0.6"/>
<circle cx="236.74" cy="215.16" r="1.05" fill="none" stroke="#9636f0" stroke-width="0.6"/>
<circle cx="237.46" cy="219.06" r="1.05" fill="none" stroke="#9636f0" stroke-width="0.6"/>
<circle cx="237.48" cy="221.91" r="1.05" fill="none" stroke="#9636f0" stroke-width="0.6"/>
<circle cx="237.51" cy="226.06" r="1.05" fill="none" stroke="#9636f0" stroke-width="0.6"/>
<circle cx="238.55" cy="228.89" r="1.05" fill="none" stroke="#9636f0" stroke-width="0.6"/>
<circle cx="242.32" cy="228.62" r="1.05" fill="none" stroke="#9636f0" stroke-width="0.6"/>
<circle cx="242.44" cy="225.57" r="1.05" fill="none" stroke="#9636f0" stroke-width="0.6"/>
<circle cx="243.35" cy="221.27" r="1.05" fill="none" stroke="#9636f0" stroke-width="0.6"/>
<circle cx="242.52" cy="218.53" r="1.05" fill="none" stroke="#9636f0" stroke-width="0.6"/>
<circle cx="242.37" cy="215.79" r="1.05" fill="none" stroke="#9636f0" stroke-width="0.6"/>
<circle cx="242.68" cy="212.36" r="1.05" fill="none" stroke="#9636f0" stroke-width="0.6"/>
<circle cx="243.24" cy="210.56" r="1.05" fill="none" stroke="#9636f0" stroke-width="0.6"/>
<circle cx="242.57" cy="206.89" r="1.05" fill="none" stroke="#9636f0" stroke-width="0.6"/>
<circle cx="243.25" cy="204.09" r="1.05" fill="none" stroke="#9636f0" stroke-width="0.6"/>
<circle cx="242.93" cy="201.71" r="1.05" fill="none" stroke="#9636f0" stroke-width="0.6"/>
<circle cx="243.73" cy="198.64" r="1.05" fill="none" stroke="#9636f0" stroke-width="0.6"/>
<circle cx="243.23" cy="196.42" r="1.05" fill="none" stroke="#9636f0" stroke-width="0.6"/>
<circle cx="244.24" cy="191.99" r="1.05" fill="none" stroke="#9636f0" stroke-width="0.6"/>
<circle cx="243.34" cy="189.94" r="1.05" fill="none" stroke="#9636f0" stroke-width="0.6"/>
<circle cx="243.08" cy="186.9" r="1.05" fill="none" stroke="#9636f0" stroke-width="0.6"/>
<circle cx="243.56" cy="189.24" r="1.05" fill="none" stroke="#9636f0" stroke-width="0.6"/>
<circle cx="243.47" cy="191.72" r="1.05" fill="none" stroke="#9636f0" stroke-width="0.6"/>
<circle cx="243.35" cy="194.47" r="1.05" fill="none" stroke="#9636f0" stroke-width="0.6"/>
<circle cx="244.79" cy="199.57" r="1.05" fill="none" stroke="#9636f0" stroke-width="0.6"/>
<circle cx="244.3" cy="201.84" r="1.05" fill="none" stroke="#9636f0" stroke-width="0.6"/>
<circle cx="244.21" cy="205.43" r="1.05" fill="none" stroke="#9636f0" stroke-width="0.6"/>
<circle cx="244.24" cy="208.21" r="1.05" fill="none" stroke="#9636f0" stroke-width="0.6"/>
<circle cx="243.31" cy="210.92" r="1.05" fill="none" stroke="#9636f0" stroke-width="0.6"/>
<circle cx="243.54" cy="212.95" r="1.05" fill="none" stroke="#9636f0" stroke-width="0.6"/>
<circle cx="243.27" cy="216.92" r="1.05" fill="none" stroke="#9636f0" stroke-width="0.6"/>
<circle cx="244.4" cy="218.84" r="1.05" fill="none" stroke="#9636f0" stroke-width="0.6"/>
<circle cx="244.8" cy="223.54" r="1.05" fill="none" stroke="#9636f0" stroke-width="0.6"/>
<circle cx="243.81" cy="225.38" r="1.05" fill="none" stroke="#9636f0" stroke-width="0.6"/>
<circle cx="257.26" cy="228.35" r="1.05" fill="none" stroke="#9636f0" stroke-width="0.6"/>
<circle cx="257.21" cy="224.1" r="1.05" fill="none" stroke="#9636f0" stroke-width="0.6"/>
<circle cx="257.66" cy="220.52" r="1.05" fill="none" stroke="#9636f0" stroke-width="0.6"/>
<circle cx="257.65" cy="219.46" r="1.05" fill="none" stroke="#9636f0" stroke-width="0.6"/>
<circle cx="257.9" cy="218.34" r="1.05" fill="none" stroke="#9636f0" stroke-width="0.6"/>
<circle cx="258.11" cy="221.3" r="1.05" fill="none" stroke="#9636f0" stroke-width="0.6"/>
<circle cx="258.02" cy="223.37" r="1.05" fill="none" stroke="#9636f0" stroke-width="0.6"/>
<circle cx="257.94" cy="226.82" r="1.05" fill="none" stroke="#9636f0" stroke-width="0.6"/>
<circle cx="265.3" cy="227.78" r="1.05" fill="none" stroke="#9636f0" stroke-width="0.6"/>
<circle cx="265" cy="223.36" r="1.05" fill="none" stroke="#9636f0" stroke-width="0.6"/>
<circle cx="264.65" cy="222.08" r="1.05" fill="none" stroke="#9636f0" stroke-width="0.6"/>
<circle cx="265.85" cy="225.39" r="1.05" fill="none" stroke="#9636f0" stroke-width="0.6"/>
<circle cx="265.26" cy="227.73" r="1.05" fill="none" stroke="#9636f0" stroke-width="0.6"/>
<circle cx="275.2" cy="229.2" r="1.05" fill="none" stroke="#9636f0" stroke-width="0.6"/>
<circle cx="285.34" cy="227.99" r="1.05" fill="none" stroke="#9636f0" stroke-width="0.6"/>
<circle cx="286.32" cy="224.83" r="1.05" fill="none" stroke="#9636f0" stroke-width="0.6"/>
<circle cx="286.39" cy="222.68" r="1.05" fill="none" stroke="#9636f0" stroke-width="0.6"/>
<circle cx="285.64" cy="219.46" r="1.05" fill="none" stroke="#9636f0" stroke-width="0.6"/>
<circle cx="285.61" cy="215.44" r="1.05" fill="none" stroke="#9636f0" stroke-width="0.6"/>
<circle cx="285.66" cy="212.39" r="1.05" fill="none" stroke="#9636f0" stroke-width="0.6"/>
<circle cx="286.17" cy="215.19" r="1.05" fill="none" stroke="#9636f0" stroke-width="0.6"/>
<circle cx="286.27" cy="218.68" r="1.05" fill="none" stroke="#9636f0" stroke-width="0.6"/>
<circle cx="284.49" cy="221.37" r="1.05" fill="none" stroke="#9636f0" stroke-width="0.6"/>
<circle cx="285.22" cy="224.28" r="1.05" fill="none" stroke="#9636f0" stroke-width="0.6"/>
<circle cx="285.76" cy="227.24" r="1.05" fill="none" stroke="#9636f0" stroke-width="0.6"/>
<circle cx="302.95" cy="227.52" r="1.05" fill="none" stroke="#9636f0" stroke-width="0.6"/>
<circle cx="302.7" cy="228.39" r="1.05" fill="none" stroke="#9636f0" stroke-width="0.6"/>
<circle cx="316.42" cy="228.88" r="1.05" fill="none" stroke="#9636f0" stroke-width="0.6"/>
<circle cx="317.68" cy="226.99" r="1.05" fill="none" stroke="#9636f0" stroke-width="0.6"/>
<circle cx="317.5" cy="232.21" r="1.05" fill="none" stroke="#9636f0" stroke-width="0.6"/>
<circle cx="320.73" cy="227.84" r="1.05" fill="none" stroke="#9636f0" stroke-width="0.6"/>
<circle cx="320.55" cy="225.71" r="1.05" fill="none" stroke="#9636f0" stroke-width="0.6"/>
<circle cx="320.9" cy="222.88" r="1.05" fill="none" stroke="#9636f0" stroke-width="0.6"/>
<circle cx="320.63" cy="220.25" r="1.05" fill="none" stroke="#9636f0" stroke-width="0.6"/>
<circle cx="321" cy="216.11" r="1.05" fill="none" stroke="#9636f0" stroke-width="0.6"/>
<circle cx="320.98" cy="214.84" r="1.05" fill="none" stroke="#9636f0" stroke-width="0.6"/>
<circle cx="321.91" cy="218.36" r="1.05" fill="none" stroke="#9636f0" stroke-width="0.6"/>
<circle cx="321.38" cy="221.08" r="1.05" fill="none" stroke="#9636f0" stroke-width="0.6"/>
<circle cx="321.72" cy="225.29" r="1.05" fill="none" stroke="#9636f0" stroke-width="0.6"/>
<circle cx="321.39" cy="227.34" r="1.05" fill="none" stroke="#9636f0" stroke-width="0.6"/>
<circle cx="322.2" cy="229.49" r="1.05" fill="none" stroke="#9636f0" stroke-width="0.6"/>
<circle cx="237.27" cy="160.3" r="1.4" fill="none" stroke="#9a44f0" stroke-width="0.7"/>
<path d="M196.6 230.2 197.2 230.21 197.8 230.23 198.4 230.25 199 230.26 199.6 230.28 200.2 230.29 200.8 230.31 201.4 230.32 202 230.34 202.6 230.36 203.2 230.37 203.8 230.39 204.4 230.4 205 230.42 205.6 230.43 206.2 230.45 206.8 230.46 207.4 230.48 208 230.49 208.6 230.51 209.2 230.52 209.8 230.53 210.4 230.54 211 230.54 211.6 230.5 212.2 229.73 212.22 229.63 212.36 228.61 212.49 227.31 212.63 226.62 212.76 227.32 212.8 227.66 212.9 228.63 213.04 229.65 213.4 230.48 214 230.6 214.6 230.64 215.2 230.67 215.8 230.69 216.4 230.71 217 230.73 217.6 230.74 218.2 230.76 218.8 230.78 219.4 230.79 220 230.81 220.6 230.82 221.2 230.84 221.8 230.85 222.4 230.87 223 230.88 223.6 230.9 224.2 230.91 224.8 230.93 225.4 230.94 226 230.95 226.6 230.96 227.2 230.95 227.8 230.9 228.2 230.41 228.35 229.78 228.4 229.52 228.5 228.97 228.65 228.55 228.81 228.98 228.96 229.79 229 230 229.11 230.43 229.6 230.96 230.2 231.02 230.8 231.04 231.4 231.06 232 231.07 232.6 231.07 233.2 231.07 233.8 231.05 234.4 231.01 235 230.93 235.6 230.75 236.2 230.23 236.8 226.86 237.02 216.58 237.15 201.26 237.29 181.68 237.4 171.65 237.42 171.28 237.56 181.68 237.7 201.26 237.83 216.6 238 225.67 238.6 230.19 239.2 230.78 239.8 230.98 240.4 231.06 241 231.06 241.6 230.97 242.2 230.65 242.8 228.72 243.06 220.39 243.2 208.9 243.34 194.23 243.4 188.85 243.47 186.44 243.61 194.24 243.74 208.93 243.88 220.42 244 225.96 244.6 230.57 245.2 231.07 245.8 231.26 246.4 231.36 247 231.42 247.6 231.46 248.2 231.49 248.8 231.52 249.4 231.54 250 231.57 250.6 231.59 251.2 231.6 251.8 231.62 252.4 231.64 253 231.65 253.6 231.66 254.2 231.67 254.8 231.68 255.4 231.66 256 231.62 256.6 231.46 257.2 229.45 257.28 228.13 257.41 224.3 257.55 219.41 257.68 216.82 257.8 218.75 257.82 219.42 257.96 224.31 258.09 228.15 258.4 231.07 259 231.62 259.6 231.74 260.2 231.8 260.8 231.83 261.4 231.86 262 231.87 262.6 231.87 263.2 231.85 263.8 231.76 264.4 230.8 264.53 229.42 264.67 226.74 264.81 223.32 264.94 221.51 265 221.88 265.08 223.33 265.21 226.76 265.35 229.44 265.6 231.36 266.2 231.86 266.8 231.97 267.4 232.02 268 232.05 268.6 232.07 269.2 232.09 269.8 232.11 270.4 232.13 271 232.14 271.6 232.16 272.2 232.17 272.8 232.18 273.4 232.17 274 232.1 274.47 231.27 274.6 230.41 274.62 230.26 274.77 228.96 274.92 228.27 275.07 228.97 275.2 230.07 275.22 230.27 275.38 231.3 275.8 232.13 276.4 232.24 277 232.28 277.6 232.31 278.2 232.33 278.8 232.35 279.4 232.37 280 232.38 280.6 232.39 281.2 232.4 281.8 232.41 282.4 232.42 283 232.41 283.6 232.39 284.2 232.31 284.8 232.05 285.4 227.65 285.4 227.65 285.54 222.55 285.67 216.02 285.81 212.56 285.94 216.03 286 218.68 286.08 222.56 286.22 227.67 286.6 231.78 287.2 232.29 287.8 232.33 288.08 231.92 288.23 231.32 288.38 230.54 288.4 230.44 288.53 230.13 288.68 230.56 288.83 231.36 288.98 231.99 289 232.04 289.6 232.55 290.2 232.61 290.8 232.65 291.4 232.67 292 232.69 292.6 232.7 293.2 232.69 293.8 232.32 293.82 232.27 293.97 231.77 294.12 231.12 294.28 230.78 294.4 231.03 294.43 231.13 294.58 231.78 294.73 232.3 295 232.66 295.6 232.77 296.2 232.8 296.8 232.83 297.4 232.85 298 232.86 298.6 232.88 299.2 232.89 299.8 232.9 300.4 232.9 301 232.88 301.6 232.76 302.03 231.52 302.17 229.99 302.2 229.53 302.3 228.04 302.44 227 302.58 228.04 302.71 230 302.8 231.08 302.85 231.54 303.4 232.86 304 232.97 304.6 233.01 305.2 233.04 305.8 233.06 306.4 233.08 307 233.1 307.6 233.11 308.2 233.12 308.8 233.11 309.4 233 309.62 232.81 309.85 232.44 310 232.12 310.08 231.96 310.3 231.71 310.53 231.97 310.6 232.12 310.76 232.46 310.98 232.85 311.2 233.05 311.8 233.19 312.4 233.22 313 233.25 313.6 233.26 314.2 233.28 314.8 233.28 315.4 233.28 316 233.26 316.6 233.16 317.15 231.65 317.2 231.12 317.29 229.88 317.42 227.61 317.56 226.4 317.7 227.61 317.8 229.35 317.83 229.88 317.97 231.66 318.4 233.12 319 233.26 319.6 233.25 320.2 233.08 320.8 231.31 320.93 228.83 321.07 223.98 321.2 217.79 321.34 214.5 321.4 215.22 321.48 217.8 321.61 224 321.75 228.86 322 232.33 322.6 233.22 323.2 233.4 323.8 233.47 324.4 233.51 325 233.54 325.6 233.56 326.2 233.58 326.8 233.58 327.4 233.5 327.77 233.17 327.99 232.67 328 232.65 328.22 232.03 328.45 231.69 328.6 231.86 328.67 232.04 328.9 232.69 329.13 233.21 329.2 233.32 329.8 233.64 330.4 233.7 331 233.73 331.6 233.75 332.2 233.77 332.8 233.79 333.4 233.81 334 233.83 334.6 233.84 335.2 233.86 335.8 233.88 336.4 233.89 337 233.91 337.6 233.93 338.2 233.94 338.8 233.96 339.4 233.97 340 233.99 340.6 234.01 341.2 234.02 341.8 234.04 342.4 234.05 343 234.07 343.6 234.09 344.2 234.1 344.8 234.12 345.4 234.13 346 234.15 346.6 234.17 347.2 234.18 347.8 234.2" fill="none" stroke="#237f23" stroke-width="1.15" stroke-linejoin="round" />
<path d="M196.6 261.26 197.2 260.69 197.8 260.98 198.4 260.35 199 261.2 199.6 260.24 200.2 260.66 200.8 261.3 201.4 260.24 202 260.62 202.6 260.88 203.2 260.13 203.8 261.38 204.4 260.97 205 260.04 205.6 260.78 206.2 260.41 206.8 260.47 207.4 260.84 208 260.44 208.6 261.28 209.2 260.45 209.8 261.29 210.4 260.78 211 261.23 211.6 260.53 212.2 260.55 212.22 260.22 212.36 261.09 212.49 261.27 212.63 261.86 212.76 261.44 212.8 260.92 212.9 260.69 213.04 260.99 213.4 260.79 214 261.53 214.6 261.27 215.2 260.38 215.8 260.46 216.4 261.48 217 260.95 217.6 260.68 218.2 261.39 218.8 260.61 219.4 260.66 220 260.57 220.6 259.82 221.2 261.23 221.8 260.19 222.4 260.51 223 260.43 223.6 261.16 224.2 260.76 224.8 260.81 225.4 259.96 226 260.75 226.6 260.06 227.2 260.95 227.8 260.98 228.2 260.79 228.35 261.82 228.4 261.06 228.5 261.09 228.65 260.87 228.81 260.7 228.96 261.28 229 261.34 229.11 260.14 229.6 261.32 230.2 261.05 230.8 261.27 231.4 261.02 232 260.16 232.6 260.19 233.2 261.68 233.8 260.88 234.4 260.02 235 260.87 235.6 260.42 236.2 259.4 236.8 256.94 237.02 253.51 237.15 251.32 237.29 249.81 237.4 251.19 237.42 251.97 237.56 255.29 237.7 256.4 237.83 258.76 238 259.35 238.6 259.88 239.2 260.39 239.8 260.68 240.4 260.65 241 260.09 241.6 260.63 242.2 261.99 242.8 260.84 243.06 261.32 243.2 263.37 243.34 265.32 243.4 266.32 243.47 266.76 243.61 269.27 243.74 267.4 243.88 264.95 244 263.45 244.6 261.16 245.2 261.32 245.8 261.2 246.4 260.84 247 261.3 247.6 260.86 248.2 261.27 248.8 260.11 249.4 260.02 250 261.2 250.6 260.11 251.2 260.66 251.8 260.76 252.4 260.56 253 260.58 253.6 261.51 254.2 259.55 254.8 261.26 255.4 261.98 256 260.87 256.6 260.92 257.2 261.87 257.28 262.69 257.41 261.89 257.55 263.38 257.68 263.71 257.8 263.74 257.82 263.42 257.96 262.81 258.09 261.57 258.4 261.12 259 260.56 259.6 260.51 260.2 260.76 260.8 260.75 261.4 260.23 262 261.59 262.6 260.74 263.2 260.11 263.8 261.35 264.4 260.43 264.53 261.06 264.67 260.79 264.81 260.93 264.94 260.89 265 260.52 265.08 260.82 265.21 261.82 265.35 259.68 265.6 260.84 266.2 261.02 266.8 260.28 267.4 260.12 268 261.88 268.6 260.62 269.2 261.84 269.8 261.07 270.4 260.84 271 261.04 271.6 261.12 272.2 261.39 272.8 261.02 273.4 260.87 274 260.89 274.47 261.48 274.6 261.21 274.62 260.3 274.77 260.48 274.92 260.96 275.07 260.49 275.2 260.61 275.22 260.32 275.38 260.67 275.8 261.01 276.4 261.3 277 260.8 277.6 261.84 278.2 260.76 278.8 262.39 279.4 261.3 280 261.04 280.6 260.54 281.2 259.38 281.8 260.71 282.4 260.88 283 261.74 283.6 260.08 284.2 261.69 284.8 260.53 285.4 260.19 285.4 258.55 285.54 259.19 285.67 258.09 285.81 258.14 285.94 258.31 286 258.04 286.08 259.59 286.22 260.17 286.6 260.86 287.2 261.22 287.8 261.31 288.08 260.76 288.23 260.09 288.38 260.08 288.4 261.45 288.53 261.13 288.68 260.83 288.83 260.56 288.98 260.8 289 260.8 289.6 260.62 290.2 260.44 290.8 261.88 291.4 260.91 292 260.49 292.6 260.15 293.2 260.43 293.8 261.16 293.82 261.18 293.97 260.69 294.12 260.82 294.28 260.65 294.4 260.24 294.43 261.45 294.58 260.98 294.73 262.04 295 260.42 295.6 260.73 296.2 261.24 296.8 260.68 297.4 260.1 298 260.32 298.6 260.85 299.2 260.97 299.8 260.75 300.4 261.3 301 261.3 301.6 260.96 302.03 260.81 302.17 260.67 302.2 261.07 302.3 261.26 302.44 260.83 302.58 261.02 302.71 260.64 302.8 260.09 302.85 260.3 303.4 261.18 304 261.02 304.6 261.59 305.2 260.83 305.8 261.23 306.4 261.46 307 261.3 307.6 260.49 308.2 260.71 308.8 260.86 309.4 260.31 309.62 261.04 309.85 261.31 310 260.56 310.08 261.78 310.3 260.65 310.53 260.7 310.6 260.68 310.76 260.44 310.98 261.01 311.2 260.81 311.8 261.63 312.4 261.1 313 261.07 313.6 260.69 314.2 260.09 314.8 260.75 315.4 260.37 316 261.27 316.6 260.78 317.15 261.62 317.2 261.16 317.29 261.21 317.42 260.91 317.56 260.89 317.7 261.12 317.8 261.25 317.83 260.43 317.97 261.03 318.4 262.09 319 260.73 319.6 260.62 320.2 260.32 320.8 259.19 320.93 259.92 321.07 258.64 321.2 258.46 321.34 259.68 321.4 260.33 321.48 259.03 321.61 260.56 321.75 260.68 322 260.81 322.6 260.97 323.2 260.76 323.8 261.58 324.4 261.1 325 260.96 325.6 261.42 326.2 261.24 326.8 261.03 327.4 260.96 327.77 261.68 327.99 261.05 328 260.75 328.22 260.37 328.45 260.63 328.6 260.27 328.67 260.85 328.9 260.93 329.13 259.77 329.2 260.81 329.8 261.12 330.4 260.88 331 260.32 331.6 261.43 332.2 260.45 332.8 260.19 333.4 260.26 334 260.79 334.6 261.29 335.2 261.38 335.8 260.91 336.4 260.2 337 260.47 337.6 260.35 338.2 260.71 338.8 259.91 339.4 260.86 340 261.12 340.6 260.73 341.2 261.03 341.8 260.33 342.4 260.07 343 260.48 343.6 261.38 344.2 261.32 344.8 260.57 345.4 261.4 346 260.64 346.6 261.56 347.2 261.04 347.8 260.57" fill="none" stroke="#f026f0" stroke-width="1.25" stroke-linejoin="round" />
<rect x="196.6" y="148.3" width="151.2" height="121.7" fill="none" stroke="#1c1c1c" stroke-width="1.25"/>
<line x1="196.6" y1="270" x2="196.6" y2="272.2" stroke="#1a1a1a" stroke-width="1.0" />
<text x="196.6" y="280" font-size="7.5" fill="#111" font-weight="bold" text-anchor="middle" >20</text>
<line x1="211.72" y1="270" x2="211.72" y2="271.3" stroke="#1a1a1a" stroke-width="0.8" />
<line x1="226.84" y1="270" x2="226.84" y2="272.2" stroke="#1a1a1a" stroke-width="1.0" />
<text x="226.84" y="280" font-size="7.5" fill="#111" font-weight="bold" text-anchor="middle" >30</text>
<line x1="241.96" y1="270" x2="241.96" y2="271.3" stroke="#1a1a1a" stroke-width="0.8" />
<line x1="257.08" y1="270" x2="257.08" y2="272.2" stroke="#1a1a1a" stroke-width="1.0" />
<text x="257.08" y="280" font-size="7.5" fill="#111" font-weight="bold" text-anchor="middle" >40</text>
<line x1="272.2" y1="270" x2="272.2" y2="271.3" stroke="#1a1a1a" stroke-width="0.8" />
<line x1="287.32" y1="270" x2="287.32" y2="272.2" stroke="#1a1a1a" stroke-width="1.0" />
<text x="287.32" y="280" font-size="7.5" fill="#111" font-weight="bold" text-anchor="middle" >50</text>
<line x1="302.44" y1="270" x2="302.44" y2="271.3" stroke="#1a1a1a" stroke-width="0.8" />
<line x1="317.56" y1="270" x2="317.56" y2="272.2" stroke="#1a1a1a" stroke-width="1.0" />
<text x="317.56" y="280" font-size="7.5" fill="#111" font-weight="bold" text-anchor="middle" >60</text>
<line x1="332.68" y1="270" x2="332.68" y2="271.3" stroke="#1a1a1a" stroke-width="0.8" />
<line x1="347.8" y1="270" x2="347.8" y2="272.2" stroke="#1a1a1a" stroke-width="1.0" />
<text x="347.8" y="280" font-size="7.5" fill="#111" font-weight="bold" text-anchor="middle" >70</text>
<line x1="195.3" y1="260.45" x2="196.6" y2="260.45" stroke="#1a1a1a" stroke-width="0.8" />
<line x1="194.4" y1="250.9" x2="196.6" y2="250.9" stroke="#1a1a1a" stroke-width="0.9" />
<line x1="195.3" y1="241.35" x2="196.6" y2="241.35" stroke="#1a1a1a" stroke-width="0.8" />
<line x1="194.4" y1="231.8" x2="196.6" y2="231.8" stroke="#1a1a1a" stroke-width="0.9" />
<line x1="195.3" y1="222.25" x2="196.6" y2="222.25" stroke="#1a1a1a" stroke-width="0.8" />
<line x1="194.4" y1="212.7" x2="196.6" y2="212.7" stroke="#1a1a1a" stroke-width="0.9" />
<line x1="195.3" y1="203.15" x2="196.6" y2="203.15" stroke="#1a1a1a" stroke-width="0.8" />
<line x1="194.4" y1="193.6" x2="196.6" y2="193.6" stroke="#1a1a1a" stroke-width="0.9" />
<line x1="195.3" y1="184.05" x2="196.6" y2="184.05" stroke="#1a1a1a" stroke-width="0.8" />
<line x1="194.4" y1="174.5" x2="196.6" y2="174.5" stroke="#1a1a1a" stroke-width="0.9" />
<line x1="195.3" y1="164.95" x2="196.6" y2="164.95" stroke="#1a1a1a" stroke-width="0.8" />
<line x1="194.4" y1="155.4" x2="196.6" y2="155.4" stroke="#1a1a1a" stroke-width="0.9" />
<text x="272.2" y="289.7" font-size="8" fill="#111" font-weight="bold" text-anchor="middle" >2&#952; (degree)</text>
<text transform="translate(185.4,208) rotate(-90)" font-size="8.6" fill="#111" font-weight="bold" text-anchor="middle" dominant-baseline="central" >Intensity (a.u.)</text>
<rect x="180.6" y="147.9" width="15" height="11.6" fill="#c8c0cc" opacity="0.55"/>
<rect x="180" y="147.1" width="15" height="11.6" fill="url(#gg)"/>
<text x="187.5" y="155.6" font-size="8" fill="#e4f4e0" text-anchor="middle">(d)</text>
<path d="M374.8 85.95 375.31 85.92 375.81 85.79 376.32 86.69 376.82 86.51 377.33 87.12 377.84 87.2 378.34 86.95" fill="none" stroke="#34449a" stroke-width="0.9" stroke-linejoin="round" stroke-linecap="round"/>
<path d="M374.8 85.3 375.31 84.61 375.81 84.99 376.32 84.76 376.82 84.95 377.33 85.13 377.84 84.91 378.34 85.04" fill="none" stroke="#2a8a3a" stroke-width="0.9" stroke-linejoin="round" stroke-linecap="round"/>
<path d="M374.8 84.03 375.31 84.48 375.81 85.05 376.32 84.45 376.82 85.49 377.33 84.96 377.84 85.14 378.34 85.06" fill="none" stroke="#e0dc20" stroke-width="0.9" stroke-linejoin="round" stroke-linecap="round"/>
<path d="M374.8 86.75 375.31 86.71 375.81 86.15 376.32 85.59 376.82 85.5 377.33 85.63 377.84 85.95 378.34 86.02" fill="none" stroke="#26a6a6" stroke-width="0.9" stroke-linejoin="round" stroke-linecap="round"/>
<path d="M378.34 85.04 378.85 84.82 379.35 85.33 379.86 86.07 380.37 85.41 380.87 85.69 381.38 86.05 381.88 85.61" fill="none" stroke="#2a8a3a" stroke-width="0.9" stroke-linejoin="round" stroke-linecap="round"/>
<path d="M378.34 86.95 378.85 86.88 379.35 86.16 379.86 86.59 380.37 86.34 380.87 85.76 381.38 86.9 381.88 86.35" fill="none" stroke="#34449a" stroke-width="0.9" stroke-linejoin="round" stroke-linecap="round"/>
<path d="M378.34 85.06 378.85 84.77 379.35 85.45 379.86 85.66 380.37 85.65 380.87 85.83 381.38 85.7 381.88 85.03" fill="none" stroke="#e0dc20" stroke-width="0.9" stroke-linejoin="round" stroke-linecap="round"/>
<path d="M378.34 86.02 378.85 85.76 379.35 85.31 379.86 84.48 380.37 84.72 380.87 85.17 381.38 86.3 381.88 87.18" fill="none" stroke="#26a6a6" stroke-width="0.9" stroke-linejoin="round" stroke-linecap="round"/>
<path d="M381.88 87.18 382.39 86.37 382.9 86.38 383.4 85.53 383.91 84.6 384.41 83.65 384.92 82.07 385.43 73.69" fill="none" stroke="#26a6a6" stroke-width="0.9" stroke-linejoin="round" stroke-linecap="round"/>
<path d="M381.88 85.61 382.39 85.83 382.9 85.86 383.4 85.21 383.91 85.15 384.41 84.35 384.92 81.29 385.43 72.19" fill="none" stroke="#2a8a3a" stroke-width="0.9" stroke-linejoin="round" stroke-linecap="round"/>
<path d="M381.88 85.03 382.39 86.39 382.9 86.04 383.4 85.89 383.91 85.42 384.41 84.81 384.92 84.14 385.43 80.75" fill="none" stroke="#e0dc20" stroke-width="0.9" stroke-linejoin="round" stroke-linecap="round"/>
<path d="M381.88 86.35 382.39 86.11 382.9 87.12 383.4 85.95 383.91 85.91 384.41 85.09 384.92 82.08 385.43 72.19" fill="none" stroke="#34449a" stroke-width="0.9" stroke-linejoin="round" stroke-linecap="round"/>
<path d="M385.43 73.69 385.55 69.15 385.77 54.22 385.93 38.88 386 33.43 386.22 22.89 386.44 34.51 386.45 35.33" fill="none" stroke="#26a6a6" stroke-width="0.9" stroke-linejoin="round" stroke-linecap="round"/>
<path d="M385.43 72.19 385.55 66.24 385.77 50.41 385.93 35.18 386 28.2 386.22 14.68 386.44 26.32 386.45 27.16" fill="none" stroke="#2a8a3a" stroke-width="0.9" stroke-linejoin="round" stroke-linecap="round"/>
<path d="M385.43 80.75 385.55 78.74 385.77 72.82 385.93 65.56 386 62.12 386.22 46.91 386.44 35.19 386.45 34.57" fill="none" stroke="#e0dc20" stroke-width="0.9" stroke-linejoin="round" stroke-linecap="round"/>
<path d="M385.43 72.19 385.55 65.44 385.77 49.14 385.93 34.24 386 29.53 386.22 22.46 386.44 36.16 386.45 37.2" fill="none" stroke="#34449a" stroke-width="0.9" stroke-linejoin="round" stroke-linecap="round"/>
<path d="M386.45 37.2 386.67 56.19 386.89 68.22 386.94 69.9 387.45 73.62 387.53 72.4 387.76 65.07 387.96 53.41" fill="none" stroke="#34449a" stroke-width="0.9" stroke-linejoin="round" stroke-linecap="round"/>
<path d="M386.45 34.57 386.67 41.07 386.89 55.67 386.94 59.04 387.45 69.81 387.53 68.28 387.76 58.79 387.96 43.85" fill="none" stroke="#e0dc20" stroke-width="0.9" stroke-linejoin="round" stroke-linecap="round"/>
<path d="M386.45 35.33 386.67 53.7 386.89 66.75 386.94 69.25 387.45 69.27 387.53 67.29 387.76 54.92 387.96 41.78" fill="none" stroke="#26a6a6" stroke-width="0.9" stroke-linejoin="round" stroke-linecap="round"/>
<path d="M386.45 27.16 386.67 49.01 386.89 64.71 386.94 66.75 387.45 70.1 387.53 68.32 387.76 57.2 387.96 42.57" fill="none" stroke="#2a8a3a" stroke-width="0.9" stroke-linejoin="round" stroke-linecap="round"/>
<path d="M387.96 41.78 387.98 40.54 388.21 37.82 388.43 51.23 388.46 53.25 388.65 65.12 388.88 73.69 388.97 75.42" fill="none" stroke="#26a6a6" stroke-width="0.9" stroke-linejoin="round" stroke-linecap="round"/>
<path d="M387.96 53.41 387.98 51.81 388.21 32.86 388.43 21.86 388.46 22.21 388.65 34.08 388.88 53.39 388.97 59.77" fill="none" stroke="#34449a" stroke-width="0.9" stroke-linejoin="round" stroke-linecap="round"/>
<path d="M387.96 43.85 387.98 42.66 388.21 28.07 388.43 32.34 388.46 34.5 388.65 50.19 388.88 65.75 388.97 70.46" fill="none" stroke="#e0dc20" stroke-width="0.9" stroke-linejoin="round" stroke-linecap="round"/>
<path d="M387.96 42.57 387.98 40.54 388.21 31.24 388.43 40.22 388.46 42.63 388.65 57.08 388.88 68.22 388.97 72.24" fill="none" stroke="#2a8a3a" stroke-width="0.9" stroke-linejoin="round" stroke-linecap="round"/>
<path d="M388.97 72.24 389.47 77.66 389.98 70.88 390.04 69.02 390.26 55.21 390.49 34.59 390.49 34.09 390.71 15.4" fill="none" stroke="#2a8a3a" stroke-width="0.9" stroke-linejoin="round" stroke-linecap="round"/>
<path d="M388.97 75.42 389.47 78.43 389.98 73.27 390.04 71.91 390.26 61.45 390.49 42.8 390.49 43.5 390.71 19.66" fill="none" stroke="#26a6a6" stroke-width="0.9" stroke-linejoin="round" stroke-linecap="round"/>
<path d="M388.97 59.77 389.47 74.9 389.98 60.82 390.04 56.94 390.26 37.23 390.49 19.38 390.49 19.59 390.71 23.56" fill="none" stroke="#34449a" stroke-width="0.9" stroke-linejoin="round" stroke-linecap="round"/>
<path d="M388.97 70.46 389.47 78.11 389.98 68.27 390.04 64.88 390.26 48.61 390.49 27.34 390.49 27.01 390.71 17.99" fill="none" stroke="#e0dc20" stroke-width="0.9" stroke-linejoin="round" stroke-linecap="round"/>
<path d="M390.71 17.99 390.94 33.49 390.99 39.25 391.16 56.3 391.39 71.77 391.5 76.65 392 84.03 392.51 85.04" fill="none" stroke="#e0dc20" stroke-width="0.9" stroke-linejoin="round" stroke-linecap="round"/>
<path d="M390.71 19.66 390.94 12.31 390.99 15.72 391.16 31.06 391.39 54.77 391.5 63.3 392 80.27 392.51 83.5" fill="none" stroke="#26a6a6" stroke-width="0.9" stroke-linejoin="round" stroke-linecap="round"/>
<path d="M390.71 15.4 390.94 20.87 390.99 26.01 391.16 43.67 391.39 62.98 391.5 69.98 392 81.22 392.51 84.27" fill="none" stroke="#2a8a3a" stroke-width="0.9" stroke-linejoin="round" stroke-linecap="round"/>
<path d="M390.71 23.56 390.94 45.09 390.99 49.59 391.16 63.55 391.39 74.88 391.5 77.89 392 84.44 392.51 85.7" fill="none" stroke="#34449a" stroke-width="0.9" stroke-linejoin="round" stroke-linecap="round"/>
<path d="M392.51 84.27 393.02 85.61 393.52 85.81 393.8 85.25 394.03 84.47 394.08 83.87 394.36 83.09 394.53 83.68" fill="none" stroke="#2a8a3a" stroke-width="0.9" stroke-linejoin="round" stroke-linecap="round"/>
<path d="M392.51 83.5 393.02 84.77 393.52 85.44 393.8 84.64 394.03 85.4 394.08 85.16 394.36 84.19 394.53 83.96" fill="none" stroke="#26a6a6" stroke-width="0.9" stroke-linejoin="round" stroke-linecap="round"/>
<path d="M392.51 85.04 393.02 85.12 393.52 84.82 393.8 84.23 394.03 84.1 394.08 84.53 394.36 83.09 394.53 83.68" fill="none" stroke="#e0dc20" stroke-width="0.9" stroke-linejoin="round" stroke-linecap="round"/>
<path d="M392.51 85.7 393.02 86.38 393.52 86.96 393.8 86.48 394.03 85.58 394.08 85.66 394.36 83.52 394.53 83.68" fill="none" stroke="#34449a" stroke-width="0.9" stroke-linejoin="round" stroke-linecap="round"/>
<path d="M394.53 83.68 394.65 83.95 394.93 84.69 395.04 86.69 395.21 87.58 395.49 88.55 395.55 88.88 396.05 88.99" fill="none" stroke="#34449a" stroke-width="0.9" stroke-linejoin="round" stroke-linecap="round"/>
<path d="M394.53 83.68 394.65 83.27 394.93 84.06 395.04 85.23 395.21 86.9 395.49 87.69 395.55 88.03 396.05 88.17" fill="none" stroke="#e0dc20" stroke-width="0.9" stroke-linejoin="round" stroke-linecap="round"/>
<path d="M394.53 83.68 394.65 83.07 394.93 83.66 395.04 84.17 395.21 85.24 395.49 86.22 395.55 86.78 396.05 87.26" fill="none" stroke="#2a8a3a" stroke-width="0.9" stroke-linejoin="round" stroke-linecap="round"/>
<path d="M394.53 83.96 394.65 83.4 394.93 84.13 395.04 84.93 395.21 86.23 395.49 86.83 395.55 86.81 396.05 86.87" fill="none" stroke="#26a6a6" stroke-width="0.9" stroke-linejoin="round" stroke-linecap="round"/>
<path d="M396.05 88.17 396.56 88.11 397.06 88.34 397.57 88.12 398.08 86.35 398.28 84.63 398.58 81.9 398.69 81.02" fill="none" stroke="#e0dc20" stroke-width="0.9" stroke-linejoin="round" stroke-linecap="round"/>
<path d="M396.05 87.26 396.56 86.11 397.06 86.25 397.57 86.33 398.08 85.43 398.28 84.92 398.58 83.68 398.69 83.05" fill="none" stroke="#2a8a3a" stroke-width="0.9" stroke-linejoin="round" stroke-linecap="round"/>
<path d="M396.05 86.87 396.56 86.2 397.06 86.21 397.57 86.14 398.08 85.78 398.28 86.14 398.58 84.61 398.69 84.2" fill="none" stroke="#26a6a6" stroke-width="0.9" stroke-linejoin="round" stroke-linecap="round"/>
<path d="M396.05 88.99 396.56 88.92 397.06 88.76 397.57 88.2 398.08 87.08 398.28 85.69 398.58 84.19 398.69 83.59" fill="none" stroke="#34449a" stroke-width="0.9" stroke-linejoin="round" stroke-linecap="round"/>
<path d="M398.69 81.02 399.09 77.91 399.1 77.76 399.51 76.46 399.59 76.38 399.93 78.53 400.1 80.02 400.34 82.5" fill="none" stroke="#e0dc20" stroke-width="0.9" stroke-linejoin="round" stroke-linecap="round"/>
<path d="M398.69 83.05 399.09 79.54 399.1 79.47 399.51 77.2 399.59 77.36 399.93 79 400.1 80.09 400.34 82.79" fill="none" stroke="#2a8a3a" stroke-width="0.9" stroke-linejoin="round" stroke-linecap="round"/>
<path d="M398.69 83.59 399.09 79.78 399.1 79.28 399.51 77.46 399.59 77.49 399.93 80.76 400.1 82.03 400.34 85.09" fill="none" stroke="#34449a" stroke-width="0.9" stroke-linejoin="round" stroke-linecap="round"/>
<path d="M398.69 84.2 399.09 80.98 399.1 81.18 399.51 79.85 399.59 79.92 399.93 81.42 400.1 81.62 400.34 83.39" fill="none" stroke="#26a6a6" stroke-width="0.9" stroke-linejoin="round" stroke-linecap="round"/>
<path d="M400.34 82.79 400.61 84.43 400.75 85.5 401.11 87.26 401.62 87.29 402.12 87.54 402.63 87.88 403.14 87.89" fill="none" stroke="#2a8a3a" stroke-width="0.9" stroke-linejoin="round" stroke-linecap="round"/>
<path d="M400.34 83.39 400.61 84.59 400.75 85.7 401.11 86.48 401.62 87.33 402.12 87.42 402.63 88.09 403.14 88.66" fill="none" stroke="#26a6a6" stroke-width="0.9" stroke-linejoin="round" stroke-linecap="round"/>
<path d="M400.34 85.09 400.61 86.95 400.75 86.96 401.11 88.26 401.62 88.39 402.12 87.94 402.63 88 403.14 88.06" fill="none" stroke="#34449a" stroke-width="0.9" stroke-linejoin="round" stroke-linecap="round"/>
<path d="M400.34 82.5 400.61 85.12 400.75 86.03 401.11 87.41 401.62 87.58 402.12 86.5 402.63 86.97 403.14 87.62" fill="none" stroke="#e0dc20" stroke-width="0.9" stroke-linejoin="round" stroke-linecap="round"/>
<path d="M403.14 88.66 403.64 88.87 404.15 88.7 404.65 88.19 405.16 87.89 405.67 87.12 406.17 87.28 406.68 86" fill="none" stroke="#26a6a6" stroke-width="0.9" stroke-linejoin="round" stroke-linecap="round"/>
<path d="M403.14 87.89 403.64 87.66 404.15 88.06 404.65 87.64 405.16 87.04 405.67 86.93 406.17 85.98 406.68 85.49" fill="none" stroke="#2a8a3a" stroke-width="0.9" stroke-linejoin="round" stroke-linecap="round"/>
<path d="M403.14 87.62 403.64 88.12 404.15 88.77 404.65 88.6 405.16 88.26 405.67 87.51 406.17 86.83 406.68 85.78" fill="none" stroke="#e0dc20" stroke-width="0.9" stroke-linejoin="round" stroke-linecap="round"/>
<path d="M403.14 88.06 403.64 88.3 404.15 88.92 404.65 88.71 405.16 88.94 405.67 88.21 406.17 87.41 406.68 86.64" fill="none" stroke="#34449a" stroke-width="0.9" stroke-linejoin="round" stroke-linecap="round"/>
<path d="M406.68 85.49 406.89 84.41 407.18 82.68 407.3 80.96 407.69 76.37 407.71 76.92 408.13 74.7 408.2 75.44" fill="none" stroke="#2a8a3a" stroke-width="0.9" stroke-linejoin="round" stroke-linecap="round"/>
<path d="M406.68 86.64 406.89 85.37 407.18 83.61 407.3 82.73 407.69 78.19 407.71 77.7 408.13 74.41 408.2 74.6" fill="none" stroke="#34449a" stroke-width="0.9" stroke-linejoin="round" stroke-linecap="round"/>
<path d="M406.68 86 406.89 85.63 407.18 84.38 407.3 83.72 407.69 80.2 407.71 79.36 408.13 75.91 408.2 75.51" fill="none" stroke="#26a6a6" stroke-width="0.9" stroke-linejoin="round" stroke-linecap="round"/>
<path d="M406.68 85.78 406.89 84.59 407.18 83.21 407.3 82.16 407.69 78.36 407.71 78.75 408.13 76.13 408.2 76.37" fill="none" stroke="#e0dc20" stroke-width="0.9" stroke-linejoin="round" stroke-linecap="round"/>
<path d="M408.2 76.37 408.54 78.67 408.7 80.17 408.95 83.33 409.21 84.68 409.36 85.65 409.71 86.73 410.22 87.13" fill="none" stroke="#e0dc20" stroke-width="0.9" stroke-linejoin="round" stroke-linecap="round"/>
<path d="M408.2 75.44 408.54 78.14 408.7 79.81 408.95 82.61 409.21 85.63 409.36 86.54 409.71 87.46 410.22 88.08" fill="none" stroke="#2a8a3a" stroke-width="0.9" stroke-linejoin="round" stroke-linecap="round"/>
<path d="M408.2 74.6 408.54 76.76 408.7 79.52 408.95 82.45 409.21 83.43 409.36 84.45 409.71 86.15 410.22 87.26" fill="none" stroke="#34449a" stroke-width="0.9" stroke-linejoin="round" stroke-linecap="round"/>
<path d="M408.2 75.51 408.54 76.4 408.7 78.73 408.95 81.35 409.21 83.48 409.36 85.63 409.71 87.17 410.22 88.39" fill="none" stroke="#26a6a6" stroke-width="0.9" stroke-linejoin="round" stroke-linecap="round"/>
<path d="M410.22 88.39 410.73 88.52 411.23 88.49 411.74 88.47 412.24 88.08 412.75 88.74 413.26 88.37 413.37 87.32" fill="none" stroke="#26a6a6" stroke-width="0.9" stroke-linejoin="round" stroke-linecap="round"/>
<path d="M410.22 88.08 410.73 87.69 411.23 87.84 411.74 88.14 412.24 88.27 412.75 87.54 413.26 87.29 413.37 86.87" fill="none" stroke="#2a8a3a" stroke-width="0.9" stroke-linejoin="round" stroke-linecap="round"/>
<path d="M410.22 87.13 410.73 88.63 411.23 88.91 411.74 89.58 412.24 89.61 412.75 89.82 413.26 88.91 413.37 88.3" fill="none" stroke="#e0dc20" stroke-width="0.9" stroke-linejoin="round" stroke-linecap="round"/>
<path d="M410.22 87.26 410.73 88.69 411.23 88.76 411.74 88.75 412.24 89.17 412.75 89.52 413.26 89.65 413.37 89.54" fill="none" stroke="#34449a" stroke-width="0.9" stroke-linejoin="round" stroke-linecap="round"/>
<path d="M413.37 87.32 413.74 86.81 413.76 85.88 414.12 85.06 414.27 85.78 414.49 85.24 414.77 85.98 414.87 85.88" fill="none" stroke="#26a6a6" stroke-width="0.9" stroke-linejoin="round" stroke-linecap="round"/>
<path d="M413.37 89.54 413.74 88.67 413.76 87.9 414.12 86.87 414.27 85.9 414.49 85.11 414.77 86.1 414.87 86.07" fill="none" stroke="#34449a" stroke-width="0.9" stroke-linejoin="round" stroke-linecap="round"/>
<path d="M413.37 88.3 413.74 87.72 413.76 86.85 414.12 86.69 414.27 86.74 414.49 87.03 414.77 87.68 414.87 87" fill="none" stroke="#e0dc20" stroke-width="0.9" stroke-linejoin="round" stroke-linecap="round"/>
<path d="M413.37 86.87 413.74 85.38 413.76 86.18 414.12 85.27 414.27 85.39 414.49 85.92 414.77 86.06 414.87 86.94" fill="none" stroke="#2a8a3a" stroke-width="0.9" stroke-linejoin="round" stroke-linecap="round"/>
<path d="M414.87 87 415.24 87.85 415.28 87.42 415.61 87.94 415.79 88.48 416.29 88.79 416.8 89.26 417.3 89.3" fill="none" stroke="#e0dc20" stroke-width="0.9" stroke-linejoin="round" stroke-linecap="round"/>
<path d="M414.87 85.88 415.24 86.62 415.28 87.71 415.61 88.98 415.79 89.05 416.29 89.69 416.8 88.49 417.3 88.38" fill="none" stroke="#26a6a6" stroke-width="0.9" stroke-linejoin="round" stroke-linecap="round"/>
<path d="M414.87 86.94 415.24 88.25 415.28 87.87 415.61 88.57 415.79 87.74 416.29 87.15 416.8 87.76 417.3 87.94" fill="none" stroke="#2a8a3a" stroke-width="0.9" stroke-linejoin="round" stroke-linecap="round"/>
<path d="M414.87 86.07 415.24 86.2 415.28 86.96 415.61 87.96 415.79 88.22 416.29 89.68 416.8 89.36 417.3 88.56" fill="none" stroke="#34449a" stroke-width="0.9" stroke-linejoin="round" stroke-linecap="round"/>
<path d="M417.3 88.38 417.81 88.84 418.32 88.57 418.82 89.06 419.33 89.13 419.83 89.5 420.34 89.57 420.85 89.31" fill="none" stroke="#26a6a6" stroke-width="0.9" stroke-linejoin="round" stroke-linecap="round"/>
<path d="M417.3 89.3 417.81 89.58 418.32 89.35 418.82 88.38 419.33 88.33 419.83 87.45 420.34 87.67 420.85 88.3" fill="none" stroke="#e0dc20" stroke-width="0.9" stroke-linejoin="round" stroke-linecap="round"/>
<path d="M417.3 87.94 417.81 88.39 418.32 89.34 418.82 88.25 419.33 88.41 419.83 87.29 420.34 87.27 420.85 88.23" fill="none" stroke="#2a8a3a" stroke-width="0.9" stroke-linejoin="round" stroke-linecap="round"/>
<path d="M417.3 88.56 417.81 88.76 418.32 88.82 418.82 88.59 419.33 88.7 419.83 88.27 420.34 88.68 420.85 89.17" fill="none" stroke="#34449a" stroke-width="0.9" stroke-linejoin="round" stroke-linecap="round"/>
<path d="M420.85 88.3 421.35 88.45 421.86 88.83 422.36 88.8 422.87 87.01 423.1 85.69 423.38 83.08 423.48 80.83" fill="none" stroke="#e0dc20" stroke-width="0.9" stroke-linejoin="round" stroke-linecap="round"/>
<path d="M420.85 89.17 421.35 89.48 421.86 89.35 422.36 87.86 422.87 85.71 423.1 84.45 423.38 81.03 423.48 80.53" fill="none" stroke="#34449a" stroke-width="0.9" stroke-linejoin="round" stroke-linecap="round"/>
<path d="M420.85 88.23 421.35 88.22 421.86 88.11 422.36 87.76 422.87 86.86 423.1 84.84 423.38 82.95 423.48 80.91" fill="none" stroke="#2a8a3a" stroke-width="0.9" stroke-linejoin="round" stroke-linecap="round"/>
<path d="M420.85 89.31 421.35 89.47 421.86 87.77 422.36 87.37 422.87 86.35 423.1 85.06 423.38 83.47 423.48 82.85" fill="none" stroke="#26a6a6" stroke-width="0.9" stroke-linejoin="round" stroke-linecap="round"/>
<path d="M423.48 80.53 423.85 74.49 423.88 73.42 424.23 72.04 424.39 70.85 424.6 69.47 424.89 59.4 424.92 58.12" fill="none" stroke="#34449a" stroke-width="0.9" stroke-linejoin="round" stroke-linecap="round"/>
<path d="M423.48 80.83 423.85 76.93 423.88 75.91 424.23 74.59 424.39 75.47 424.6 76.08 424.89 74.29 424.92 73.19" fill="none" stroke="#e0dc20" stroke-width="0.9" stroke-linejoin="round" stroke-linecap="round"/>
<path d="M423.48 82.85 423.85 79.08 423.88 77.74 424.23 74.49 424.39 73.53 424.6 73.81 424.89 71.34 424.92 71.48" fill="none" stroke="#26a6a6" stroke-width="0.9" stroke-linejoin="round" stroke-linecap="round"/>
<path d="M423.48 80.91 423.85 75.72 423.88 75.32 424.23 73.88 424.39 73.88 424.6 73.75 424.89 69.83 424.92 68.05" fill="none" stroke="#2a8a3a" stroke-width="0.9" stroke-linejoin="round" stroke-linecap="round"/>
<path d="M424.92 58.12 424.98 54.8 425.13 44.72 425.33 33.77 425.35 33.99 425.4 34.86 425.54 41.98 425.74 59.68" fill="none" stroke="#34449a" stroke-width="0.9" stroke-linejoin="round" stroke-linecap="round"/>
<path d="M424.92 73.19 424.98 71.8 425.13 64.97 425.33 51.57 425.35 50.54 425.4 46.74 425.54 39.45 425.74 42.38" fill="none" stroke="#e0dc20" stroke-width="0.9" stroke-linejoin="round" stroke-linecap="round"/>
<path d="M424.92 68.05 424.98 66.11 425.13 57.93 425.33 43.77 425.35 42.46 425.4 39.83 425.54 38.14 425.74 49.31" fill="none" stroke="#2a8a3a" stroke-width="0.9" stroke-linejoin="round" stroke-linecap="round"/>
<path d="M424.92 71.48 424.98 69.79 425.13 62.88 425.33 49.75 425.35 48.59 425.4 45.2 425.54 40.51 425.74 48.13" fill="none" stroke="#26a6a6" stroke-width="0.9" stroke-linejoin="round" stroke-linecap="round"/>
<path d="M425.74 48.13 425.91 59.46 425.95 63.66 426.16 74.78 426.41 80.88 426.85 82.35 426.92 81.47 427.22 79.2" fill="none" stroke="#26a6a6" stroke-width="0.9" stroke-linejoin="round" stroke-linecap="round"/>
<path d="M425.74 59.68 425.91 70.16 425.95 73.01 426.16 80.92 426.41 84.38 426.85 84.54 426.92 83.1 427.22 79.72" fill="none" stroke="#34449a" stroke-width="0.9" stroke-linejoin="round" stroke-linecap="round"/>
<path d="M425.74 42.38 425.91 54.08 425.95 56.56 426.16 69.64 426.41 78.06 426.85 81.56 426.92 82.71 427.22 80.33" fill="none" stroke="#e0dc20" stroke-width="0.9" stroke-linejoin="round" stroke-linecap="round"/>
<path d="M425.74 49.31 425.91 61.86 425.95 64.69 426.16 75.01 426.41 80.43 426.85 80.88 426.92 80.33 427.22 77.03" fill="none" stroke="#2a8a3a" stroke-width="0.9" stroke-linejoin="round" stroke-linecap="round"/>
<path d="M427.22 79.2 427.42 76.97 427.6 75.04 427.93 73.08 427.97 72.68 428.35 75.99 428.44 78.95 428.72 82.97" fill="none" stroke="#26a6a6" stroke-width="0.9" stroke-linejoin="round" stroke-linecap="round"/>
<path d="M427.22 79.72 427.42 77.31 427.6 75.31 427.93 73.31 427.97 73.58 428.35 76.73 428.44 77.47 428.72 80.8" fill="none" stroke="#34449a" stroke-width="0.9" stroke-linejoin="round" stroke-linecap="round"/>
<path d="M427.22 77.03 427.42 74.25 427.6 72.6 427.93 71.5 427.97 71.65 428.35 76.7 428.44 77.95 428.72 81.82" fill="none" stroke="#2a8a3a" stroke-width="0.9" stroke-linejoin="round" stroke-linecap="round"/>
<path d="M427.22 80.33 427.42 78.8 427.6 76.23 427.93 71.71 427.97 72.39 428.35 73.43 428.44 73.93 428.72 78.21" fill="none" stroke="#e0dc20" stroke-width="0.9" stroke-linejoin="round" stroke-linecap="round"/>
<path d="M428.72 80.8 428.94 83.56 429.09 84.92 429.45 87.07 429.95 89.03 430.46 88.72 430.97 88.34 431.47 87.47" fill="none" stroke="#34449a" stroke-width="0.9" stroke-linejoin="round" stroke-linecap="round"/>
<path d="M428.72 78.21 428.94 80.79 429.09 82.57 429.45 85.24 429.95 87.08 430.46 87.88 430.97 87.46 431.47 87.28" fill="none" stroke="#e0dc20" stroke-width="0.9" stroke-linejoin="round" stroke-linecap="round"/>
<path d="M428.72 82.97 428.94 85.83 429.09 87.01 429.45 87.95 429.95 87.34 430.46 87.37 430.97 87.29 431.47 86.23" fill="none" stroke="#26a6a6" stroke-width="0.9" stroke-linejoin="round" stroke-linecap="round"/>
<path d="M428.72 81.82 428.94 83.43 429.09 84.5 429.45 85.96 429.95 86.47 430.46 87.82 430.97 87.4 431.47 86.47" fill="none" stroke="#2a8a3a" stroke-width="0.9" stroke-linejoin="round" stroke-linecap="round"/>
<path d="M431.47 86.23 431.98 84.82 432.16 83.08 432.39 79.1 432.48 77.08 432.61 74.03 432.84 68.16 432.99 68.19" fill="none" stroke="#26a6a6" stroke-width="0.9" stroke-linejoin="round" stroke-linecap="round"/>
<path d="M431.47 87.28 431.98 84.93 432.16 82.07 432.39 77.96 432.48 75.29 432.61 70.52 432.84 65.44 432.99 66.38" fill="none" stroke="#e0dc20" stroke-width="0.9" stroke-linejoin="round" stroke-linecap="round"/>
<path d="M431.47 86.47 431.98 84.79 432.16 81.96 432.39 77.17 432.48 74.22 432.61 71.13 432.84 68.33 432.99 70.37" fill="none" stroke="#2a8a3a" stroke-width="0.9" stroke-linejoin="round" stroke-linecap="round"/>
<path d="M431.47 87.47 431.98 85.15 432.16 83.01 432.39 78.56 432.48 76.83 432.61 72.94 432.84 70.44 432.99 73.1" fill="none" stroke="#34449a" stroke-width="0.9" stroke-linejoin="round" stroke-linecap="round"/>
<path d="M432.99 70.37 433.06 73.27 433.29 78.9 433.5 83.42 433.51 84.11 434 87.32 434.51 88.36 435.01 88.3" fill="none" stroke="#2a8a3a" stroke-width="0.9" stroke-linejoin="round" stroke-linecap="round"/>
<path d="M432.99 68.19 433.06 69.03 433.29 75.35 433.5 81.24 433.51 81.97 434 87.76 434.51 88.5 435.01 88.45" fill="none" stroke="#26a6a6" stroke-width="0.9" stroke-linejoin="round" stroke-linecap="round"/>
<path d="M432.99 73.1 433.06 74.77 433.29 80.91 433.5 84.91 433.51 85 434 88.76 434.51 90.33 435.01 90.61" fill="none" stroke="#34449a" stroke-width="0.9" stroke-linejoin="round" stroke-linecap="round"/>
<path d="M432.99 66.38 433.06 69.21 433.29 77.09 433.5 82.9 433.51 83.44 434 87.39 434.51 89.38 435.01 89.56" fill="none" stroke="#e0dc20" stroke-width="0.9" stroke-linejoin="round" stroke-linecap="round"/>
<path d="M435.01 90.61 435.52 90.97 436.03 90.5 436.53 90.09 437.04 90.23 437.54 90.45 438.05 90.96 438.56 90.6" fill="none" stroke="#34449a" stroke-width="0.9" stroke-linejoin="round" stroke-linecap="round"/>
<path d="M435.01 89.56 435.52 89.87 436.03 90.09 436.53 89.56 437.04 89.38 437.54 89.81 438.05 89.74 438.56 89.55" fill="none" stroke="#e0dc20" stroke-width="0.9" stroke-linejoin="round" stroke-linecap="round"/>
<path d="M435.01 88.45 435.52 88.43 436.03 87.85 436.53 89.07 437.04 89.63 437.54 89.68 438.05 89.89 438.56 89.2" fill="none" stroke="#26a6a6" stroke-width="0.9" stroke-linejoin="round" stroke-linecap="round"/>
<path d="M435.01 88.3 435.52 88.87 436.03 88.83 436.53 88.49 437.04 88.86 437.54 88.81 438.05 88.94 438.56 88.97" fill="none" stroke="#2a8a3a" stroke-width="0.9" stroke-linejoin="round" stroke-linecap="round"/>
<path d="M438.56 90.6 439.06 90.79 439.57 90.29 440.07 89.96 440.58 90.03 441.09 89.47 441.59 90.39 442.1 90.56" fill="none" stroke="#34449a" stroke-width="0.9" stroke-linejoin="round" stroke-linecap="round"/>
<path d="M438.56 88.97 439.06 89.19 439.57 88.38 440.07 88.1 440.58 88.45 441.09 87.71 441.59 88.39 442.1 88.76" fill="none" stroke="#2a8a3a" stroke-width="0.9" stroke-linejoin="round" stroke-linecap="round"/>
<path d="M438.56 89.55 439.06 89.67 439.57 88.75 440.07 89.02 440.58 89.39 441.09 90.04 441.59 90.77 442.1 90.83" fill="none" stroke="#e0dc20" stroke-width="0.9" stroke-linejoin="round" stroke-linecap="round"/>
<path d="M438.56 89.2 439.06 88.36 439.57 88.83 440.07 88.64 440.58 88.54 441.09 88.7 441.59 88.37 442.1 88.36" fill="none" stroke="#26a6a6" stroke-width="0.9" stroke-linejoin="round" stroke-linecap="round"/>
<path d="M442.1 90.83 442.6 90.48 443.11 90.51 443.62 90.28 444.12 89.97 444.63 90.23 445.13 90.39 445.64 90.24" fill="none" stroke="#e0dc20" stroke-width="0.9" stroke-linejoin="round" stroke-linecap="round"/>
<path d="M442.1 88.76 442.6 89.09 443.11 89.26 443.62 89.01 444.12 89.16 444.63 87.89 445.13 89.39 445.64 89.35" fill="none" stroke="#2a8a3a" stroke-width="0.9" stroke-linejoin="round" stroke-linecap="round"/>
<path d="M442.1 88.36 442.6 87.91 443.11 87.94 443.62 87.86 444.12 88.25 444.63 88.86 445.13 89.78 445.64 90.32" fill="none" stroke="#26a6a6" stroke-width="0.9" stroke-linejoin="round" stroke-linecap="round"/>
<path d="M442.1 90.56 442.6 91.04 443.11 90.96 443.62 89.52 444.12 89.41 444.63 88.99 445.13 89.72 445.64 89.74" fill="none" stroke="#34449a" stroke-width="0.9" stroke-linejoin="round" stroke-linecap="round"/>
<path d="M445.64 90.24 446.15 90.13 446.65 90.1 447.16 90.29 447.66 90.06 448.17 90.06 448.68 89.54 449.18 88.77" fill="none" stroke="#e0dc20" stroke-width="0.9" stroke-linejoin="round" stroke-linecap="round"/>
<path d="M445.64 90.32 446.15 90.32 446.65 90.53 447.16 89.66 447.66 89.82 448.17 90.01 448.68 88.98 449.18 88.87" fill="none" stroke="#26a6a6" stroke-width="0.9" stroke-linejoin="round" stroke-linecap="round"/>
<path d="M445.64 89.35 446.15 88.93 446.65 90.14 447.16 88.92 447.66 88.45 448.17 88.85 448.68 88.64 449.18 87.93" fill="none" stroke="#2a8a3a" stroke-width="0.9" stroke-linejoin="round" stroke-linecap="round"/>
<path d="M445.64 89.74 446.15 89.98 446.65 90.58 447.16 89.9 447.66 90.55 448.17 89.89 448.68 89.25 449.18 89.2" fill="none" stroke="#34449a" stroke-width="0.9" stroke-linejoin="round" stroke-linecap="round"/>
<path d="M449.18 88.77 449.31 87.92 449.69 87.01 450.06 85.91 450.19 84.58 450.44 85.13 450.7 85.37 450.81 85.07" fill="none" stroke="#e0dc20" stroke-width="0.9" stroke-linejoin="round" stroke-linecap="round"/>
<path d="M449.18 89.2 449.31 89.26 449.69 88.23 450.06 86.5 450.19 86.16 450.44 84.34 450.7 84.79 450.81 84.78" fill="none" stroke="#34449a" stroke-width="0.9" stroke-linejoin="round" stroke-linecap="round"/>
<path d="M449.18 87.93 449.31 88.23 449.69 87.01 450.06 84.56 450.19 84.23 450.44 83.53 450.7 83.18 450.81 83.36" fill="none" stroke="#2a8a3a" stroke-width="0.9" stroke-linejoin="round" stroke-linecap="round"/>
<path d="M449.18 88.87 449.31 88.33 449.69 85.81 450.06 84.26 450.19 83.25 450.44 81.72 450.7 82.85 450.81 83.23" fill="none" stroke="#26a6a6" stroke-width="0.9" stroke-linejoin="round" stroke-linecap="round"/>
<path d="M450.81 85.07 451.19 87.01 451.21 85.96 451.56 86.71 451.71 87.94 452.22 88.05 452.72 89.34 453.23 89.22" fill="none" stroke="#e0dc20" stroke-width="0.9" stroke-linejoin="round" stroke-linecap="round"/>
<path d="M450.81 83.23 451.19 85.29 451.21 86.21 451.56 88.72 451.71 89.23 452.22 89.93 452.72 89.81 453.23 88.52" fill="none" stroke="#26a6a6" stroke-width="0.9" stroke-linejoin="round" stroke-linecap="round"/>
<path d="M450.81 84.78 451.19 85.78 451.21 86.56 451.56 88.07 451.71 89.72 452.22 91.1 452.72 91.43 453.23 90.97" fill="none" stroke="#34449a" stroke-width="0.9" stroke-linejoin="round" stroke-linecap="round"/>
<path d="M450.81 83.36 451.19 84.88 451.21 84.58 451.56 86.58 451.71 87.56 452.22 88.59 452.72 88.99 453.23 88.31" fill="none" stroke="#2a8a3a" stroke-width="0.9" stroke-linejoin="round" stroke-linecap="round"/>
<path d="M453.23 88.52 453.74 87.28 454 85.32 454.24 83.99 454.56 82.57 454.75 82.48 455.12 81.38 455.25 81.29" fill="none" stroke="#26a6a6" stroke-width="0.9" stroke-linejoin="round" stroke-linecap="round"/>
<path d="M453.23 90.97 453.74 89.45 454 88.58 454.24 86.7 454.56 86.43 454.75 85.56 455.12 83.45 455.25 83.5" fill="none" stroke="#34449a" stroke-width="0.9" stroke-linejoin="round" stroke-linecap="round"/>
<path d="M453.23 89.22 453.74 88.16 454 87.85 454.24 85.46 454.56 83.86 454.75 82.53 455.12 79.98 455.25 79.62" fill="none" stroke="#e0dc20" stroke-width="0.9" stroke-linejoin="round" stroke-linecap="round"/>
<path d="M453.23 88.31 453.74 87 454 86.18 454.24 85.86 454.56 84.25 454.75 83.44 455.12 81.81 455.25 80.73" fill="none" stroke="#2a8a3a" stroke-width="0.9" stroke-linejoin="round" stroke-linecap="round"/>
<path d="M455.25 80.73 455.68 81.15 455.76 81.71 456.24 83.78 456.27 84.61 456.77 86.8 456.8 86.96 457.28 88.47" fill="none" stroke="#2a8a3a" stroke-width="0.9" stroke-linejoin="round" stroke-linecap="round"/>
<path d="M455.25 79.62 455.68 78.85 455.76 78.58 456.24 80.14 456.27 80.52 456.77 83.51 456.8 83.73 457.28 86.65" fill="none" stroke="#e0dc20" stroke-width="0.9" stroke-linejoin="round" stroke-linecap="round"/>
<path d="M455.25 83.5 455.68 81.64 455.76 82.21 456.24 83.02 456.27 83.44 456.77 85.28 456.8 84.57 457.28 86.6" fill="none" stroke="#34449a" stroke-width="0.9" stroke-linejoin="round" stroke-linecap="round"/>
<path d="M455.25 81.29 455.68 80.34 455.76 80.52 456.24 83.15 456.27 82.91 456.77 85.95 456.8 85.14 457.28 86.91" fill="none" stroke="#26a6a6" stroke-width="0.9" stroke-linejoin="round" stroke-linecap="round"/>
<path d="M457.28 86.91 457.37 87.48 457.78 88.16 458.29 88.78 458.3 88.39 458.68 87.53 458.8 86.79 459.05 85.34" fill="none" stroke="#26a6a6" stroke-width="0.9" stroke-linejoin="round" stroke-linecap="round"/>
<path d="M457.28 88.47 457.37 87.93 457.78 88.72 458.29 87.86 458.3 87.18 458.68 86.02 458.8 84.95 459.05 83.63" fill="none" stroke="#2a8a3a" stroke-width="0.9" stroke-linejoin="round" stroke-linecap="round"/>
<path d="M457.28 86.6 457.37 86.69 457.78 86.97 458.29 87.81 458.3 87.14 458.68 86.44 458.8 86.22 459.05 84.56" fill="none" stroke="#34449a" stroke-width="0.9" stroke-linejoin="round" stroke-linecap="round"/>
<path d="M457.28 86.65 457.37 87.74 457.78 88.28 458.29 88.22 458.3 87.38 458.68 86.24 458.8 86.23 459.05 85.86" fill="none" stroke="#e0dc20" stroke-width="0.9" stroke-linejoin="round" stroke-linecap="round"/>
<path d="M459.05 84.56 459.3 84.12 459.42 84.15 459.8 84.88 459.81 85.15 460.17 87.53 460.32 87.52 460.55 88.66" fill="none" stroke="#34449a" stroke-width="0.9" stroke-linejoin="round" stroke-linecap="round"/>
<path d="M459.05 85.34 459.3 83.64 459.42 83.64 459.8 84.98 459.81 84.85 460.17 86.87 460.32 87.4 460.55 86.97" fill="none" stroke="#26a6a6" stroke-width="0.9" stroke-linejoin="round" stroke-linecap="round"/>
<path d="M459.05 83.63 459.3 83.3 459.42 82.82 459.8 84.59 459.81 85.13 460.17 86.48 460.32 87.25 460.55 87.21" fill="none" stroke="#2a8a3a" stroke-width="0.9" stroke-linejoin="round" stroke-linecap="round"/>
<path d="M459.05 85.86 459.3 85.53 459.42 84.95 459.8 84.55 459.81 84.3 460.17 85.39 460.32 85.7 460.55 85.91" fill="none" stroke="#e0dc20" stroke-width="0.9" stroke-linejoin="round" stroke-linecap="round"/>
<path d="M460.55 88.66 460.82 89.51 461.33 89.18 461.83 89.81 462.34 89.66 462.85 89.72 463.35 89.98 463.86 89.45" fill="none" stroke="#34449a" stroke-width="0.9" stroke-linejoin="round" stroke-linecap="round"/>
<path d="M460.55 87.21 460.82 87.62 461.33 87.87 461.83 88.03 462.34 88.18 462.85 88.11 463.35 88.86 463.86 89.61" fill="none" stroke="#2a8a3a" stroke-width="0.9" stroke-linejoin="round" stroke-linecap="round"/>
<path d="M460.55 86.97 460.82 88.33 461.33 88.46 461.83 88.98 462.34 89.22 462.85 89.23 463.35 89.92 463.86 89.28" fill="none" stroke="#26a6a6" stroke-width="0.9" stroke-linejoin="round" stroke-linecap="round"/>
<path d="M460.55 85.91 460.82 86.69 461.33 87.13 461.83 87.52 462.34 88.48 462.85 88.68 463.35 90.2 463.86 90.9" fill="none" stroke="#e0dc20" stroke-width="0.9" stroke-linejoin="round" stroke-linecap="round"/>
<path d="M463.86 89.61 464.36 89.62 464.87 89.84 465.32 88.75 465.38 88.53 465.88 88.05 465.98 87.95 466.39 88.54" fill="none" stroke="#2a8a3a" stroke-width="0.9" stroke-linejoin="round" stroke-linecap="round"/>
<path d="M463.86 89.28 464.36 88.76 464.87 88.37 465.32 88.14 465.38 88.24 465.88 88.55 465.98 88.24 466.39 87.57" fill="none" stroke="#26a6a6" stroke-width="0.9" stroke-linejoin="round" stroke-linecap="round"/>
<path d="M463.86 89.45 464.36 90.19 464.87 89.8 465.32 89.51 465.38 89.49 465.88 88.47 465.98 88.39 466.39 88.18" fill="none" stroke="#34449a" stroke-width="0.9" stroke-linejoin="round" stroke-linecap="round"/>
<path d="M463.86 90.9 464.36 90.34 464.87 90.52 465.32 89.31 465.38 88.67 465.88 88.84 465.98 88.15 466.39 86.33" fill="none" stroke="#e0dc20" stroke-width="0.9" stroke-linejoin="round" stroke-linecap="round"/>
<path d="M466.39 88.18 466.63 88.68 466.89 88.11 467.29 87.77 467.4 88.14 467.91 87.98 467.94 88.66 468.41 89.78" fill="none" stroke="#34449a" stroke-width="0.9" stroke-linejoin="round" stroke-linecap="round"/>
<path d="M466.39 88.54 466.63 87.14 466.89 86.96 467.29 86.18 467.4 85.82 467.91 86.58 467.94 86.34 468.41 87.38" fill="none" stroke="#2a8a3a" stroke-width="0.9" stroke-linejoin="round" stroke-linecap="round"/>
<path d="M466.39 86.33 466.63 86.55 466.89 85.61 467.29 86.25 467.4 87.17 467.91 86.84 467.94 87.69 468.41 87.3" fill="none" stroke="#e0dc20" stroke-width="0.9" stroke-linejoin="round" stroke-linecap="round"/>
<path d="M466.39 87.57 466.63 87.64 466.89 87.41 467.29 88.54 467.4 88.47 467.91 88.26 467.94 87.68 468.41 87.82" fill="none" stroke="#26a6a6" stroke-width="0.9" stroke-linejoin="round" stroke-linecap="round"/>
<path d="M468.41 87.3 468.6 87.82 468.92 89.07 469.25 88.69 469.42 89.09 469.44 89.05 469.93 88.72 470.1 88.29" fill="none" stroke="#e0dc20" stroke-width="0.9" stroke-linejoin="round" stroke-linecap="round"/>
<path d="M468.41 87.38 468.6 87.59 468.92 88.38 469.25 88.44 469.42 88.21 469.44 88.31 469.93 88.25 470.1 87.86" fill="none" stroke="#2a8a3a" stroke-width="0.9" stroke-linejoin="round" stroke-linecap="round"/>
<path d="M468.41 89.78 468.6 89.61 468.92 89.91 469.25 89.85 469.42 89.93 469.44 90.2 469.93 89.62 470.1 89.74" fill="none" stroke="#34449a" stroke-width="0.9" stroke-linejoin="round" stroke-linecap="round"/>
<path d="M468.41 87.82 468.6 88.01 468.92 88.94 469.25 89.78 469.42 89.95 469.44 90.45 469.93 89.75 470.1 89.58" fill="none" stroke="#26a6a6" stroke-width="0.9" stroke-linejoin="round" stroke-linecap="round"/>
<path d="M470.1 89.58 470.44 89.1 470.75 87.88 470.94 88.4 471.41 88.52 471.45 88.48 471.95 89.08 472.06 88.73" fill="none" stroke="#26a6a6" stroke-width="0.9" stroke-linejoin="round" stroke-linecap="round"/>
<path d="M470.1 87.86 470.44 88.2 470.75 87.79 470.94 87.98 471.41 88.22 471.45 88.2 471.95 87.71 472.06 87.66" fill="none" stroke="#2a8a3a" stroke-width="0.9" stroke-linejoin="round" stroke-linecap="round"/>
<path d="M470.1 88.29 470.44 88.31 470.75 88.25 470.94 88.68 471.41 88.76 471.45 88.19 471.95 88.55 472.06 87.62" fill="none" stroke="#e0dc20" stroke-width="0.9" stroke-linejoin="round" stroke-linecap="round"/>
<path d="M470.1 89.74 470.44 88.39 470.75 88.13 470.94 88.5 471.41 88.05 471.45 88.33 471.95 87.5 472.06 87.62" fill="none" stroke="#34449a" stroke-width="0.9" stroke-linejoin="round" stroke-linecap="round"/>
<path d="M472.06 87.62 472.46 88 472.72 88.24 472.97 89.35 473.37 88.99 473.47 88.84 473.98 88.67 474.48 87.63" fill="none" stroke="#34449a" stroke-width="0.9" stroke-linejoin="round" stroke-linecap="round"/>
<path d="M472.06 87.62 472.46 88.21 472.72 88.8 472.97 89.11 473.37 89.18 473.47 89.06 473.98 88.07 474.48 87.12" fill="none" stroke="#e0dc20" stroke-width="0.9" stroke-linejoin="round" stroke-linecap="round"/>
<path d="M472.06 87.66 472.46 87.89 472.72 88.02 472.97 88.95 473.37 88.64 473.47 88.83 473.98 88.58 474.48 88.39" fill="none" stroke="#2a8a3a" stroke-width="0.9" stroke-linejoin="round" stroke-linecap="round"/>
<path d="M472.06 88.73 472.46 88.22 472.72 88.1 472.97 88.13 473.37 88.26 473.47 88.52 473.98 88.65 474.48 89.14" fill="none" stroke="#26a6a6" stroke-width="0.9" stroke-linejoin="round" stroke-linecap="round"/>
<path d="M474.48 87.12 474.68 87.81 474.99 87.31 475.34 87.56 475.5 87.19 475.99 85.96 476 86.26 476.51 85.33" fill="none" stroke="#e0dc20" stroke-width="0.9" stroke-linejoin="round" stroke-linecap="round"/>
<path d="M474.48 89.14 474.68 88.48 474.99 88.72 475.34 87.41 475.5 85.91 475.99 85.46 476 85.1 476.51 85.29" fill="none" stroke="#26a6a6" stroke-width="0.9" stroke-linejoin="round" stroke-linecap="round"/>
<path d="M474.48 87.63 474.68 88.6 474.99 88.38 475.34 87.95 475.5 88.52 475.99 85.53 476 85.58 476.51 85.24" fill="none" stroke="#34449a" stroke-width="0.9" stroke-linejoin="round" stroke-linecap="round"/>
<path d="M474.48 88.39 474.68 88.74 474.99 87.92 475.34 87.5 475.5 87.03 475.99 86.57 476 86.39 476.51 85.42" fill="none" stroke="#2a8a3a" stroke-width="0.9" stroke-linejoin="round" stroke-linecap="round"/>
<path d="M476.51 85.42 476.65 85.65 477.01 84.7 477.3 85.39 477.52 86.21 477.96 86.88 478.03 87.24 478.53 88.47" fill="none" stroke="#2a8a3a" stroke-width="0.9" stroke-linejoin="round" stroke-linecap="round"/>
<path d="M476.51 85.33 476.65 85.94 477.01 85.89 477.3 86.45 477.52 87.01 477.96 88.14 478.03 88.3 478.53 88.57" fill="none" stroke="#e0dc20" stroke-width="0.9" stroke-linejoin="round" stroke-linecap="round"/>
<path d="M476.51 85.24 476.65 84.57 477.01 86.3 477.3 86.04 477.52 86.42 477.96 87.82 478.03 86.89 478.53 87.59" fill="none" stroke="#34449a" stroke-width="0.9" stroke-linejoin="round" stroke-linecap="round"/>
<path d="M476.51 85.29 476.65 85.4 477.01 85.54 477.3 85.96 477.52 86.62 477.96 87.94 478.03 88.26 478.53 88.43" fill="none" stroke="#26a6a6" stroke-width="0.9" stroke-linejoin="round" stroke-linecap="round"/>
<path d="M478.53 88.47 478.61 88.38 479.04 88.72 479.18 88.96 479.54 89 479.83 88.41 480.05 87.57 480.49 87.04" fill="none" stroke="#2a8a3a" stroke-width="0.9" stroke-linejoin="round" stroke-linecap="round"/>
<path d="M478.53 88.57 478.61 88.68 479.04 88.12 479.18 88.29 479.54 88.12 479.83 88.52 480.05 88.63 480.49 88.33" fill="none" stroke="#e0dc20" stroke-width="0.9" stroke-linejoin="round" stroke-linecap="round"/>
<path d="M478.53 88.43 478.61 87.96 479.04 88 479.18 88.06 479.54 87.94 479.83 87.5 480.05 87.69 480.49 87.63" fill="none" stroke="#26a6a6" stroke-width="0.9" stroke-linejoin="round" stroke-linecap="round"/>
<path d="M478.53 87.59 478.61 87.56 479.04 87.31 479.18 87.86 479.54 88.37 479.83 88.27 480.05 87.54 480.49 87.21" fill="none" stroke="#34449a" stroke-width="0.9" stroke-linejoin="round" stroke-linecap="round"/>
<path d="M480.49 88.33 480.56 88.67 481.06 87.87 481.14 86.92 481.57 86.7 481.8 86.91 482.07 87.3 482.45 88.63" fill="none" stroke="#e0dc20" stroke-width="0.9" stroke-linejoin="round" stroke-linecap="round"/>
<path d="M480.49 87.21 480.56 86.5 481.06 85.2 481.14 84.77 481.57 85.34 481.8 85.99 482.07 87.83 482.45 88.62" fill="none" stroke="#34449a" stroke-width="0.9" stroke-linejoin="round" stroke-linecap="round"/>
<path d="M480.49 87.63 480.56 88.08 481.06 88.18 481.14 87.83 481.57 87.78 481.8 88.06 482.07 88.91 482.45 89.55" fill="none" stroke="#26a6a6" stroke-width="0.9" stroke-linejoin="round" stroke-linecap="round"/>
<path d="M480.49 87.04 480.56 87.02 481.06 87.2 481.14 86.98 481.57 87.44 481.8 87.53 482.07 87.6 482.45 88.2" fill="none" stroke="#2a8a3a" stroke-width="0.9" stroke-linejoin="round" stroke-linecap="round"/>
<path d="M482.45 88.62 482.58 88.23 483.09 88.8 483.11 88.02 483.59 88.92 484.1 89.08 484.6 88.49 485.11 86.98" fill="none" stroke="#34449a" stroke-width="0.9" stroke-linejoin="round" stroke-linecap="round"/>
<path d="M482.45 89.55 482.58 88.89 483.09 88.79 483.11 87.77 483.59 87.27 484.1 87.98 484.6 88.07 485.11 86.67" fill="none" stroke="#26a6a6" stroke-width="0.9" stroke-linejoin="round" stroke-linecap="round"/>
<path d="M482.45 88.2 482.58 88 483.09 87.43 483.11 87.56 483.59 87.87 484.1 87.55 484.6 88.12 485.11 86.38" fill="none" stroke="#2a8a3a" stroke-width="0.9" stroke-linejoin="round" stroke-linecap="round"/>
<path d="M482.45 88.63 482.58 88.46 483.09 88.34 483.11 87.93 483.59 88.3 484.1 88.35 484.6 87.64 485.11 85.03" fill="none" stroke="#e0dc20" stroke-width="0.9" stroke-linejoin="round" stroke-linecap="round"/>
<path d="M485.11 86.98 485.49 84.94 485.62 84.6 485.79 83.42 486.08 80.51 486.12 80.05 486.38 75.5 486.63 74.25" fill="none" stroke="#34449a" stroke-width="0.9" stroke-linejoin="round" stroke-linecap="round"/>
<path d="M485.11 85.03 485.49 79.58 485.62 77.68 485.79 74.74 486.08 71.57 486.12 72.2 486.38 75.21 486.63 79.78" fill="none" stroke="#e0dc20" stroke-width="0.9" stroke-linejoin="round" stroke-linecap="round"/>
<path d="M485.11 86.67 485.49 84.92 485.62 82.86 485.79 79.42 486.08 74.44 486.12 73.16 486.38 71.05 486.63 73.41" fill="none" stroke="#26a6a6" stroke-width="0.9" stroke-linejoin="round" stroke-linecap="round"/>
<path d="M485.11 86.38 485.49 83.54 485.62 82.25 485.79 80.38 486.08 75.87 486.12 75.87 486.38 75.61 486.63 77.54" fill="none" stroke="#2a8a3a" stroke-width="0.9" stroke-linejoin="round" stroke-linecap="round"/>
<path d="M486.63 73.41 486.68 74.24 486.95 78.64 486.98 78.48 487.13 81.14 487.28 82.52 487.51 83.1 487.64 84.25" fill="none" stroke="#26a6a6" stroke-width="0.9" stroke-linejoin="round" stroke-linecap="round"/>
<path d="M486.63 74.25 486.68 74.28 486.95 77.81 486.98 78.58 487.13 81.51 487.28 82.58 487.51 84.23 487.64 83.92" fill="none" stroke="#34449a" stroke-width="0.9" stroke-linejoin="round" stroke-linecap="round"/>
<path d="M486.63 79.78 486.68 81.28 486.95 84.5 486.98 84.51 487.13 85.45 487.28 85.43 487.51 85.83 487.64 85.65" fill="none" stroke="#e0dc20" stroke-width="0.9" stroke-linejoin="round" stroke-linecap="round"/>
<path d="M486.63 77.54 486.68 79.36 486.95 82.06 486.98 81.23 487.13 82.6 487.28 82.49 487.51 83.19 487.64 83.58" fill="none" stroke="#2a8a3a" stroke-width="0.9" stroke-linejoin="round" stroke-linecap="round"/>
<path d="M487.64 83.92 488.07 83.58 488.15 83.62 488.63 83.06 488.65 83.65 489.16 85.02 489.19 85.28 489.66 86.56" fill="none" stroke="#34449a" stroke-width="0.9" stroke-linejoin="round" stroke-linecap="round"/>
<path d="M487.64 85.65 488.07 85.46 488.15 84.86 488.63 84.32 488.65 84.62 489.16 84.77 489.19 85.8 489.66 87.02" fill="none" stroke="#e0dc20" stroke-width="0.9" stroke-linejoin="round" stroke-linecap="round"/>
<path d="M487.64 84.25 488.07 83.55 488.15 82.91 488.63 82.99 488.65 83.48 489.16 84.37 489.19 84.88 489.66 86.38" fill="none" stroke="#26a6a6" stroke-width="0.9" stroke-linejoin="round" stroke-linecap="round"/>
<path d="M487.64 83.58 488.07 82.88 488.15 83.47 488.63 82.75 488.65 83.54 489.16 84.25 489.19 83.99 489.66 85.74" fill="none" stroke="#2a8a3a" stroke-width="0.9" stroke-linejoin="round" stroke-linecap="round"/>
<path d="M489.66 85.74 489.75 85.56 490.17 86.43 490.32 86.63 490.68 85.93 490.88 85.58 491.18 83.23 491.25 82.69" fill="none" stroke="#2a8a3a" stroke-width="0.9" stroke-linejoin="round" stroke-linecap="round"/>
<path d="M489.66 86.56 489.75 86.3 490.17 86.53 490.32 86.33 490.68 86.15 490.88 86.1 491.18 84.83 491.25 84.42" fill="none" stroke="#34449a" stroke-width="0.9" stroke-linejoin="round" stroke-linecap="round"/>
<path d="M489.66 86.38 489.75 85.8 490.17 86.7 490.32 86.09 490.68 85.16 490.88 84.66 491.18 82.99 491.25 82.58" fill="none" stroke="#26a6a6" stroke-width="0.9" stroke-linejoin="round" stroke-linecap="round"/>
<path d="M489.66 87.02 489.75 87.06 490.17 87.53 490.32 87.35 490.68 87.09 490.88 86.74 491.18 85.35 491.25 84.93" fill="none" stroke="#e0dc20" stroke-width="0.9" stroke-linejoin="round" stroke-linecap="round"/>
<path d="M491.25 84.42 491.63 81.73 491.69 81.85 492 78.79 492.19 79.44 492.38 80.94 492.7 82.98 492.75 84.25" fill="none" stroke="#34449a" stroke-width="0.9" stroke-linejoin="round" stroke-linecap="round"/>
<path d="M491.25 84.93 491.63 81.37 491.69 80.74 492 78.52 492.19 78.31 492.38 79.52 492.7 81.72 492.75 82.35" fill="none" stroke="#e0dc20" stroke-width="0.9" stroke-linejoin="round" stroke-linecap="round"/>
<path d="M491.25 82.69 491.63 80.31 491.69 80.23 492 80.5 492.19 82.33 492.38 83.76 492.7 85.58 492.75 85.84" fill="none" stroke="#2a8a3a" stroke-width="0.9" stroke-linejoin="round" stroke-linecap="round"/>
<path d="M491.25 82.58 491.63 80.45 491.69 79.69 492 78.18 492.19 79.16 492.38 79.43 492.7 83.4 492.75 83.64" fill="none" stroke="#26a6a6" stroke-width="0.9" stroke-linejoin="round" stroke-linecap="round"/>
<path d="M492.75 82.35 493.12 85.56 493.21 86.1 493.71 87.63 494.22 88.66 494.72 88.16 495.23 88.24 495.74 88.04" fill="none" stroke="#e0dc20" stroke-width="0.9" stroke-linejoin="round" stroke-linecap="round"/>
<path d="M492.75 85.84 493.12 87.11 493.21 87.3 493.71 87.8 494.22 87.92 494.72 87.61 495.23 87.37 495.74 88.15" fill="none" stroke="#2a8a3a" stroke-width="0.9" stroke-linejoin="round" stroke-linecap="round"/>
<path d="M492.75 84.25 493.12 86.16 493.21 85.95 493.71 87.81 494.22 88.29 494.72 88.68 495.23 88.32 495.74 88.26" fill="none" stroke="#34449a" stroke-width="0.9" stroke-linejoin="round" stroke-linecap="round"/>
<path d="M492.75 83.64 493.12 86.91 493.21 87.9 493.71 88.47 494.22 89.53 494.72 88.98 495.23 89.64 495.74 89.87" fill="none" stroke="#26a6a6" stroke-width="0.9" stroke-linejoin="round" stroke-linecap="round"/>
<path d="M495.74 88.04 496.24 87.19 496.75 87.96 496.87 87.56 497.25 87.7 497.76 87.76 498.27 87.39 498.37 87.45" fill="none" stroke="#e0dc20" stroke-width="0.9" stroke-linejoin="round" stroke-linecap="round"/>
<path d="M495.74 89.87 496.24 89.05 496.75 88.44 496.87 86.89 497.25 86.66 497.76 86.38 498.27 86.33 498.37 86.48" fill="none" stroke="#26a6a6" stroke-width="0.9" stroke-linejoin="round" stroke-linecap="round"/>
<path d="M495.74 88.26 496.24 87.8 496.75 87.76 496.87 87.95 497.25 87.54 497.76 87.48 498.27 87.57 498.37 86.7" fill="none" stroke="#34449a" stroke-width="0.9" stroke-linejoin="round" stroke-linecap="round"/>
<path d="M495.74 88.15 496.24 89 496.75 89.39 496.87 89.73 497.25 89 497.76 88.25 498.27 87.94 498.37 88.53" fill="none" stroke="#2a8a3a" stroke-width="0.9" stroke-linejoin="round" stroke-linecap="round"/>
<path d="M498.37 87.45 498.77 87.45 499.28 87.62 499.78 86.78 499.86 86.56 500.29 86.07 500.8 85.83 501.3 86.32" fill="none" stroke="#e0dc20" stroke-width="0.9" stroke-linejoin="round" stroke-linecap="round"/>
<path d="M498.37 86.7 498.77 86.89 499.28 86.25 499.78 85.22 499.86 85.52 500.29 84.8 500.8 84.51 501.3 84.91" fill="none" stroke="#34449a" stroke-width="0.9" stroke-linejoin="round" stroke-linecap="round"/>
<path d="M498.37 86.48 498.77 86.33 499.28 86.86 499.78 86.28 499.86 86.28 500.29 85.7 500.8 84.33 501.3 84.37" fill="none" stroke="#26a6a6" stroke-width="0.9" stroke-linejoin="round" stroke-linecap="round"/>
<path d="M498.37 88.53 498.77 88.74 499.28 88.21 499.78 87.49 499.86 86.45 500.29 85.5 500.8 85.26 501.3 85.17" fill="none" stroke="#2a8a3a" stroke-width="0.9" stroke-linejoin="round" stroke-linecap="round"/>
<path d="M501.3 86.32 501.36 86.97 501.81 87.17 502.31 86.79 502.82 86.9 502.86 86.28 503.33 86.68 503.83 86.9" fill="none" stroke="#e0dc20" stroke-width="0.9" stroke-linejoin="round" stroke-linecap="round"/>
<path d="M501.3 85.17 501.36 86.03 501.81 86.35 502.31 87.05 502.82 87.79 502.86 87.14 503.33 87.78 503.83 87.4" fill="none" stroke="#2a8a3a" stroke-width="0.9" stroke-linejoin="round" stroke-linecap="round"/>
<path d="M501.3 84.91 501.36 84.93 501.81 85.65 502.31 85.76 502.82 86.06 502.86 86.95 503.33 86.2 503.83 86.82" fill="none" stroke="#34449a" stroke-width="0.9" stroke-linejoin="round" stroke-linecap="round"/>
<path d="M501.3 84.37 501.36 84.23 501.81 84.88 502.31 85.49 502.82 85.89 502.86 86.46 503.33 86.31 503.83 86.07" fill="none" stroke="#26a6a6" stroke-width="0.9" stroke-linejoin="round" stroke-linecap="round"/>
<path d="M503.83 87.4 503.98 86.48 504.34 86.19 504.36 85.57 504.73 84.62 504.84 84.48 505.35 83.34 505.48 83.2" fill="none" stroke="#2a8a3a" stroke-width="0.9" stroke-linejoin="round" stroke-linecap="round"/>
<path d="M503.83 86.9 503.98 86.23 504.34 86.02 504.36 85.64 504.73 85.46 504.84 86.49 505.35 85.41 505.48 85.17" fill="none" stroke="#e0dc20" stroke-width="0.9" stroke-linejoin="round" stroke-linecap="round"/>
<path d="M503.83 86.07 503.98 86.28 504.34 85.3 504.36 85.39 504.73 84.95 504.84 84.41 505.35 83.03 505.48 83.06" fill="none" stroke="#26a6a6" stroke-width="0.9" stroke-linejoin="round" stroke-linecap="round"/>
<path d="M503.83 86.82 503.98 87.31 504.34 86.44 504.36 87.11 504.73 86.15 504.84 85.18 505.35 84.3 505.48 83.65" fill="none" stroke="#34449a" stroke-width="0.9" stroke-linejoin="round" stroke-linecap="round"/>
<path d="M505.48 83.65 505.86 83.38 506.23 83.48 506.36 83.61 506.87 84.92 506.98 85.21 507.37 85.49 507.54 85.23" fill="none" stroke="#34449a" stroke-width="0.9" stroke-linejoin="round" stroke-linecap="round"/>
<path d="M505.48 85.17 505.86 82.95 506.23 81.73 506.36 81.77 506.87 81.9 506.98 83.21 507.37 83.03 507.54 83.03" fill="none" stroke="#e0dc20" stroke-width="0.9" stroke-linejoin="round" stroke-linecap="round"/>
<path d="M505.48 83.2 505.86 82.29 506.23 82.12 506.36 81.54 506.87 82.08 506.98 82.8 507.37 83.26 507.54 83.97" fill="none" stroke="#2a8a3a" stroke-width="0.9" stroke-linejoin="round" stroke-linecap="round"/>
<path d="M505.48 83.06 505.86 82.22 506.23 83.32 506.36 83.6 506.87 83.99 506.98 83.95 507.37 83.21 507.54 83.73" fill="none" stroke="#26a6a6" stroke-width="0.9" stroke-linejoin="round" stroke-linecap="round"/>
<path d="M507.54 83.97 507.73 83.98 507.88 83.29 508.1 82.65 508.39 81.84 508.48 81.67 508.66 81.39 508.89 81.76" fill="none" stroke="#2a8a3a" stroke-width="0.9" stroke-linejoin="round" stroke-linecap="round"/>
<path d="M507.54 85.23 507.73 85.24 507.88 85.1 508.1 83.51 508.39 82.4 508.48 81.15 508.66 80.26 508.89 80.74" fill="none" stroke="#34449a" stroke-width="0.9" stroke-linejoin="round" stroke-linecap="round"/>
<path d="M507.54 83.73 507.73 82.9 507.88 82.72 508.1 82.03 508.39 80.62 508.48 80.74 508.66 80.35 508.89 79.83" fill="none" stroke="#26a6a6" stroke-width="0.9" stroke-linejoin="round" stroke-linecap="round"/>
<path d="M507.54 83.03 507.73 83.45 507.88 82.53 508.1 83.01 508.39 82.59 508.48 81.66 508.66 80.79 508.89 79.69" fill="none" stroke="#e0dc20" stroke-width="0.9" stroke-linejoin="round" stroke-linecap="round"/>
<path d="M508.89 81.76 509.23 81.3 509.4 81.65 509.79 83.68 509.9 83.3 510.35 85.33 510.41 84.79 510.91 86.17" fill="none" stroke="#2a8a3a" stroke-width="0.9" stroke-linejoin="round" stroke-linecap="round"/>
<path d="M508.89 79.83 509.23 79.7 509.4 79.81 509.79 81.05 509.9 81.19 510.35 83.54 510.41 84.24 510.91 86.56" fill="none" stroke="#26a6a6" stroke-width="0.9" stroke-linejoin="round" stroke-linecap="round"/>
<path d="M508.89 80.74 509.23 80.61 509.4 81.15 509.79 82.7 509.9 82.4 510.35 85.15 510.41 85.24 510.91 87" fill="none" stroke="#34449a" stroke-width="0.9" stroke-linejoin="round" stroke-linecap="round"/>
<path d="M508.89 79.69 509.23 78.24 509.4 78.21 509.79 79.76 509.9 80.1 510.35 82.71 510.41 83.82 510.91 86.48" fill="none" stroke="#e0dc20" stroke-width="0.9" stroke-linejoin="round" stroke-linecap="round"/>
<path d="M510.91 86.17 510.92 86.65 511.42 88.1 511.93 89.14 512.43 89.22 512.94 89.19 513.45 88.41 513.95 88.53" fill="none" stroke="#2a8a3a" stroke-width="0.9" stroke-linejoin="round" stroke-linecap="round"/>
<path d="M510.91 86.48 510.92 87.2 511.42 89.26 511.93 89.98 512.43 90.65 512.94 90.71 513.45 90.62 513.95 90.01" fill="none" stroke="#e0dc20" stroke-width="0.9" stroke-linejoin="round" stroke-linecap="round"/>
<path d="M510.91 87 510.92 87.47 511.42 87.94 511.93 88.27 512.43 88.53 512.94 88.78 513.45 89.26 513.95 90.13" fill="none" stroke="#34449a" stroke-width="0.9" stroke-linejoin="round" stroke-linecap="round"/>
<path d="M510.91 86.56 510.92 86.38 511.42 87.97 511.93 88 512.43 88.17 512.94 88.75 513.45 88.83 513.95 88.32" fill="none" stroke="#26a6a6" stroke-width="0.9" stroke-linejoin="round" stroke-linecap="round"/>
<path d="M513.95 90.01 514.46 90.02 514.96 89.61 515.47 90 515.98 90.54 516.48 90.44 516.99 90.56 517.49 90.61" fill="none" stroke="#e0dc20" stroke-width="0.9" stroke-linejoin="round" stroke-linecap="round"/>
<path d="M513.95 90.13 514.46 90.05 514.96 89.6 515.47 89.62 515.98 89.19 516.48 89.3 516.99 90.22 517.49 90.56" fill="none" stroke="#34449a" stroke-width="0.9" stroke-linejoin="round" stroke-linecap="round"/>
<path d="M513.95 88.32 514.46 88.27 514.96 88.48 515.47 88.21 515.98 88.83 516.48 89.08 516.99 89.55 517.49 89.54" fill="none" stroke="#26a6a6" stroke-width="0.9" stroke-linejoin="round" stroke-linecap="round"/>
<path d="M513.95 88.53 514.46 88.75 514.96 88.08 515.47 89.74 515.98 89.17 516.48 88.78 516.99 88.86 517.49 88.48" fill="none" stroke="#2a8a3a" stroke-width="0.9" stroke-linejoin="round" stroke-linecap="round"/>
<path d="M517.49 90.61 518 90.65 518.51 90.36 519.01 90.35 519.52 89.55 520.02 89.53 520.53 89.6 521.04 89.55" fill="none" stroke="#e0dc20" stroke-width="0.9" stroke-linejoin="round" stroke-linecap="round"/>
<path d="M517.49 88.48 518 88.68 518.51 89.34 519.01 90.01 519.52 89.68 520.02 89.51 520.53 89 521.04 89.37" fill="none" stroke="#2a8a3a" stroke-width="0.9" stroke-linejoin="round" stroke-linecap="round"/>
<path d="M517.49 89.54 518 90.14 518.51 90.64 519.01 89.95 519.52 90.28 520.02 89.83 520.53 89.27 521.04 88.96" fill="none" stroke="#26a6a6" stroke-width="0.9" stroke-linejoin="round" stroke-linecap="round"/>
<path d="M517.49 90.56 518 91.03 518.51 91.32 519.01 90.82 519.52 91.02 520.02 90.52 520.53 90.36 521.04 90.01" fill="none" stroke="#34449a" stroke-width="0.9" stroke-linejoin="round" stroke-linecap="round"/>
<path d="M521.04 90.01 521.54 89.61 522.05 89.51 522.55 89.41 523.06 90.16 523.45 90.44 523.57 90.67 523.83 89.61" fill="none" stroke="#34449a" stroke-width="0.9" stroke-linejoin="round" stroke-linecap="round"/>
<path d="M521.04 88.96 521.54 89.03 522.05 88.88 522.55 88.55 523.06 87.56 523.45 86.13 523.57 85.85 523.83 84.04" fill="none" stroke="#26a6a6" stroke-width="0.9" stroke-linejoin="round" stroke-linecap="round"/>
<path d="M521.04 89.37 521.54 88.72 522.05 88.78 522.55 88.73 523.06 87.86 523.45 87.37 523.57 87.49 523.83 85.67" fill="none" stroke="#2a8a3a" stroke-width="0.9" stroke-linejoin="round" stroke-linecap="round"/>
<path d="M521.04 89.55 521.54 90.36 522.05 90.03 522.55 89.83 523.06 89.11 523.45 87.59 523.57 86.83 523.83 85.07" fill="none" stroke="#e0dc20" stroke-width="0.9" stroke-linejoin="round" stroke-linecap="round"/>
<path d="M523.83 84.04 524.07 82.44 524.2 80.56 524.58 80.95 524.95 83.85 525.08 84.53 525.33 86.98 525.59 88.23" fill="none" stroke="#26a6a6" stroke-width="0.9" stroke-linejoin="round" stroke-linecap="round"/>
<path d="M523.83 85.07 524.07 83.36 524.2 82.29 524.58 80.79 524.95 82.17 525.08 82.84 525.33 84.65 525.59 86.83" fill="none" stroke="#e0dc20" stroke-width="0.9" stroke-linejoin="round" stroke-linecap="round"/>
<path d="M523.83 85.67 524.07 83.96 524.2 83.08 524.58 80.38 524.95 82.74 525.08 84.21 525.33 85.5 525.59 87.69" fill="none" stroke="#2a8a3a" stroke-width="0.9" stroke-linejoin="round" stroke-linecap="round"/>
<path d="M523.83 89.61 524.07 88 524.2 86.38 524.58 83.32 524.95 82.63 525.08 82.72 525.33 83.89 525.59 86.35" fill="none" stroke="#34449a" stroke-width="0.9" stroke-linejoin="round" stroke-linecap="round"/>
<path d="M525.59 88.23 525.7 88.07 526.1 89.05 526.6 88.76 527.11 88.6 527.61 88.85 528.12 88.21 528.63 88.11" fill="none" stroke="#26a6a6" stroke-width="0.9" stroke-linejoin="round" stroke-linecap="round"/>
<path d="M525.59 86.35 525.7 86.8 526.1 88.28 526.6 89.6 527.11 89.02 527.61 88.75 528.12 88.3 528.63 87.07" fill="none" stroke="#34449a" stroke-width="0.9" stroke-linejoin="round" stroke-linecap="round"/>
<path d="M525.59 86.83 525.7 87.67 526.1 89.26 526.6 89.81 527.11 89.06 527.61 88.78 528.12 88.32 528.63 87.23" fill="none" stroke="#e0dc20" stroke-width="0.9" stroke-linejoin="round" stroke-linecap="round"/>
<path d="M525.59 87.69 525.7 88.15 526.1 87.89 526.6 87.98 527.11 87.61 527.61 86.82 528.12 86.87 528.63 86.8" fill="none" stroke="#2a8a3a" stroke-width="0.9" stroke-linejoin="round" stroke-linecap="round"/>
<path d="M528.63 86.8 528.87 86.19 529.13 83.71 529.18 83.6 529.5 80.29 529.64 79.25 529.82 79.29 530.14 81.32" fill="none" stroke="#2a8a3a" stroke-width="0.9" stroke-linejoin="round" stroke-linecap="round"/>
<path d="M528.63 87.23 528.87 86.37 529.13 83.82 529.18 83.81 529.5 80.58 529.64 79.13 529.82 78.98 530.14 80.9" fill="none" stroke="#e0dc20" stroke-width="0.9" stroke-linejoin="round" stroke-linecap="round"/>
<path d="M528.63 87.07 528.87 86.16 529.13 84.26 529.18 83.8 529.5 79.08 529.64 77.71 529.82 76.12 530.14 78.61" fill="none" stroke="#34449a" stroke-width="0.9" stroke-linejoin="round" stroke-linecap="round"/>
<path d="M528.63 88.11 528.87 87.22 529.13 85.92 529.18 86.54 529.5 82.45 529.64 80.96 529.82 79.44 530.14 80.38" fill="none" stroke="#26a6a6" stroke-width="0.9" stroke-linejoin="round" stroke-linecap="round"/>
<path d="M530.14 81.32 530.14 81.05 530.46 83.98 530.65 85.74 530.77 86.62 531.16 88.34 531.66 89.64 532.17 89.22" fill="none" stroke="#2a8a3a" stroke-width="0.9" stroke-linejoin="round" stroke-linecap="round"/>
<path d="M530.14 80.38 530.14 80.45 530.46 83.61 530.65 85.29 530.77 85.71 531.16 87.44 531.66 87.79 532.17 88.09" fill="none" stroke="#26a6a6" stroke-width="0.9" stroke-linejoin="round" stroke-linecap="round"/>
<path d="M530.14 78.61 530.14 78.52 530.46 82.19 530.65 84.76 530.77 86.33 531.16 87.63 531.66 89.16 532.17 89.19" fill="none" stroke="#34449a" stroke-width="0.9" stroke-linejoin="round" stroke-linecap="round"/>
<path d="M530.14 80.9 530.14 80.62 530.46 83.86 530.65 86.15 530.77 86.77 531.16 88.59 531.66 89.92 532.17 89.44" fill="none" stroke="#e0dc20" stroke-width="0.9" stroke-linejoin="round" stroke-linecap="round"/>
<path d="M532.17 89.44 532.67 89.68 533.18 89.57 533.69 89.18 534.13 89.1 534.19 88.95 534.7 87.79 535.06 88.42" fill="none" stroke="#e0dc20" stroke-width="0.9" stroke-linejoin="round" stroke-linecap="round"/>
<path d="M532.17 89.19 532.67 88.97 533.18 90.39 533.69 89.56 534.13 89.77 534.19 89.83 534.7 89.3 535.06 89.14" fill="none" stroke="#34449a" stroke-width="0.9" stroke-linejoin="round" stroke-linecap="round"/>
<path d="M532.17 89.22 532.67 89.42 533.18 89.49 533.69 88.86 534.13 88.98 534.19 88.63 534.7 87.44 535.06 88.06" fill="none" stroke="#2a8a3a" stroke-width="0.9" stroke-linejoin="round" stroke-linecap="round"/>
<path d="M532.17 88.09 532.67 88.12 533.18 88.15 533.69 88.84 534.13 88.82 534.19 89.89 534.7 89.96 535.06 89.25" fill="none" stroke="#26a6a6" stroke-width="0.9" stroke-linejoin="round" stroke-linecap="round"/>
<path d="M535.06 89.14 535.2 89.16 535.71 88.72 536 88.04 536.22 88.72 536.72 88.58 536.93 87.63 537.23 87.95" fill="none" stroke="#34449a" stroke-width="0.9" stroke-linejoin="round" stroke-linecap="round"/>
<path d="M535.06 89.25 535.2 89.1 535.71 87.82 536 87.7 536.22 87.83 536.72 87.32 536.93 87.34 537.23 87.01" fill="none" stroke="#26a6a6" stroke-width="0.9" stroke-linejoin="round" stroke-linecap="round"/>
<path d="M535.06 88.06 535.2 88.69 535.71 88.98 536 89.46 536.22 88.96 536.72 88.37 536.93 87.77 537.23 88.05" fill="none" stroke="#2a8a3a" stroke-width="0.9" stroke-linejoin="round" stroke-linecap="round"/>
<path d="M535.06 88.42 535.2 88.69 535.71 88.55 536 89.44 536.22 88.45 536.72 87.98 536.93 88.6 537.23 88.56" fill="none" stroke="#e0dc20" stroke-width="0.9" stroke-linejoin="round" stroke-linecap="round"/>
<path d="M537.23 87.95 537.73 88.33 537.87 88.93 538.24 90.18 538.75 90.18 538.81 89.49 539.25 89.52 539.74 89.76" fill="none" stroke="#34449a" stroke-width="0.9" stroke-linejoin="round" stroke-linecap="round"/>
<path d="M537.23 87.01 537.73 86.85 537.87 86.96 538.24 87.42 538.75 88.47 538.81 89.09 539.25 89.47 539.74 89.92" fill="none" stroke="#26a6a6" stroke-width="0.9" stroke-linejoin="round" stroke-linecap="round"/>
<path d="M537.23 88.56 537.73 88.3 537.87 87.17 538.24 86.39 538.75 86.77 538.81 87.47 539.25 88.91 539.74 89.75" fill="none" stroke="#e0dc20" stroke-width="0.9" stroke-linejoin="round" stroke-linecap="round"/>
<path d="M537.23 88.05 537.73 88.67 537.87 89.01 538.24 89.32 538.75 89.34 538.81 88.92 539.25 89.48 539.74 89.96" fill="none" stroke="#2a8a3a" stroke-width="0.9" stroke-linejoin="round" stroke-linecap="round"/>
<path d="M539.74 89.76 539.76 90.27 540.26 90.23 540.77 90.24 541.28 90.07 541.78 90.36 542.29 90.86 542.79 91.19" fill="none" stroke="#34449a" stroke-width="0.9" stroke-linejoin="round" stroke-linecap="round"/>
<path d="M539.74 89.92 539.76 89.68 540.26 90.55 540.77 91.02 541.28 90.87 541.78 91.22 542.29 91.23 542.79 90.86" fill="none" stroke="#26a6a6" stroke-width="0.9" stroke-linejoin="round" stroke-linecap="round"/>
<path d="M539.74 89.96 539.76 89.23 540.26 89.59 540.77 89.73 541.28 89.99 541.78 91.07 542.29 90.97 542.79 89.55" fill="none" stroke="#2a8a3a" stroke-width="0.9" stroke-linejoin="round" stroke-linecap="round"/>
<path d="M539.74 89.75 539.76 89.03 540.26 89.46 540.77 89.95 541.28 89.98 541.78 90.51 542.29 90.24 542.79 90.16" fill="none" stroke="#e0dc20" stroke-width="0.9" stroke-linejoin="round" stroke-linecap="round"/>
<path d="M542.79 90.16 543.3 89.85" fill="none" stroke="#e0dc20" stroke-width="0.9" stroke-linejoin="round" stroke-linecap="round"/>
<path d="M542.79 90.86 543.3 90.95" fill="none" stroke="#26a6a6" stroke-width="0.9" stroke-linejoin="round" stroke-linecap="round"/>
<path d="M542.79 91.19 543.3 91.35" fill="none" stroke="#34449a" stroke-width="0.9" stroke-linejoin="round" stroke-linecap="round"/>
<path d="M542.79 89.55 543.3 88.63" fill="none" stroke="#2a8a3a" stroke-width="0.9" stroke-linejoin="round" stroke-linecap="round"/>
<path d="M387 12.8 L388.5 14.9 C389.4 15.8 389.3 17.1 388.2 17.1 C387.7 17.1 387.4 16.8 387.3 16.6 L387.6 17.5 L386.4 17.5 L386.7 16.6 C386.6 16.8 386.3 17.1 385.8 17.1 C384.7 17.1 384.6 15.8 385.5 14.9 Z" fill="#a01aaa"/>
<path d="M391.7 9.5 L393.2 11.6 C394.1 12.5 394 13.8 392.9 13.8 C392.4 13.8 392.1 13.5 392 13.3 L392.3 14.2 L391.1 14.2 L391.4 13.3 C391.3 13.5 391 13.8 390.5 13.8 C389.4 13.8 389.3 12.5 390.2 11.6 Z" fill="#a01aaa"/>
<path d="M389.2 19.8 L390.7 21.9 C391.6 22.8 391.5 24.1 390.4 24.1 C389.9 24.1 389.6 23.8 389.5 23.6 L389.8 24.5 L388.6 24.5 L388.9 23.6 C388.8 23.8 388.5 24.1 388 24.1 C386.9 24.1 386.8 22.8 387.7 21.9 Z" fill="#a01aaa"/>
<path d="M400.4 71.4 L401.9 73.5 C402.8 74.4 402.7 75.7 401.6 75.7 C401.1 75.7 400.8 75.4 400.7 75.2 L401 76.1 L399.8 76.1 L400.1 75.2 C400 75.4 399.7 75.7 399.2 75.7 C398.1 75.7 398 74.4 398.9 73.5 Z" fill="#a01aaa"/>
<path d="M407.7 68.4 L409.2 70.5 C410.1 71.4 410 72.7 408.9 72.7 C408.4 72.7 408.1 72.4 408 72.2 L408.3 73.1 L407.1 73.1 L407.4 72.2 C407.3 72.4 407 72.7 406.5 72.7 C405.4 72.7 405.3 71.4 406.2 70.5 Z" fill="#a01aaa"/>
<path d="M421.2 71.4 L422.7 73.5 C423.6 74.4 423.5 75.7 422.4 75.7 C421.9 75.7 421.6 75.4 421.5 75.2 L421.8 76.1 L420.6 76.1 L420.9 75.2 C420.8 75.4 420.5 75.7 420 75.7 C418.9 75.7 418.8 74.4 419.7 73.5 Z" fill="#a01aaa"/>
<path d="M423.6 62 L425.1 64.1 C426 65 425.9 66.3 424.8 66.3 C424.3 66.3 424 66 423.9 65.8 L424.2 66.7 L423 66.7 L423.3 65.8 C423.2 66 422.9 66.3 422.4 66.3 C421.3 66.3 421.2 65 422.1 64.1 Z" fill="#a01aaa"/>
<path d="M456.9 71.2 L458.4 73.3 C459.3 74.2 459.2 75.5 458.1 75.5 C457.6 75.5 457.3 75.2 457.2 75 L457.5 75.9 L456.3 75.9 L456.6 75 C456.5 75.2 456.2 75.5 455.7 75.5 C454.6 75.5 454.5 74.2 455.4 73.3 Z" fill="#a01aaa"/>
<path d="M466.8 77.7 L468.3 79.8 C469.2 80.7 469.1 82 468 82 C467.5 82 467.2 81.7 467.1 81.5 L467.4 82.4 L466.2 82.4 L466.5 81.5 C466.4 81.7 466.1 82 465.6 82 C464.5 82 464.4 80.7 465.3 79.8 Z" fill="#a01aaa"/>
<path d="M471 77.7 L472.5 79.8 C473.4 80.7 473.3 82 472.2 82 C471.7 82 471.4 81.7 471.3 81.5 L471.6 82.4 L470.4 82.4 L470.7 81.5 C470.6 81.7 470.3 82 469.8 82 C468.7 82 468.6 80.7 469.5 79.8 Z" fill="#a01aaa"/>
<path d="M475.8 74.9 L477.3 77 C478.2 77.9 478.1 79.2 477 79.2 C476.5 79.2 476.2 78.9 476.1 78.7 L476.4 79.6 L475.2 79.6 L475.5 78.7 C475.4 78.9 475.1 79.2 474.6 79.2 C473.5 79.2 473.4 77.9 474.3 77 Z" fill="#a01aaa"/>
<path d="M480.5 76.8 L482 78.9 C482.9 79.8 482.8 81.1 481.7 81.1 C481.2 81.1 480.9 80.8 480.8 80.6 L481.1 81.5 L479.9 81.5 L480.2 80.6 C480.1 80.8 479.8 81.1 479.3 81.1 C478.2 81.1 478.1 79.8 479 78.9 Z" fill="#a01aaa"/>
<path d="M506.5 74.4 L508 76.5 C508.9 77.4 508.8 78.7 507.7 78.7 C507.2 78.7 506.9 78.4 506.8 78.2 L507.1 79.1 L505.9 79.1 L506.2 78.2 C506.1 78.4 505.8 78.7 505.3 78.7 C504.2 78.7 504.1 77.4 505 76.5 Z" fill="#a01aaa"/>
<path d="M509.4 72.5 L510.9 74.6 C511.8 75.5 511.7 76.8 510.6 76.8 C510.1 76.8 509.8 76.5 509.7 76.3 L510 77.2 L508.8 77.2 L509.1 76.3 C509 76.5 508.7 76.8 508.2 76.8 C507.1 76.8 507 75.5 507.9 74.6 Z" fill="#a01aaa"/>
<g fill="#1a6e1a"><circle cx="396.3" cy="78.07" r="1.18"/><circle cx="395.01" cy="79.75" r="1.18"/><circle cx="397.59" cy="79.75" r="1.18"/><path d="M395.74 81.76 L396.86 81.76 L396.52 79.3 L396.08 79.3Z"/></g>
<g fill="#1a6e1a"><circle cx="415.3" cy="78.97" r="1.18"/><circle cx="414.01" cy="80.65" r="1.18"/><circle cx="416.59" cy="80.65" r="1.18"/><path d="M414.74 82.66 L415.86 82.66 L415.52 80.2 L415.08 80.2Z"/></g>
<g fill="#1a6e1a"><circle cx="425.5" cy="30.17" r="1.18"/><circle cx="424.21" cy="31.85" r="1.18"/><circle cx="426.79" cy="31.85" r="1.18"/><path d="M424.94 33.86 L426.06 33.86 L425.72 31.4 L425.28 31.4Z"/></g>
<g fill="#1a6e1a"><circle cx="431.9" cy="63.77" r="1.18"/><circle cx="430.61" cy="65.45" r="1.18"/><circle cx="433.19" cy="65.45" r="1.18"/><path d="M431.34 67.46 L432.46 67.46 L432.12 65 L431.68 65Z"/></g>
<g fill="#1a6e1a"><circle cx="450.4" cy="78.97" r="1.18"/><circle cx="449.11" cy="80.65" r="1.18"/><circle cx="451.69" cy="80.65" r="1.18"/><path d="M449.84 82.66 L450.96 82.66 L450.62 80.2 L450.18 80.2Z"/></g>
<g fill="#1a6e1a"><circle cx="460.9" cy="77.97" r="1.18"/><circle cx="459.61" cy="79.65" r="1.18"/><circle cx="462.19" cy="79.65" r="1.18"/><path d="M460.34 81.66 L461.46 81.66 L461.12 79.2 L460.68 79.2Z"/></g>
<g fill="#1a6e1a"><circle cx="486.4" cy="66.57" r="1.18"/><circle cx="485.11" cy="68.25" r="1.18"/><circle cx="487.69" cy="68.25" r="1.18"/><path d="M485.84 70.26 L486.96 70.26 L486.62 67.8 L486.18 67.8Z"/></g>
<g fill="#1a6e1a"><circle cx="491.6" cy="71.77" r="1.18"/><circle cx="490.31" cy="73.45" r="1.18"/><circle cx="492.89" cy="73.45" r="1.18"/><path d="M491.04 75.46 L492.16 75.46 L491.82 73 L491.38 73Z"/></g>
<g fill="#1a6e1a"><circle cx="523.6" cy="72.47" r="1.18"/><circle cx="522.31" cy="74.15" r="1.18"/><circle cx="524.89" cy="74.15" r="1.18"/><path d="M523.04 76.16 L524.16 76.16 L523.82 73.7 L523.38 73.7Z"/></g>
<g fill="#1a6e1a"><circle cx="530.2" cy="67.77" r="1.18"/><circle cx="528.91" cy="69.45" r="1.18"/><circle cx="531.49" cy="69.45" r="1.18"/><path d="M529.64 71.46 L530.76 71.46 L530.42 69 L529.98 69Z"/></g>
<path d="M374.8 178.7 375.4 178.3 376 178.25 376.6 178.11 377.2 178.52 377.8 178.42 378.4 178.39 379 178.27 379.6 178.69 380.2 178.17 380.8 178.02 381.4 178.4 382 178.26 382.6 177.69 383.2 176.61 383.8 175.65 384.4 171.68 384.71 160.33 384.88 146.13 385 131.25 385.05 126 385.22 113.87 385.38 125.15 385.55 143.54 385.6 148.33 385.72 156.29 386.06 158.23 386.2 150.36 386.22 148.68 386.39 133.91 386.56 125.96 386.73 135.28 386.8 141.85 386.9 150.32 387.06 161.91 387.4 170.34 388 170.99 388.41 158.45 388.58 143.21 388.6 140.18 388.74 121.56 388.91 109.73 389.08 122.11 389.2 138.01 389.25 143.77 389.42 159.18 389.8 172.29 390.4 176.36 391 176.85 391.6 177.38 392.2 177.82 392.8 177.85 393.4 177.99 394 178.25 394.6 178.49 395.2 177.4 395.8 176.82 396.04 175.23 396.24 172.47 396.4 169.43 396.44 168.68 396.64 166.85 396.84 168.66 397 171.73 397.04 172.51 397.24 175.28 397.6 177.23 398.2 178.24 398.8 178.19 399.4 178.32 400 178.3 400.6 178.05 401.2 178.06 401.8 177.89 402.4 177.9 403 176.19 403.16 174.76 403.36 172.1 403.56 168.1 403.6 166.8 403.76 166.02 403.96 167.98 404.17 172.02 404.2 172.92 404.37 175.05 404.8 177.28 405.4 178.6 406 177.99 406.6 178.32 407.2 178.6 407.8 178.15 408.4 178.4 409 178.53 409.6 179.04 410.2 178.21 410.8 178.41 411.4 178.58 412 178.42 412.6 178.08 413.2 178.45 413.8 178.33 414.4 178.36 415 178.44 415.6 178.28 416.2 177.92 416.8 177.51 417.4 176.27 418 172.65 418.06 171.85 418.31 166.3 418.56 159.06 418.6 157.83 418.82 154.98 419.07 158.87 419.2 161.72 419.32 164.79 419.52 167.84 419.57 168.64 419.79 168.67 419.8 168.54 420.06 166.28 420.33 164.63 420.4 164.5 420.6 166.49 420.87 168.53 421 169.17 421.13 168.44 421.25 167.18 421.5 160.29 421.6 156.95 421.76 150.14 422.01 144.75 422.2 148.46 422.26 150.9 422.51 161.44 422.76 169.38 422.8 169.43 423.4 175.89 424 176.67 424.6 177.84 425.2 177.22 425.8 177.19 425.96 176.73 426.21 176.76 426.4 175.18 426.46 175.27 426.71 174.47 426.96 174.85 427 175.38 427.22 176.65 427.47 177.3 427.6 177.87 428.2 178.06 428.8 178.29 429.4 178.26 430 178.49 430.6 178.91 431.2 178.54 431.8 178.52 432.4 178.33 433 178.3 433.6 178.87 434.2 178.23 434.8 178.28 435.4 178.49 436 178.41 436.6 179.01 437.2 177.93 437.8 178.62 438.4 178.7 439 178.25 439.6 178.36 440.2 178.63 440.8 178.92 441.4 178.28 442 178.11 442.6 178.73 443.2 178.85 443.8 178.35 444.4 177.82 445 178.64 445.6 178 446.2 177.54 446.47 176.14 446.74 173.98 446.8 173.34 447.01 171.61 447.28 169.96 447.4 169.47 447.54 171.01 447.81 174.52 448 175.54 448.08 175.81 448.6 177.74 449.2 178.14 449.8 178.29 450.4 178.27 451 178.36 451.6 178.34 452.2 178.55 452.8 178.26 453.4 178.39 454 178.4 454.6 178.71 455.2 178.29 455.52 177.82 455.78 177.43 455.8 177.33 456.03 176.82 456.28 176.23 456.4 176.65 456.53 176.84 456.78 177.2 457 177.54 457.04 177.92 457.6 177.87 457.71 177.57 457.96 176.61 458.2 175.69 458.21 176.2 458.46 175.79 458.72 176.31 458.8 176.08 458.97 177.23 459.22 177.44 459.4 177.88 459.72 177.87 459.98 177.23 460 177.23 460.23 176.38 460.48 176.37 460.6 176.24 460.73 177.06 460.98 177.54 461.2 178.13 461.24 178.03 461.8 178.13 462.4 178.43 463 178.23 463.6 178.42 464.2 178.16 464.8 177.02 464.93 176.79 465.18 175.35 465.4 173.56 465.44 173.58 465.69 172.63 465.94 173.25 466 173.72 466.19 174.74 466.44 176.71 466.6 177.16 467.2 177.42 467.8 178.07 468.4 177.71 468.63 176.79 468.88 175.69 469 174.78 469.13 174.34 469.38 172.82 469.6 173.85 469.64 174.64 469.89 175.8 470.14 177.09 470.2 177.13 470.8 177.68 471.4 178.08 472 178.15 472.6 177.65 473.2 177.63 473.8 176.72 474.19 174.01 474.4 170.4 474.46 169.53 474.73 163.93 475 161.37 475 161.25 475.26 164.15 475.53 168.63 475.6 169.55 475.7 171.05 475.8 171.88 476 172.27 476.2 172.16 476.31 171.89 476.61 171.16 476.8 171.56 476.91 172.04 477.21 174.7 477.4 175.9 477.52 176.31 478 177.44 478.6 177.82 479.2 178.35 479.8 178.26 480.4 178.36 481 178.12 481.6 178.23 482.2 178.43 482.8 178.13 483.4 178.05 484 178.24 484.6 178.54 485.2 178.09 485.8 177.58 485.93 176.71 486.18 175.24 486.4 173.29 486.44 173.21 486.69 172.56 486.94 173.35 487 173.9 487.19 175.31 487.44 176.43 487.6 176.8 488.12 176.54 488.2 176.36 488.37 175.43 488.62 173.72 488.8 172.73 488.87 172.41 489.12 173.56 489.38 175.14 489.4 175.77 489.63 176.1 490 177.34 490.6 177.71 490.8 176.42 491.06 174.84 491.2 174.05 491.31 173.54 491.56 172.06 491.8 173.26 491.81 173.21 492.06 174.97 492.32 177.19 492.4 176.71 493 177.12 493.6 176.01 493.83 174.86 494.11 171.82 494.2 170.7 494.4 167.56 494.68 164.74 494.8 165.7 494.97 167.49 495.26 171.73 495.4 173.19 495.54 174.76 496 176.91 496.6 177.85 497.2 177.77 497.8 178.28 498.4 178.38 499 178.12 499.6 178.28 500.2 178.24 500.8 178.7 501.4 177.85 502 178.4 502.6 178.08 503.2 178.39 503.8 178.7 504.4 178.32 505 178.49 505.6 178.2 506.2 178.8 506.8 178.16 506.85 178.16 507.18 176.98 507.4 176.55 507.52 176.82 507.86 176.05 508 176.13 508.19 176.62 508.53 176.99 508.6 177.64 508.86 177.86 509.2 178.27 509.8 178.16 510.4 178.49 511 178.17 511.6 178.51 512.2 178.3 512.56 177.81 512.8 177.19 512.9 176.96 513.23 175.06 513.4 175.49 513.57 175.03 513.9 175.7 514 175.9 514.24 176.33 514.58 177.24 514.6 177.58 515.2 177.96 515.58 176.9 515.8 176.21 515.92 176.34 516.26 174.25 516.4 174.43 516.59 173.61 516.93 174.29 517 175.1 517.26 176.5 517.6 176.85 518.2 178.45 518.8 178.23 519.4 178.77 520 178.35 520.6 178.09 521.2 178.63 521.8 178.75 522.4 179.06 523 178.97 523.6 178.72 524.2 178.49 524.8 178.42 525.4 178.48 526 178.35 526.6 178.49 527.2 177.92 527.8 178.61 528.4 178.55 529 179.2 529.6 178.74 530.2 178.43 530.8 178.68 531.4 178.21 532 178.33 532.6 177.93 533.14 178.54 533.2 178.3 533.56 177.55 533.8 177.56 533.98 177.61 534.4 177.22 534.82 177.47 535 177.36 535.24 177.68 535.6 178.17 535.66 178.42 536.2 178.2 536.8 178.21 537.4 178.81 538 178.31 538.6 178.82 539.2 178.62 539.8 178.79 540.4 179.01 541 178.75 541.6 178.77 542.2 178.35 542.8 178.41" fill="none" stroke="#a41cb8" stroke-width="1.1" stroke-linejoin="round" />
<text transform="translate(383.6,105.2) rotate(-90)" font-size="5.6" fill="#8a22a8" font-weight="normal" text-anchor="middle" dominant-baseline="central" >(002)</text>
<text transform="translate(387.5,104.8) rotate(-90)" font-size="5.6" fill="#8a22a8" font-weight="normal" text-anchor="middle" dominant-baseline="central" >(020)</text>
<text transform="translate(391.4,102.5) rotate(-90)" font-size="5.6" fill="#8a22a8" font-weight="normal" text-anchor="middle" dominant-baseline="central" >(200)</text>
<text transform="translate(397,158.2) rotate(-90)" font-size="5.6" fill="#8a22a8" font-weight="normal" text-anchor="middle" dominant-baseline="central" >(120)</text>
<text transform="translate(403.8,157.7) rotate(-90)" font-size="5.6" fill="#8a22a8" font-weight="normal" text-anchor="middle" dominant-baseline="central" >(112)</text>
<text transform="translate(417.4,146.6) rotate(-90)" font-size="5.6" fill="#8a22a8" font-weight="normal" text-anchor="middle" dominant-baseline="central" >(022)</text>
<text transform="translate(420.1,145) rotate(-90)" font-size="5.6" fill="#8a22a8" font-weight="normal" text-anchor="middle" dominant-baseline="central" >(202)</text>
<text transform="translate(423.4,137.4) rotate(-90)" font-size="5.6" fill="#8a22a8" font-weight="normal" text-anchor="middle" dominant-baseline="central" >(220)</text>
<text transform="translate(447.7,158.8) rotate(-90)" font-size="5.6" fill="#8a22a8" font-weight="normal" text-anchor="middle" dominant-baseline="central" >(222)</text>
<text transform="translate(475.5,153.3) rotate(-90)" font-size="5.6" fill="#8a22a8" font-weight="normal" text-anchor="middle" dominant-baseline="central" >(232)</text>
<text transform="translate(495.2,156.4) rotate(-90)" font-size="5.6" fill="#8a22a8" font-weight="normal" text-anchor="middle" dominant-baseline="central" >(114)</text>
<path d="M374.8 260.55 375.41 261.24 376.01 261.1 376.62 261.81 377.22 260.18 377.83 260.08 378.44 260.71 379.04 259.92 379.65 259.85 380.26 259.07 380.86 260.72 381.47 259.09 382.07 260.38 382.68 258.87 383.29 260.92 383.89 259.26 384.5 260.81 385.1 258.92 385.71 259.89 386.32 261.24 386.92 259.71 387.53 260.46 388.13 260.08 388.74 258.67 389.35 260.82 389.95 260.96 390.56 259.78 391.17 261.16 391.77 260.1 392.38 259.96 392.98 260.77 393.59 260.15 394.14 261.4 394.2 257.93 394.31 258.76 394.48 257.17 394.65 253.85 394.8 254.89 394.81 256.84 394.98 257.81 395.15 259.92 395.41 261.46 396.01 260.58 396.62 260.1 397.23 258.81 397.83 261.19 398.44 260.31 399.04 261.32 399.65 261.28 400.26 260 400.86 262.5 401.47 262 402.08 261.83 402.68 260.22 403.29 260.85 403.89 260.76 404.5 260.87 405.11 260.32 405.71 261.58 406.32 261.43 406.92 261.55 407.53 260.86 408.14 262.31 408.74 261.44 409.35 259.11 409.95 260.8 410.56 261.27 411.17 262.1 411.77 261.09 412.38 261.13 412.99 260.78 413.59 261.73 413.93 260.31 414.12 259.42 414.2 258.89 414.3 259.38 414.49 258 414.68 257.6 414.8 260.1 414.87 259.36 415.05 260.97 415.41 261.53 416.02 262.33 416.62 262.23 417.23 260.96 417.83 261.3 418.44 260.4 419.05 262.78 419.65 261.79 420.26 262.55 420.86 261.16 421.47 259.74 422.08 262.55 422.68 261.29 423.29 261.09 423.9 260.46 424.5 258.59 424.87 243.97 425.03 223.36 425.11 213.95 425.19 200.05 425.35 187.28 425.51 201.86 425.67 225.38 425.71 230.67 425.83 242.07 426.32 259.17 426.93 261.06 427.53 261.04 428.14 260.32 428.74 260.78 429.35 260.45 429.96 261.63 430.56 262.05 431.17 262.03 431.77 259.99 432.36 252.29 432.38 251.58 432.52 241.61 432.68 229.03 432.84 224.01 432.99 228.51 433 229.86 433.16 241.69 433.32 252.17 433.59 257.8 434.2 261.06 434.81 262.42 435.41 263.3 436.02 262.67 436.62 262.32 437.23 261.85 437.84 261.36 438.44 261.73 439.05 262.37 439.65 261.27 440.26 262.67 440.87 261.15 441.47 260.53 442.08 261.16 442.68 260.65 443.29 260.9 443.9 262.91 444.5 261.86 445.11 262.2 445.72 262.97 446.32 263.05 446.93 261.65 447.53 263.11 448.14 262.34 448.75 261.97 449.35 262.13 449.93 258.2 449.96 258.36 450.1 256.32 450.27 253.15 450.44 250.38 450.56 251.77 450.61 253.45 450.77 257.55 450.94 259.98 451.17 262.21 451.78 261.62 452.38 261.84 452.99 262.4 453.59 261.94 454.2 261.8 454.81 263.54 455.41 262.07 456.02 261.47 456.63 262.63 457.23 263.7 457.84 262.24 458.44 262.96 458.92 259.79 459.05 258.06 459.09 257.3 459.26 254.8 459.42 254.83 459.59 254 459.66 257.32 459.76 257.06 459.93 259.98 460.26 262.52 460.87 262.72 461.47 262.54 462.08 261.04 462.69 262.68 463.29 261.59 463.9 264.48 464.51 262.27 465.11 262.61 465.72 261.56 466.32 262.1 466.93 261.47 467.54 263.29 468.14 262.31 468.75 262.98 469.35 261.98 469.96 262.12 470.57 263.51 471.17 261.12 471.22 260.3 471.41 261.18 471.59 258.81 471.78 258.77 471.78 259.85 471.97 259.07 472.16 261.58 472.34 261.22 472.38 263.1 472.99 263.59 473.6 262.22 474.2 262.46 474.81 261.99 475.42 262.83 476.02 263.6 476.63 261.54 477.23 263.45 477.84 261.66 478.45 262.05 479.05 261.31 479.66 264.44 480.26 262.81 480.87 262.96 481.48 262.22 482.08 263.61 482.69 261.05 483.29 262.69 483.9 264.25 484.51 261.12 484.76 258.37 484.92 254.18 485.09 246.95 485.11 246.97 485.26 245.17 485.43 247.76 485.6 253.95 485.72 257 485.77 258.63 486.33 262.34 486.93 263.81 487.54 263.31 488.07 262.2 488.14 260.27 488.26 262.48 488.44 261.9 488.63 260.24 488.75 259.52 488.82 260.4 489.01 262.7 489.19 261.61 489.36 262.33 489.96 263.09 490.57 263.93 491.17 262.97 491.78 262.92 492.39 262.58 492.99 264.34 493.6 263.89 494.2 262.97 494.81 261.88 495.18 262.1 495.37 262.82 495.42 261.66 495.56 262.59 495.75 261.91 495.93 262.12 496.02 262.64 496.12 262.77 496.31 262.07 496.63 262.76 497.24 264.98 497.84 262.17 498.45 262.77 499.05 264.02 499.66 263.06 500.27 262.55 500.87 262.15 501.48 263.65 502.08 264.04 502.69 264.35 503.3 263.28 503.9 264.06 504.51 262.35 505.11 262.99 505.35 261.43 505.52 260.71 505.69 259.38 505.72 259.32 505.86 257.04 506.02 259.8 506.19 260.2 506.33 260.94 506.36 261.85 506.93 262 507.54 263.29 508.15 263.56 508.75 263.19 509.36 263.8 509.96 263.14 510.57 263.41 511.18 262.27 511.78 263.46 512.39 262.76 512.99 263.08 513.6 263.37 514.21 263.56 514.75 261.82 514.81 261.82 515.03 262.52 515.31 262.66 515.42 262.42 515.59 262.75 515.87 263.34 516.02 262.96 516.15 262.77 516.43 262.35 516.63 262.58 517.24 263.12 517.84 263.75 518.45 263.73 519.06 263.57 519.66 263.46 520.27 264.1 520.87 263.77 521.48 263.84 522.09 263.84 522.69 263.14 523.3 262.67 523.9 263.24 524.07 262.18 524.24 259.77 524.41 257.18 524.51 258.27 524.58 255.61 524.75 257.34 524.91 260.16 525.08 260.93 525.12 262.21 525.72 264.9 526.33 264.31 526.93 264.07 527.54 263.94 528.15 263.23 528.75 259.42 528.75 258.52 528.92 252.96 529.09 246.53 529.26 243.54 529.36 244.51 529.43 247 529.6 251.7 529.76 259.64 529.97 263.68 530.57 264.44 531.18 263.37 531.78 263.05 532.39 264.01 533 263.03 533.6 264.43 534.21 263.44 534.81 264.65 535.42 264.97 536.03 262.25 536.63 264.05 537.22 262.8 537.24 262.19 537.5 262.24 537.78 261.75 537.84 262.58 538.06 260.28 538.34 262.78 538.45 263.88 538.62 263.23 538.9 263.84 539.06 263.61 539.66 262.98 540.27 264.41 540.88 264.32 541.48 264.63 542.09 266.12 542.69 264.66 543.3 264.43" fill="none" stroke="#128a12" stroke-width="1.5" stroke-linejoin="round" />
<text transform="translate(396,247.8) rotate(-90)" font-size="5.6" fill="#1a6a1a" font-weight="normal" text-anchor="middle" dominant-baseline="central" >(220)</text>
<text transform="translate(414.4,250.9) rotate(-90)" font-size="5.6" fill="#1a6a1a" font-weight="normal" text-anchor="middle" dominant-baseline="central" >(311)</text>
<text transform="translate(429,188) rotate(-90)" font-size="5.6" fill="#1a6a1a" font-weight="normal" text-anchor="middle" dominant-baseline="central" >(320)</text>
<text transform="translate(433.6,213) rotate(-90)" font-size="5.6" fill="#1a6a1a" font-weight="normal" text-anchor="middle" dominant-baseline="central" >(222)</text>
<text transform="translate(450.6,243.4) rotate(-90)" font-size="5.6" fill="#1a6a1a" font-weight="normal" text-anchor="middle" dominant-baseline="central" >(400)</text>
<text transform="translate(460.2,244) rotate(-90)" font-size="5.6" fill="#1a6a1a" font-weight="normal" text-anchor="middle" dominant-baseline="central" >(510)</text>
<text transform="translate(485.7,235.7) rotate(-90)" font-size="5.6" fill="#1a6a1a" font-weight="normal" text-anchor="middle" dominant-baseline="central" >(421)</text>
<text transform="translate(506,249.6) rotate(-90)" font-size="5.6" fill="#1a6a1a" font-weight="normal" text-anchor="middle" dominant-baseline="central" >(600)</text>
<text transform="translate(524.3,248.2) rotate(-90)" font-size="5.6" fill="#1a6a1a" font-weight="normal" text-anchor="middle" dominant-baseline="central" >(533)</text>
<text transform="translate(528.9,235.2) rotate(-90)" font-size="5.6" fill="#1a6a1a" font-weight="normal" text-anchor="middle" dominant-baseline="central" >(440)</text>
<rect x="374.8" y="1.7" width="168.5" height="268.3" fill="none" stroke="#1c1c1c" stroke-width="1.25"/>
<line x1="374.8" y1="270" x2="374.8" y2="272.2" stroke="#1a1a1a" stroke-width="1.0" />
<text x="374.8" y="281.1" font-size="7.5" fill="#111" font-weight="bold" text-anchor="middle" >20</text>
<line x1="384.16" y1="270" x2="384.16" y2="271.3" stroke="#1a1a1a" stroke-width="0.8" />
<line x1="393.52" y1="270" x2="393.52" y2="272.2" stroke="#1a1a1a" stroke-width="1.0" />
<text x="393.52" y="281.1" font-size="7.5" fill="#111" font-weight="bold" text-anchor="middle" >25</text>
<line x1="402.88" y1="270" x2="402.88" y2="271.3" stroke="#1a1a1a" stroke-width="0.8" />
<line x1="412.24" y1="270" x2="412.24" y2="272.2" stroke="#1a1a1a" stroke-width="1.0" />
<text x="412.24" y="281.1" font-size="7.5" fill="#111" font-weight="bold" text-anchor="middle" >30</text>
<line x1="421.61" y1="270" x2="421.61" y2="271.3" stroke="#1a1a1a" stroke-width="0.8" />
<line x1="430.97" y1="270" x2="430.97" y2="272.2" stroke="#1a1a1a" stroke-width="1.0" />
<text x="430.97" y="281.1" font-size="7.5" fill="#111" font-weight="bold" text-anchor="middle" >35</text>
<line x1="440.33" y1="270" x2="440.33" y2="271.3" stroke="#1a1a1a" stroke-width="0.8" />
<line x1="449.69" y1="270" x2="449.69" y2="272.2" stroke="#1a1a1a" stroke-width="1.0" />
<text x="449.69" y="281.1" font-size="7.5" fill="#111" font-weight="bold" text-anchor="middle" >40</text>
<line x1="459.05" y1="270" x2="459.05" y2="271.3" stroke="#1a1a1a" stroke-width="0.8" />
<line x1="468.41" y1="270" x2="468.41" y2="272.2" stroke="#1a1a1a" stroke-width="1.0" />
<text x="468.41" y="281.1" font-size="7.5" fill="#111" font-weight="bold" text-anchor="middle" >45</text>
<line x1="477.77" y1="270" x2="477.77" y2="271.3" stroke="#1a1a1a" stroke-width="0.8" />
<line x1="487.13" y1="270" x2="487.13" y2="272.2" stroke="#1a1a1a" stroke-width="1.0" />
<text x="487.13" y="281.1" font-size="7.5" fill="#111" font-weight="bold" text-anchor="middle" >50</text>
<line x1="496.49" y1="270" x2="496.49" y2="271.3" stroke="#1a1a1a" stroke-width="0.8" />
<line x1="505.86" y1="270" x2="505.86" y2="272.2" stroke="#1a1a1a" stroke-width="1.0" />
<text x="505.86" y="281.1" font-size="7.5" fill="#111" font-weight="bold" text-anchor="middle" >55</text>
<line x1="515.22" y1="270" x2="515.22" y2="271.3" stroke="#1a1a1a" stroke-width="0.8" />
<line x1="524.58" y1="270" x2="524.58" y2="272.2" stroke="#1a1a1a" stroke-width="1.0" />
<text x="524.58" y="281.1" font-size="7.5" fill="#111" font-weight="bold" text-anchor="middle" >60</text>
<line x1="533.94" y1="270" x2="533.94" y2="271.3" stroke="#1a1a1a" stroke-width="0.8" />
<line x1="543.3" y1="270" x2="543.3" y2="272.2" stroke="#1a1a1a" stroke-width="1.0" />
<text x="543.3" y="281.1" font-size="7.5" fill="#111" font-weight="bold" text-anchor="middle" >65</text>
<line x1="373.5" y1="258.82" x2="374.8" y2="258.82" stroke="#1a1a1a" stroke-width="0.8" />
<line x1="372.6" y1="247.64" x2="374.8" y2="247.64" stroke="#1a1a1a" stroke-width="0.9" />
<line x1="373.5" y1="236.46" x2="374.8" y2="236.46" stroke="#1a1a1a" stroke-width="0.8" />
<line x1="372.6" y1="225.28" x2="374.8" y2="225.28" stroke="#1a1a1a" stroke-width="0.9" />
<line x1="373.5" y1="214.1" x2="374.8" y2="214.1" stroke="#1a1a1a" stroke-width="0.8" />
<line x1="372.6" y1="202.92" x2="374.8" y2="202.92" stroke="#1a1a1a" stroke-width="0.9" />
<line x1="373.5" y1="191.74" x2="374.8" y2="191.74" stroke="#1a1a1a" stroke-width="0.8" />
<line x1="372.6" y1="180.56" x2="374.8" y2="180.56" stroke="#1a1a1a" stroke-width="0.9" />
<line x1="373.5" y1="169.38" x2="374.8" y2="169.38" stroke="#1a1a1a" stroke-width="0.8" />
<line x1="372.6" y1="158.2" x2="374.8" y2="158.2" stroke="#1a1a1a" stroke-width="0.9" />
<line x1="373.5" y1="147.02" x2="374.8" y2="147.02" stroke="#1a1a1a" stroke-width="0.8" />
<line x1="372.6" y1="135.84" x2="374.8" y2="135.84" stroke="#1a1a1a" stroke-width="0.9" />
<line x1="373.5" y1="124.66" x2="374.8" y2="124.66" stroke="#1a1a1a" stroke-width="0.8" />
<line x1="372.6" y1="113.48" x2="374.8" y2="113.48" stroke="#1a1a1a" stroke-width="0.9" />
<line x1="373.5" y1="102.3" x2="374.8" y2="102.3" stroke="#1a1a1a" stroke-width="0.8" />
<line x1="372.6" y1="91.12" x2="374.8" y2="91.12" stroke="#1a1a1a" stroke-width="0.9" />
<line x1="373.5" y1="79.94" x2="374.8" y2="79.94" stroke="#1a1a1a" stroke-width="0.8" />
<line x1="372.6" y1="68.76" x2="374.8" y2="68.76" stroke="#1a1a1a" stroke-width="0.9" />
<line x1="373.5" y1="57.58" x2="374.8" y2="57.58" stroke="#1a1a1a" stroke-width="0.8" />
<line x1="372.6" y1="46.4" x2="374.8" y2="46.4" stroke="#1a1a1a" stroke-width="0.9" />
<line x1="373.5" y1="35.22" x2="374.8" y2="35.22" stroke="#1a1a1a" stroke-width="0.8" />
<line x1="372.6" y1="24.04" x2="374.8" y2="24.04" stroke="#1a1a1a" stroke-width="0.9" />
<line x1="373.5" y1="12.86" x2="374.8" y2="12.86" stroke="#1a1a1a" stroke-width="0.8" />
<text x="460.9" y="291.9" font-size="8" fill="#111" font-weight="bold" text-anchor="middle" >2&#952; (degree)</text>
<text transform="translate(360.6,134.2) rotate(-90)" font-size="9.0" fill="#111" font-weight="bold" text-anchor="middle" dominant-baseline="central" >Intensity (a.u)</text>
<rect x="358.7" y="2.2" width="14.9" height="11.4" fill="#c8c0cc" opacity="0.55"/>
<rect x="358.1" y="1.4" width="14.9" height="11.4" fill="url(#gp)"/>
<text x="365.55" y="9.8" font-size="8" fill="#f0e8f4" text-anchor="middle">(e)</text>
<rect x="506.9" y="15.1" width="32.3" height="11.5" fill="#c8c0cc" opacity="0.55"/>
<rect x="505.5" y="13.5" width="33.9" height="13.1" fill="none" stroke="#e6e6e6" stroke-width="0.8"/>
<rect x="506.3" y="14.3" width="32.3" height="11.5" fill="#0c840c"/>
<text x="522.45" y="22.75" font-size="8" fill="#e4f4e0" text-anchor="middle">CaFe<tspan font-size="5.5" dy="1.5">2</tspan><tspan dy="-1.5">O</tspan><tspan font-size="5.5" dy="1.5">4</tspan></text>
<rect x="514.2" y="29.8" width="21.7" height="11.8" fill="#c8c0cc" opacity="0.55"/>
<rect x="512.8" y="28.2" width="23.3" height="13.4" fill="none" stroke="#e6e6e6" stroke-width="0.8"/>
<rect x="513.6" y="29" width="21.7" height="11.8" fill="#6c1ea6"/>
<text x="524.45" y="37.6" font-size="8" fill="#f0e8f4" text-anchor="middle">WO<tspan font-size="5.5" dy="1.5">3</tspan></text>
<rect x="520.8" y="128.2" width="21.5" height="11.9" fill="#c8c0cc" opacity="0.55"/>
<rect x="519.4" y="126.6" width="23.1" height="13.5" fill="none" stroke="#e6e6e6" stroke-width="0.8"/>
<rect x="520.2" y="127.4" width="21.5" height="11.9" fill="#6c1ea6"/>
<text x="530.95" y="136.05" font-size="8" fill="#f0e8f4" text-anchor="middle">WO<tspan font-size="5.5" dy="1.5">3</tspan></text>
<rect x="509.5" y="207.8" width="32.9" height="11.8" fill="#c8c0cc" opacity="0.55"/>
<rect x="508.1" y="206.2" width="34.5" height="13.4" fill="none" stroke="#e6e6e6" stroke-width="0.8"/>
<rect x="508.9" y="207" width="32.9" height="11.8" fill="#0c840c"/>
<text x="525.35" y="215.6" font-size="8" fill="#e4f4e0" text-anchor="middle">CaFe<tspan font-size="5.5" dy="1.5">2</tspan><tspan dy="-1.5">O</tspan><tspan font-size="5.5" dy="1.5">4</tspan></text>
<rect x="467.2" y="24.9" width="7.6" height="22.8" fill="none" stroke="#f4f4f4" stroke-width="0.8"/>
<line x1="467.2" y1="32.5" x2="474.8" y2="32.5" stroke="#f5f5f5" stroke-width="0.7" />
<line x1="467.2" y1="40.1" x2="474.8" y2="40.1" stroke="#f5f5f5" stroke-width="0.7" />
<rect x="480.9" y="40.9" width="7.6" height="13.7" fill="none" stroke="#f4f4f4" stroke-width="0.8"/>
<line x1="480.9" y1="47.75" x2="488.5" y2="47.75" stroke="#f5f5f5" stroke-width="0.7" />
<rect x="516.6" y="45.4" width="6.1" height="10.7" fill="none" stroke="#f4f4f4" stroke-width="0.8"/>
<circle cx="119.6" cy="152.6" r="2.0" fill="none" stroke="#f7a550" stroke-width="1.05"/>
<text x="128.4" y="155.5" font-size="7.3" fill="#111" font-weight="bold" text-anchor="start" textLength="16.6" lengthAdjust="spacingAndGlyphs" stroke="#111" stroke-width="0.2">Y obs</text>
<line x1="112" y1="161.4" x2="126.8" y2="161.4" stroke="#9a2ab8" stroke-width="1.3" />
<text x="128.4" y="164.2" font-size="7.3" fill="#111" font-weight="bold" text-anchor="start" textLength="17.8" lengthAdjust="spacingAndGlyphs" stroke="#111" stroke-width="0.2">Y calc</text>
<line x1="112" y1="170" x2="126.8" y2="170" stroke="#d8a0a0" stroke-width="1.0" />
<text x="128.4" y="172.7" font-size="7.3" fill="#111" font-weight="bold" text-anchor="start" textLength="36.9" lengthAdjust="spacingAndGlyphs" stroke="#111" stroke-width="0.2">Y obs-Y calc</text>
<line x1="119.6" y1="175.9" x2="119.6" y2="181.3" stroke="#a070ff" stroke-width="0.9" />
<text x="128.4" y="181.2" font-size="7.3" fill="#111" font-weight="bold" text-anchor="start" textLength="44.5" lengthAdjust="spacingAndGlyphs" stroke="#111" stroke-width="0.2">Bragg_position</text>
<circle cx="292.5" cy="154.1" r="2.3" fill="none" stroke="#a444f4" stroke-width="1.1"/>
<text x="301.6" y="157.2" font-size="7.3" fill="#111" font-weight="bold" text-anchor="start" textLength="16.6" lengthAdjust="spacingAndGlyphs" stroke="#111" stroke-width="0.2">Y obs</text>
<line x1="285.3" y1="162.3" x2="300.3" y2="162.3" stroke="#2a7a2a" stroke-width="1.4" />
<text x="301.6" y="165.6" font-size="7.3" fill="#111" font-weight="bold" text-anchor="start" textLength="17.8" lengthAdjust="spacingAndGlyphs" stroke="#111" stroke-width="0.2">Y calc</text>
<line x1="285.3" y1="171.2" x2="300" y2="171.2" stroke="#ff9cff" stroke-width="1.1" />
<text x="301.6" y="174.4" font-size="7.3" fill="#111" font-weight="bold" text-anchor="start" textLength="36.9" lengthAdjust="spacingAndGlyphs" stroke="#111" stroke-width="0.2">Y obs-Y calc</text>
<line x1="292.8" y1="176.4" x2="292.8" y2="183.3" stroke="#2a9a9a" stroke-width="1.0" />
<text x="301.6" y="182.2" font-size="7.3" fill="#111" font-weight="bold" text-anchor="start" textLength="44.5" lengthAdjust="spacingAndGlyphs" stroke="#111" stroke-width="0.2">Bragg_position</text>
<line x1="24.45" y1="237.2" x2="24.45" y2="240" stroke="#8440f8" stroke-width="0.85" />
<line x1="32.41" y1="237.2" x2="32.41" y2="240" stroke="#8440f8" stroke-width="0.85" />
<line x1="33.83" y1="237.2" x2="33.83" y2="240" stroke="#8440f8" stroke-width="0.85" />
<line x1="36.22" y1="237.2" x2="36.22" y2="240" stroke="#8440f8" stroke-width="0.85" />
<line x1="41.13" y1="237.2" x2="41.13" y2="240" stroke="#8440f8" stroke-width="0.85" />
<line x1="41.67" y1="237.2" x2="41.67" y2="240" stroke="#8440f8" stroke-width="0.85" />
<line x1="42.09" y1="237.2" x2="42.09" y2="240" stroke="#8440f8" stroke-width="0.85" />
<line x1="42.94" y1="237.2" x2="42.94" y2="240" stroke="#8440f8" stroke-width="0.85" />
<line x1="44.24" y1="237.2" x2="44.24" y2="240" stroke="#8440f8" stroke-width="0.85" />
<line x1="44.55" y1="237.2" x2="44.55" y2="240" stroke="#8440f8" stroke-width="0.85" />
<line x1="49.54" y1="237.2" x2="49.54" y2="240" stroke="#8440f8" stroke-width="0.85" />
<line x1="50.39" y1="237.2" x2="50.39" y2="240" stroke="#8440f8" stroke-width="0.85" />
<line x1="51.87" y1="237.2" x2="51.87" y2="240" stroke="#8440f8" stroke-width="0.85" />
<line x1="63.12" y1="237.2" x2="63.12" y2="240" stroke="#8440f8" stroke-width="0.85" />
<line x1="64.85" y1="237.2" x2="64.85" y2="240" stroke="#8440f8" stroke-width="0.85" />
<line x1="65.85" y1="237.2" x2="65.85" y2="240" stroke="#8440f8" stroke-width="0.85" />
<line x1="68.33" y1="237.2" x2="68.33" y2="240" stroke="#8440f8" stroke-width="0.85" />
<line x1="69.93" y1="237.2" x2="69.93" y2="240" stroke="#8440f8" stroke-width="0.85" />
<line x1="71.2" y1="237.2" x2="71.2" y2="240" stroke="#8440f8" stroke-width="0.85" />
<line x1="71.9" y1="237.2" x2="71.9" y2="240" stroke="#8440f8" stroke-width="0.85" />
<line x1="74.17" y1="237.2" x2="74.17" y2="240" stroke="#8440f8" stroke-width="0.85" />
<line x1="74.47" y1="237.2" x2="74.47" y2="240" stroke="#8440f8" stroke-width="0.85" />
<line x1="74.87" y1="237.2" x2="74.87" y2="240" stroke="#8440f8" stroke-width="0.85" />
<line x1="76.32" y1="237.2" x2="76.32" y2="240" stroke="#8440f8" stroke-width="0.85" />
<line x1="76.95" y1="237.2" x2="76.95" y2="240" stroke="#8440f8" stroke-width="0.85" />
<line x1="79.83" y1="237.2" x2="79.83" y2="240" stroke="#8440f8" stroke-width="0.85" />
<line x1="80.07" y1="237.2" x2="80.07" y2="240" stroke="#8440f8" stroke-width="0.85" />
<line x1="80.74" y1="237.2" x2="80.74" y2="240" stroke="#8440f8" stroke-width="0.85" />
<line x1="82.49" y1="237.2" x2="82.49" y2="240" stroke="#8440f8" stroke-width="0.85" />
<line x1="85.52" y1="237.2" x2="85.52" y2="240" stroke="#8440f8" stroke-width="0.85" />
<line x1="88.54" y1="237.2" x2="88.54" y2="240" stroke="#8440f8" stroke-width="0.85" />
<line x1="91.45" y1="237.2" x2="91.45" y2="240" stroke="#8440f8" stroke-width="0.85" />
<line x1="92.48" y1="237.2" x2="92.48" y2="240" stroke="#8440f8" stroke-width="0.85" />
<line x1="92.87" y1="237.2" x2="92.87" y2="240" stroke="#8440f8" stroke-width="0.85" />
<line x1="94.69" y1="237.2" x2="94.69" y2="240" stroke="#8440f8" stroke-width="0.85" />
<line x1="95.62" y1="237.2" x2="95.62" y2="240" stroke="#8440f8" stroke-width="0.85" />
<line x1="96.44" y1="237.2" x2="96.44" y2="240" stroke="#8440f8" stroke-width="0.85" />
<line x1="97.05" y1="237.2" x2="97.05" y2="240" stroke="#8440f8" stroke-width="0.85" />
<line x1="98.04" y1="237.2" x2="98.04" y2="240" stroke="#8440f8" stroke-width="0.85" />
<line x1="98.08" y1="237.2" x2="98.08" y2="240" stroke="#8440f8" stroke-width="0.85" />
<line x1="99.65" y1="237.2" x2="99.65" y2="240" stroke="#8440f8" stroke-width="0.85" />
<line x1="100.77" y1="237.2" x2="100.77" y2="240" stroke="#8440f8" stroke-width="0.85" />
<line x1="101.34" y1="237.2" x2="101.34" y2="240" stroke="#8440f8" stroke-width="0.85" />
<line x1="105.43" y1="237.2" x2="105.43" y2="240" stroke="#8440f8" stroke-width="0.85" />
<line x1="108.45" y1="237.2" x2="108.45" y2="240" stroke="#8440f8" stroke-width="0.85" />
<line x1="110.3" y1="237.2" x2="110.3" y2="240" stroke="#8440f8" stroke-width="0.85" />
<line x1="110.63" y1="237.2" x2="110.63" y2="240" stroke="#8440f8" stroke-width="0.85" />
<line x1="112.87" y1="237.2" x2="112.87" y2="240" stroke="#8440f8" stroke-width="0.85" />
<line x1="113.05" y1="237.2" x2="113.05" y2="240" stroke="#8440f8" stroke-width="0.85" />
<line x1="113.57" y1="237.2" x2="113.57" y2="240" stroke="#8440f8" stroke-width="0.85" />
<line x1="113.78" y1="237.2" x2="113.78" y2="240" stroke="#8440f8" stroke-width="0.85" />
<line x1="115.35" y1="237.2" x2="115.35" y2="240" stroke="#8440f8" stroke-width="0.85" />
<line x1="116.32" y1="237.2" x2="116.32" y2="240" stroke="#8440f8" stroke-width="0.85" />
<line x1="118.05" y1="237.2" x2="118.05" y2="240" stroke="#8440f8" stroke-width="0.85" />
<line x1="118.08" y1="237.2" x2="118.08" y2="240" stroke="#8440f8" stroke-width="0.85" />
<line x1="118.26" y1="237.2" x2="118.26" y2="240" stroke="#8440f8" stroke-width="0.85" />
<line x1="119.11" y1="237.2" x2="119.11" y2="240" stroke="#8440f8" stroke-width="0.85" />
<line x1="120.71" y1="237.2" x2="120.71" y2="240" stroke="#8440f8" stroke-width="0.85" />
<line x1="121.22" y1="237.2" x2="121.22" y2="240" stroke="#8440f8" stroke-width="0.85" />
<line x1="122.65" y1="237.2" x2="122.65" y2="240" stroke="#8440f8" stroke-width="0.85" />
<line x1="123.68" y1="237.2" x2="123.68" y2="240" stroke="#8440f8" stroke-width="0.85" />
<line x1="124.25" y1="237.2" x2="124.25" y2="240" stroke="#8440f8" stroke-width="0.85" />
<line x1="125.07" y1="237.2" x2="125.07" y2="240" stroke="#8440f8" stroke-width="0.85" />
<line x1="125.43" y1="237.2" x2="125.43" y2="240" stroke="#8440f8" stroke-width="0.85" />
<line x1="126.31" y1="237.2" x2="126.31" y2="240" stroke="#8440f8" stroke-width="0.85" />
<line x1="128.18" y1="237.2" x2="128.18" y2="240" stroke="#8440f8" stroke-width="0.85" />
<line x1="129" y1="237.2" x2="129" y2="240" stroke="#8440f8" stroke-width="0.85" />
<line x1="129.88" y1="237.2" x2="129.88" y2="240" stroke="#8440f8" stroke-width="0.85" />
<line x1="131.03" y1="237.2" x2="131.03" y2="240" stroke="#8440f8" stroke-width="0.85" />
<line x1="131.06" y1="237.2" x2="131.06" y2="240" stroke="#8440f8" stroke-width="0.85" />
<line x1="131.72" y1="237.2" x2="131.72" y2="240" stroke="#8440f8" stroke-width="0.85" />
<line x1="132.42" y1="237.2" x2="132.42" y2="240" stroke="#8440f8" stroke-width="0.85" />
<line x1="135.39" y1="237.2" x2="135.39" y2="240" stroke="#8440f8" stroke-width="0.85" />
<line x1="135.42" y1="237.2" x2="135.42" y2="240" stroke="#8440f8" stroke-width="0.85" />
<line x1="135.9" y1="237.2" x2="135.9" y2="240" stroke="#8440f8" stroke-width="0.85" />
<line x1="136.84" y1="237.2" x2="136.84" y2="240" stroke="#8440f8" stroke-width="0.85" />
<line x1="137.69" y1="237.2" x2="137.69" y2="240" stroke="#8440f8" stroke-width="0.85" />
<line x1="142.77" y1="237.2" x2="142.77" y2="240" stroke="#8440f8" stroke-width="0.85" />
<line x1="144.37" y1="237.2" x2="144.37" y2="240" stroke="#8440f8" stroke-width="0.85" />
<line x1="144.71" y1="237.2" x2="144.71" y2="240" stroke="#8440f8" stroke-width="0.85" />
<line x1="145.83" y1="237.2" x2="145.83" y2="240" stroke="#8440f8" stroke-width="0.85" />
<line x1="146.94" y1="237.2" x2="146.94" y2="240" stroke="#8440f8" stroke-width="0.85" />
<line x1="148.03" y1="237.2" x2="148.03" y2="240" stroke="#8440f8" stroke-width="0.85" />
<line x1="148.31" y1="237.2" x2="148.31" y2="240" stroke="#8440f8" stroke-width="0.85" />
<line x1="148.52" y1="237.2" x2="148.52" y2="240" stroke="#8440f8" stroke-width="0.85" />
<line x1="148.79" y1="237.2" x2="148.79" y2="240" stroke="#8440f8" stroke-width="0.85" />
<line x1="150.21" y1="237.2" x2="150.21" y2="240" stroke="#8440f8" stroke-width="0.85" />
<line x1="150.85" y1="237.2" x2="150.85" y2="240" stroke="#8440f8" stroke-width="0.85" />
<line x1="151.33" y1="237.2" x2="151.33" y2="240" stroke="#8440f8" stroke-width="0.85" />
<line x1="152.33" y1="237.2" x2="152.33" y2="240" stroke="#8440f8" stroke-width="0.85" />
<line x1="152.42" y1="237.2" x2="152.42" y2="240" stroke="#8440f8" stroke-width="0.85" />
<line x1="152.75" y1="237.2" x2="152.75" y2="240" stroke="#8440f8" stroke-width="0.85" />
<line x1="152.88" y1="237.2" x2="152.88" y2="240" stroke="#8440f8" stroke-width="0.85" />
<line x1="154.75" y1="237.2" x2="154.75" y2="240" stroke="#8440f8" stroke-width="0.85" />
<line x1="155.21" y1="237.2" x2="155.21" y2="240" stroke="#8440f8" stroke-width="0.85" />
<line x1="155.42" y1="237.2" x2="155.42" y2="240" stroke="#8440f8" stroke-width="0.85" />
<line x1="156.63" y1="237.2" x2="156.63" y2="240" stroke="#8440f8" stroke-width="0.85" />
<line x1="156.66" y1="237.2" x2="156.66" y2="240" stroke="#8440f8" stroke-width="0.85" />
<line x1="157.54" y1="237.2" x2="157.54" y2="240" stroke="#8440f8" stroke-width="0.85" />
<line x1="159.05" y1="237.2" x2="159.05" y2="240" stroke="#8440f8" stroke-width="0.85" />
<line x1="159.2" y1="237.2" x2="159.2" y2="240" stroke="#8440f8" stroke-width="0.85" />
<line x1="160.65" y1="237.2" x2="160.65" y2="240" stroke="#8440f8" stroke-width="0.85" />
<line x1="161.71" y1="237.2" x2="161.71" y2="240" stroke="#8440f8" stroke-width="0.85" />
<line x1="163.04" y1="237.2" x2="163.04" y2="240" stroke="#8440f8" stroke-width="0.85" />
<line x1="163.1" y1="237.2" x2="163.1" y2="240" stroke="#8440f8" stroke-width="0.85" />
<line x1="163.86" y1="237.2" x2="163.86" y2="240" stroke="#8440f8" stroke-width="0.85" />
<line x1="164.16" y1="237.2" x2="164.16" y2="240" stroke="#8440f8" stroke-width="0.85" />
<line x1="164.4" y1="237.2" x2="164.4" y2="240" stroke="#8440f8" stroke-width="0.85" />
<line x1="164.89" y1="237.2" x2="164.89" y2="240" stroke="#8440f8" stroke-width="0.85" />
<line x1="165.52" y1="237.2" x2="165.52" y2="240" stroke="#8440f8" stroke-width="0.85" />
<line x1="165.68" y1="237.2" x2="165.68" y2="240" stroke="#8440f8" stroke-width="0.85" />
<line x1="166.25" y1="237.2" x2="166.25" y2="240" stroke="#8440f8" stroke-width="0.85" />
<line x1="167.31" y1="237.2" x2="167.31" y2="240" stroke="#8440f8" stroke-width="0.85" />
<line x1="168.07" y1="237.2" x2="168.07" y2="240" stroke="#8440f8" stroke-width="0.85" />
<line x1="169.31" y1="237.2" x2="169.31" y2="240" stroke="#8440f8" stroke-width="0.85" />
<line x1="170.43" y1="237.2" x2="170.43" y2="240" stroke="#8440f8" stroke-width="0.85" />
<line x1="171" y1="237.2" x2="171" y2="240" stroke="#8440f8" stroke-width="0.85" />
<line x1="173.76" y1="237.2" x2="173.76" y2="240" stroke="#8440f8" stroke-width="0.85" />
<line x1="174.27" y1="237.2" x2="174.27" y2="240" stroke="#8440f8" stroke-width="0.85" />
<line x1="199.47" y1="242.4" x2="199.47" y2="246.2" stroke="#22908f" stroke-width="0.9" />
<line x1="213.14" y1="242.4" x2="213.14" y2="246.2" stroke="#22908f" stroke-width="0.9" />
<line x1="217.1" y1="242.4" x2="217.1" y2="246.2" stroke="#22908f" stroke-width="0.9" />
<line x1="227.44" y1="242.4" x2="227.44" y2="246.2" stroke="#22908f" stroke-width="0.9" />
<line x1="229.08" y1="242.4" x2="229.08" y2="246.2" stroke="#22908f" stroke-width="0.9" />
<line x1="231.92" y1="242.4" x2="231.92" y2="246.2" stroke="#22908f" stroke-width="0.9" />
<line x1="233.7" y1="242.4" x2="233.7" y2="246.2" stroke="#22908f" stroke-width="0.9" />
<line x1="237.33" y1="242.4" x2="237.33" y2="246.2" stroke="#22908f" stroke-width="0.9" />
<line x1="237.64" y1="242.4" x2="237.64" y2="246.2" stroke="#22908f" stroke-width="0.9" />
<line x1="241.63" y1="242.4" x2="241.63" y2="246.2" stroke="#22908f" stroke-width="0.9" />
<line x1="243.35" y1="242.4" x2="243.35" y2="246.2" stroke="#22908f" stroke-width="0.9" />
<line x1="243.47" y1="242.4" x2="243.47" y2="246.2" stroke="#22908f" stroke-width="0.9" />
<line x1="246.53" y1="242.4" x2="246.53" y2="246.2" stroke="#22908f" stroke-width="0.9" />
<line x1="252.91" y1="242.4" x2="252.91" y2="246.2" stroke="#22908f" stroke-width="0.9" />
<line x1="253.69" y1="242.4" x2="253.69" y2="246.2" stroke="#22908f" stroke-width="0.9" />
<line x1="254.06" y1="242.4" x2="254.06" y2="246.2" stroke="#22908f" stroke-width="0.9" />
<line x1="254.21" y1="242.4" x2="254.21" y2="246.2" stroke="#22908f" stroke-width="0.9" />
<line x1="255.27" y1="242.4" x2="255.27" y2="246.2" stroke="#22908f" stroke-width="0.9" />
<line x1="256.9" y1="242.4" x2="256.9" y2="246.2" stroke="#22908f" stroke-width="0.9" />
<line x1="257.99" y1="242.4" x2="257.99" y2="246.2" stroke="#22908f" stroke-width="0.9" />
<line x1="265.06" y1="242.4" x2="265.06" y2="246.2" stroke="#22908f" stroke-width="0.9" />
<line x1="265.43" y1="242.4" x2="265.43" y2="246.2" stroke="#22908f" stroke-width="0.9" />
<line x1="267.27" y1="242.4" x2="267.27" y2="246.2" stroke="#22908f" stroke-width="0.9" />
<line x1="268.78" y1="242.4" x2="268.78" y2="246.2" stroke="#22908f" stroke-width="0.9" />
<line x1="271.78" y1="242.4" x2="271.78" y2="246.2" stroke="#22908f" stroke-width="0.9" />
<line x1="273.2" y1="242.4" x2="273.2" y2="246.2" stroke="#22908f" stroke-width="0.9" />
<line x1="276.31" y1="242.4" x2="276.31" y2="246.2" stroke="#22908f" stroke-width="0.9" />
<line x1="277.49" y1="242.4" x2="277.49" y2="246.2" stroke="#22908f" stroke-width="0.9" />
<line x1="277.82" y1="242.4" x2="277.82" y2="246.2" stroke="#22908f" stroke-width="0.9" />
<line x1="285.41" y1="242.4" x2="285.41" y2="246.2" stroke="#22908f" stroke-width="0.9" />
<line x1="286.08" y1="242.4" x2="286.08" y2="246.2" stroke="#22908f" stroke-width="0.9" />
<line x1="286.35" y1="242.4" x2="286.35" y2="246.2" stroke="#22908f" stroke-width="0.9" />
<line x1="287.62" y1="242.4" x2="287.62" y2="246.2" stroke="#22908f" stroke-width="0.9" />
<line x1="288.71" y1="242.4" x2="288.71" y2="246.2" stroke="#22908f" stroke-width="0.9" />
<line x1="290.89" y1="242.4" x2="290.89" y2="246.2" stroke="#22908f" stroke-width="0.9" />
<line x1="293.4" y1="242.4" x2="293.4" y2="246.2" stroke="#22908f" stroke-width="0.9" />
<line x1="293.97" y1="242.4" x2="293.97" y2="246.2" stroke="#22908f" stroke-width="0.9" />
<line x1="294.34" y1="242.4" x2="294.34" y2="246.2" stroke="#22908f" stroke-width="0.9" />
<line x1="294.46" y1="242.4" x2="294.46" y2="246.2" stroke="#22908f" stroke-width="0.9" />
<line x1="294.55" y1="242.4" x2="294.55" y2="246.2" stroke="#22908f" stroke-width="0.9" />
<line x1="295.58" y1="242.4" x2="295.58" y2="246.2" stroke="#22908f" stroke-width="0.9" />
<line x1="297.48" y1="242.4" x2="297.48" y2="246.2" stroke="#22908f" stroke-width="0.9" />
<line x1="301.35" y1="242.4" x2="301.35" y2="246.2" stroke="#22908f" stroke-width="0.9" />
<line x1="302.95" y1="242.4" x2="302.95" y2="246.2" stroke="#22908f" stroke-width="0.9" />
<line x1="305.62" y1="242.4" x2="305.62" y2="246.2" stroke="#22908f" stroke-width="0.9" />
<line x1="306.34" y1="242.4" x2="306.34" y2="246.2" stroke="#22908f" stroke-width="0.9" />
<line x1="306.61" y1="242.4" x2="306.61" y2="246.2" stroke="#22908f" stroke-width="0.9" />
<line x1="313.93" y1="242.4" x2="313.93" y2="246.2" stroke="#22908f" stroke-width="0.9" />
<line x1="315.29" y1="242.4" x2="315.29" y2="246.2" stroke="#22908f" stroke-width="0.9" />
<line x1="317.26" y1="242.4" x2="317.26" y2="246.2" stroke="#22908f" stroke-width="0.9" />
<line x1="317.86" y1="242.4" x2="317.86" y2="246.2" stroke="#22908f" stroke-width="0.9" />
<line x1="319.92" y1="242.4" x2="319.92" y2="246.2" stroke="#22908f" stroke-width="0.9" />
<line x1="320.37" y1="242.4" x2="320.37" y2="246.2" stroke="#22908f" stroke-width="0.9" />
<line x1="320.46" y1="242.4" x2="320.46" y2="246.2" stroke="#22908f" stroke-width="0.9" />
<line x1="320.98" y1="242.4" x2="320.98" y2="246.2" stroke="#22908f" stroke-width="0.9" />
<line x1="321.31" y1="242.4" x2="321.31" y2="246.2" stroke="#22908f" stroke-width="0.9" />
<line x1="321.49" y1="242.4" x2="321.49" y2="246.2" stroke="#22908f" stroke-width="0.9" />
<line x1="321.64" y1="242.4" x2="321.64" y2="246.2" stroke="#22908f" stroke-width="0.9" />
<line x1="321.88" y1="242.4" x2="321.88" y2="246.2" stroke="#22908f" stroke-width="0.9" />
<line x1="326.03" y1="242.4" x2="326.03" y2="246.2" stroke="#22908f" stroke-width="0.9" />
<line x1="326.39" y1="242.4" x2="326.39" y2="246.2" stroke="#22908f" stroke-width="0.9" />
<line x1="329.14" y1="242.4" x2="329.14" y2="246.2" stroke="#22908f" stroke-width="0.9" />
<line x1="329.72" y1="242.4" x2="329.72" y2="246.2" stroke="#22908f" stroke-width="0.9" />
<line x1="330.05" y1="242.4" x2="330.05" y2="246.2" stroke="#22908f" stroke-width="0.9" />
<line x1="331.59" y1="242.4" x2="331.59" y2="246.2" stroke="#22908f" stroke-width="0.9" />
<line x1="332.38" y1="242.4" x2="332.38" y2="246.2" stroke="#22908f" stroke-width="0.9" />
<line x1="332.44" y1="242.4" x2="332.44" y2="246.2" stroke="#22908f" stroke-width="0.9" />
<line x1="334.43" y1="242.4" x2="334.43" y2="246.2" stroke="#22908f" stroke-width="0.9" />
<line x1="335.98" y1="242.4" x2="335.98" y2="246.2" stroke="#22908f" stroke-width="0.9" />
<line x1="336.22" y1="242.4" x2="336.22" y2="246.2" stroke="#22908f" stroke-width="0.9" />
<line x1="338.37" y1="242.4" x2="338.37" y2="246.2" stroke="#22908f" stroke-width="0.9" />
<line x1="339.27" y1="242.4" x2="339.27" y2="246.2" stroke="#22908f" stroke-width="0.9" />
<line x1="340.3" y1="242.4" x2="340.3" y2="246.2" stroke="#22908f" stroke-width="0.9" />
<line x1="342.18" y1="242.4" x2="342.18" y2="246.2" stroke="#22908f" stroke-width="0.9" />
<line x1="342.36" y1="242.4" x2="342.36" y2="246.2" stroke="#22908f" stroke-width="0.9" />
<line x1="342.9" y1="242.4" x2="342.9" y2="246.2" stroke="#22908f" stroke-width="0.9" />
<line x1="343.23" y1="242.4" x2="343.23" y2="246.2" stroke="#22908f" stroke-width="0.9" />
<line x1="344.11" y1="242.4" x2="344.11" y2="246.2" stroke="#22908f" stroke-width="0.9" />
<line x1="344.84" y1="242.4" x2="344.84" y2="246.2" stroke="#22908f" stroke-width="0.9" />
<line x1="345.26" y1="242.4" x2="345.26" y2="246.2" stroke="#22908f" stroke-width="0.9" />
<line x1="346.68" y1="242.4" x2="346.68" y2="246.2" stroke="#22908f" stroke-width="0.9" />
<line x1="347.47" y1="242.4" x2="347.47" y2="246.2" stroke="#22908f" stroke-width="0.9" />
</svg></body></html>
